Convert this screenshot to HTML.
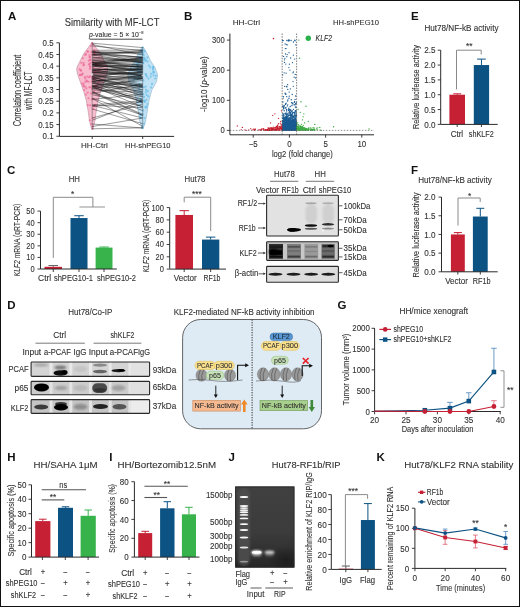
<!DOCTYPE html>
<html><head><meta charset="utf-8"><style>
html,body{margin:0;padding:0;background:#fff;}
body{width:520px;height:607px;overflow:hidden;}
svg{display:block;font-family:"Liberation Sans", sans-serif;will-change:transform;}
</style></head><body>
<svg width="520" height="607" viewBox="0 0 520 607"><defs><filter id="bl1" x="-50%" y="-100%" width="200%" height="300%"><feGaussianBlur stdDeviation="0.7"/></filter><filter id="bl2" x="-50%" y="-100%" width="200%" height="300%"><feGaussianBlur stdDeviation="1.2"/></filter><filter id="bl3" x="-50%" y="-100%" width="200%" height="300%"><feGaussianBlur stdDeviation="2"/></filter><filter id="bl05" x="-50%" y="-100%" width="200%" height="300%"><feGaussianBlur stdDeviation="0.45"/></filter><clipPath id="cb1"><rect x="266.60" y="195.20" width="71.80" height="40.80"/></clipPath><clipPath id="cb2"><rect x="266.60" y="241.80" width="71.80" height="18.60"/></clipPath><clipPath id="cb3"><rect x="266.60" y="266.40" width="71.80" height="15.80"/></clipPath><clipPath id="db1"><rect x="31.10" y="362.00" width="118.50" height="14.40"/></clipPath><clipPath id="db2"><rect x="31.10" y="381.40" width="118.50" height="13.40"/></clipPath><clipPath id="db3"><rect x="31.10" y="399.60" width="118.50" height="13.80"/></clipPath><linearGradient id="gelg" x1="0" y1="0" x2="0" y2="1"><stop offset="0" stop-color="#404040"/><stop offset="0.55" stop-color="#3c3c3c"/><stop offset="0.85" stop-color="#2e2e2e"/><stop offset="1" stop-color="#262626"/></linearGradient><filter id="glow" x="-50%" y="-100%" width="200%" height="300%"><feGaussianBlur stdDeviation="0.8"/></filter><clipPath id="gelc"><rect x="235.2" y="486.5" width="59.2" height="81.1"/></clipPath><radialGradient id="gelv" cx="0.5" cy="0.5" r="0.5"><stop offset="0" stop-color="#181818" stop-opacity="0.7"/><stop offset="1" stop-color="#181818" stop-opacity="0"/></radialGradient></defs>
<rect x="0.50" y="0.50" width="519.00" height="606.00" fill="none" stroke="#111" stroke-width="1"/>
<text x="8.00" y="19.60" font-size="11.5" fill="#111" font-weight="bold">A</text>
<text x="64.70" y="25.90" font-size="11.33" fill="#303030" stroke="#303030" stroke-width="0.1" textLength="94.70" lengthAdjust="spacingAndGlyphs">Similarity with MF-LCT</text>
<text x="89.00" y="36.80" font-size="7.04" fill="#303030" stroke="#303030" stroke-width="0.1" textLength="54.50" lengthAdjust="spacingAndGlyphs"><tspan font-style="italic">p</tspan>-value = 5 × 10<tspan font-size="4.2" dy="-2.8">−8</tspan></text>
<line x1="89.50" y1="39.20" x2="142.50" y2="39.20" stroke="#333" stroke-width="0.9"/>
<path d="M92.20,42.30 L92.60,42.60 L96.40,48.00 L100.40,53.00 L103.90,60.00 L106.90,66.00 L107.80,69.00 L107.20,73.00 L105.20,79.00 L102.70,86.00 L100.50,92.00 L98.10,100.70 L96.30,111.00 L94.80,121.40 L92.80,129.20 L92.20,129.50 L91.60,129.20 L89.60,121.40 L88.10,111.00 L86.30,100.70 L83.90,92.00 L81.70,86.00 L79.20,79.00 L77.20,73.00 L76.60,69.00 L77.50,66.00 L80.50,60.00 L84.00,53.00 L88.00,48.00 L91.80,42.60 Z" fill="#f7bccd" stroke="#b08090" stroke-width="0.5"/>
<path d="M142.70,46.80 L143.30,47.10 L146.50,52.30 L150.70,60.90 L155.10,67.80 L157.70,74.80 L156.50,81.70 L151.70,90.30 L149.00,100.70 L147.30,111.00 L145.60,121.40 L143.30,128.30 L142.70,128.60 L142.10,128.30 L139.80,121.40 L138.10,111.00 L136.40,100.70 L133.70,90.30 L128.90,81.70 L127.70,74.80 L130.30,67.80 L134.70,60.90 L138.90,52.30 L142.10,47.10 Z" fill="#bfe2f5" stroke="#80a8c0" stroke-width="0.5"/>
<circle cx="94.25" cy="50.35" r="1.10" fill="#ec6d9c" fill-opacity="0.75"/>
<circle cx="141.86" cy="49.93" r="1.10" fill="#6cbde8" fill-opacity="0.75"/>
<circle cx="94.72" cy="54.66" r="1.10" fill="#ec6d9c" fill-opacity="0.75"/>
<circle cx="141.98" cy="50.48" r="1.10" fill="#6cbde8" fill-opacity="0.75"/>
<circle cx="89.49" cy="55.09" r="1.10" fill="#ec6d9c" fill-opacity="0.75"/>
<circle cx="144.92" cy="51.52" r="1.10" fill="#6cbde8" fill-opacity="0.75"/>
<circle cx="94.83" cy="52.31" r="1.10" fill="#ec6d9c" fill-opacity="0.75"/>
<circle cx="141.49" cy="52.15" r="1.10" fill="#6cbde8" fill-opacity="0.75"/>
<circle cx="88.11" cy="51.67" r="1.10" fill="#ec6d9c" fill-opacity="0.75"/>
<circle cx="142.70" cy="52.77" r="1.10" fill="#6cbde8" fill-opacity="0.75"/>
<circle cx="91.28" cy="52.04" r="1.10" fill="#ec6d9c" fill-opacity="0.75"/>
<circle cx="142.59" cy="54.07" r="1.10" fill="#6cbde8" fill-opacity="0.75"/>
<circle cx="85.93" cy="54.13" r="1.10" fill="#ec6d9c" fill-opacity="0.75"/>
<circle cx="141.28" cy="57.15" r="1.10" fill="#6cbde8" fill-opacity="0.75"/>
<circle cx="93.60" cy="52.08" r="1.10" fill="#ec6d9c" fill-opacity="0.75"/>
<circle cx="147.40" cy="57.42" r="1.10" fill="#6cbde8" fill-opacity="0.75"/>
<circle cx="81.20" cy="62.85" r="1.10" fill="#ec6d9c" fill-opacity="0.75"/>
<circle cx="144.24" cy="57.49" r="1.10" fill="#6cbde8" fill-opacity="0.75"/>
<circle cx="94.15" cy="53.13" r="1.10" fill="#ec6d9c" fill-opacity="0.75"/>
<circle cx="139.23" cy="57.60" r="1.10" fill="#6cbde8" fill-opacity="0.75"/>
<circle cx="97.15" cy="64.29" r="1.10" fill="#ec6d9c" fill-opacity="0.75"/>
<circle cx="139.97" cy="57.74" r="1.10" fill="#6cbde8" fill-opacity="0.75"/>
<circle cx="92.19" cy="54.87" r="1.10" fill="#ec6d9c" fill-opacity="0.75"/>
<circle cx="144.24" cy="58.53" r="1.10" fill="#6cbde8" fill-opacity="0.75"/>
<circle cx="92.72" cy="62.24" r="1.10" fill="#ec6d9c" fill-opacity="0.75"/>
<circle cx="141.71" cy="58.99" r="1.10" fill="#6cbde8" fill-opacity="0.75"/>
<circle cx="88.95" cy="60.68" r="1.10" fill="#ec6d9c" fill-opacity="0.75"/>
<circle cx="144.65" cy="59.07" r="1.10" fill="#6cbde8" fill-opacity="0.75"/>
<circle cx="89.51" cy="57.15" r="1.10" fill="#ec6d9c" fill-opacity="0.75"/>
<circle cx="145.61" cy="59.89" r="1.10" fill="#6cbde8" fill-opacity="0.75"/>
<circle cx="89.00" cy="64.41" r="1.10" fill="#ec6d9c" fill-opacity="0.75"/>
<circle cx="143.14" cy="60.21" r="1.10" fill="#6cbde8" fill-opacity="0.75"/>
<circle cx="82.84" cy="58.25" r="1.10" fill="#ec6d9c" fill-opacity="0.75"/>
<circle cx="145.32" cy="60.84" r="1.10" fill="#6cbde8" fill-opacity="0.75"/>
<circle cx="90.29" cy="59.63" r="1.10" fill="#ec6d9c" fill-opacity="0.75"/>
<circle cx="140.69" cy="61.09" r="1.10" fill="#6cbde8" fill-opacity="0.75"/>
<circle cx="95.42" cy="62.88" r="1.10" fill="#ec6d9c" fill-opacity="0.75"/>
<circle cx="147.44" cy="61.41" r="1.10" fill="#6cbde8" fill-opacity="0.75"/>
<circle cx="90.02" cy="57.09" r="1.10" fill="#ec6d9c" fill-opacity="0.75"/>
<circle cx="139.72" cy="62.48" r="1.10" fill="#6cbde8" fill-opacity="0.75"/>
<circle cx="89.59" cy="64.03" r="1.10" fill="#ec6d9c" fill-opacity="0.75"/>
<circle cx="138.67" cy="62.72" r="1.10" fill="#6cbde8" fill-opacity="0.75"/>
<circle cx="87.31" cy="51.39" r="1.10" fill="#ec6d9c" fill-opacity="0.75"/>
<circle cx="143.12" cy="62.77" r="1.10" fill="#6cbde8" fill-opacity="0.75"/>
<circle cx="85.23" cy="54.89" r="1.10" fill="#ec6d9c" fill-opacity="0.75"/>
<circle cx="143.29" cy="62.99" r="1.10" fill="#6cbde8" fill-opacity="0.75"/>
<circle cx="90.19" cy="66.83" r="1.10" fill="#ec6d9c" fill-opacity="0.75"/>
<circle cx="137.25" cy="64.21" r="1.10" fill="#6cbde8" fill-opacity="0.75"/>
<circle cx="92.89" cy="61.94" r="1.10" fill="#ec6d9c" fill-opacity="0.75"/>
<circle cx="137.64" cy="65.00" r="1.10" fill="#6cbde8" fill-opacity="0.75"/>
<circle cx="95.27" cy="70.83" r="1.10" fill="#ec6d9c" fill-opacity="0.75"/>
<circle cx="148.90" cy="65.52" r="1.10" fill="#6cbde8" fill-opacity="0.75"/>
<circle cx="90.46" cy="62.81" r="1.10" fill="#ec6d9c" fill-opacity="0.75"/>
<circle cx="136.94" cy="65.77" r="1.10" fill="#6cbde8" fill-opacity="0.75"/>
<circle cx="90.06" cy="66.43" r="1.10" fill="#ec6d9c" fill-opacity="0.75"/>
<circle cx="142.32" cy="66.52" r="1.10" fill="#6cbde8" fill-opacity="0.75"/>
<circle cx="99.41" cy="64.02" r="1.10" fill="#ec6d9c" fill-opacity="0.75"/>
<circle cx="138.09" cy="66.63" r="1.10" fill="#6cbde8" fill-opacity="0.75"/>
<circle cx="97.57" cy="64.45" r="1.10" fill="#ec6d9c" fill-opacity="0.75"/>
<circle cx="153.29" cy="66.92" r="1.10" fill="#6cbde8" fill-opacity="0.75"/>
<circle cx="94.79" cy="78.81" r="1.10" fill="#ec6d9c" fill-opacity="0.75"/>
<circle cx="150.21" cy="67.28" r="1.10" fill="#6cbde8" fill-opacity="0.75"/>
<circle cx="83.48" cy="65.21" r="1.10" fill="#ec6d9c" fill-opacity="0.75"/>
<circle cx="153.27" cy="67.35" r="1.10" fill="#6cbde8" fill-opacity="0.75"/>
<circle cx="90.30" cy="60.00" r="1.10" fill="#ec6d9c" fill-opacity="0.75"/>
<circle cx="153.24" cy="68.39" r="1.10" fill="#6cbde8" fill-opacity="0.75"/>
<circle cx="99.53" cy="69.97" r="1.10" fill="#ec6d9c" fill-opacity="0.75"/>
<circle cx="138.23" cy="68.61" r="1.10" fill="#6cbde8" fill-opacity="0.75"/>
<circle cx="96.47" cy="72.21" r="1.10" fill="#ec6d9c" fill-opacity="0.75"/>
<circle cx="152.94" cy="69.06" r="1.10" fill="#6cbde8" fill-opacity="0.75"/>
<circle cx="79.74" cy="69.41" r="1.10" fill="#ec6d9c" fill-opacity="0.75"/>
<circle cx="141.75" cy="69.11" r="1.10" fill="#6cbde8" fill-opacity="0.75"/>
<circle cx="95.53" cy="65.04" r="1.10" fill="#ec6d9c" fill-opacity="0.75"/>
<circle cx="137.96" cy="69.71" r="1.10" fill="#6cbde8" fill-opacity="0.75"/>
<circle cx="99.07" cy="70.01" r="1.10" fill="#ec6d9c" fill-opacity="0.75"/>
<circle cx="140.22" cy="69.99" r="1.10" fill="#6cbde8" fill-opacity="0.75"/>
<circle cx="96.80" cy="65.06" r="1.10" fill="#ec6d9c" fill-opacity="0.75"/>
<circle cx="137.57" cy="70.34" r="1.10" fill="#6cbde8" fill-opacity="0.75"/>
<circle cx="89.91" cy="68.95" r="1.10" fill="#ec6d9c" fill-opacity="0.75"/>
<circle cx="153.38" cy="71.28" r="1.10" fill="#6cbde8" fill-opacity="0.75"/>
<circle cx="83.94" cy="64.73" r="1.10" fill="#ec6d9c" fill-opacity="0.75"/>
<circle cx="139.86" cy="71.58" r="1.10" fill="#6cbde8" fill-opacity="0.75"/>
<circle cx="90.25" cy="76.46" r="1.10" fill="#ec6d9c" fill-opacity="0.75"/>
<circle cx="141.00" cy="72.06" r="1.10" fill="#6cbde8" fill-opacity="0.75"/>
<circle cx="80.06" cy="74.88" r="1.10" fill="#ec6d9c" fill-opacity="0.75"/>
<circle cx="138.12" cy="72.15" r="1.10" fill="#6cbde8" fill-opacity="0.75"/>
<circle cx="83.54" cy="62.93" r="1.10" fill="#ec6d9c" fill-opacity="0.75"/>
<circle cx="154.06" cy="72.43" r="1.10" fill="#6cbde8" fill-opacity="0.75"/>
<circle cx="93.99" cy="72.95" r="1.10" fill="#ec6d9c" fill-opacity="0.75"/>
<circle cx="153.24" cy="72.61" r="1.10" fill="#6cbde8" fill-opacity="0.75"/>
<circle cx="82.64" cy="73.67" r="1.10" fill="#ec6d9c" fill-opacity="0.75"/>
<circle cx="151.16" cy="73.87" r="1.10" fill="#6cbde8" fill-opacity="0.75"/>
<circle cx="81.03" cy="70.64" r="1.10" fill="#ec6d9c" fill-opacity="0.75"/>
<circle cx="145.59" cy="74.10" r="1.10" fill="#6cbde8" fill-opacity="0.75"/>
<circle cx="93.03" cy="67.98" r="1.10" fill="#ec6d9c" fill-opacity="0.75"/>
<circle cx="141.80" cy="74.71" r="1.10" fill="#6cbde8" fill-opacity="0.75"/>
<circle cx="98.41" cy="71.96" r="1.10" fill="#ec6d9c" fill-opacity="0.75"/>
<circle cx="146.19" cy="74.93" r="1.10" fill="#6cbde8" fill-opacity="0.75"/>
<circle cx="91.84" cy="81.64" r="1.10" fill="#ec6d9c" fill-opacity="0.75"/>
<circle cx="153.50" cy="75.28" r="1.10" fill="#6cbde8" fill-opacity="0.75"/>
<circle cx="80.75" cy="70.27" r="1.10" fill="#ec6d9c" fill-opacity="0.75"/>
<circle cx="155.88" cy="75.83" r="1.10" fill="#6cbde8" fill-opacity="0.75"/>
<circle cx="92.88" cy="71.88" r="1.10" fill="#ec6d9c" fill-opacity="0.75"/>
<circle cx="142.57" cy="75.97" r="1.10" fill="#6cbde8" fill-opacity="0.75"/>
<circle cx="96.53" cy="65.80" r="1.10" fill="#ec6d9c" fill-opacity="0.75"/>
<circle cx="139.70" cy="76.06" r="1.10" fill="#6cbde8" fill-opacity="0.75"/>
<circle cx="99.22" cy="81.85" r="1.10" fill="#ec6d9c" fill-opacity="0.75"/>
<circle cx="146.62" cy="76.39" r="1.10" fill="#6cbde8" fill-opacity="0.75"/>
<circle cx="87.24" cy="76.64" r="1.10" fill="#ec6d9c" fill-opacity="0.75"/>
<circle cx="150.73" cy="76.67" r="1.10" fill="#6cbde8" fill-opacity="0.75"/>
<circle cx="88.98" cy="77.22" r="1.10" fill="#ec6d9c" fill-opacity="0.75"/>
<circle cx="137.83" cy="77.42" r="1.10" fill="#6cbde8" fill-opacity="0.75"/>
<circle cx="95.45" cy="72.27" r="1.10" fill="#ec6d9c" fill-opacity="0.75"/>
<circle cx="135.05" cy="77.70" r="1.10" fill="#6cbde8" fill-opacity="0.75"/>
<circle cx="95.64" cy="86.16" r="1.10" fill="#ec6d9c" fill-opacity="0.75"/>
<circle cx="139.55" cy="78.43" r="1.10" fill="#6cbde8" fill-opacity="0.75"/>
<circle cx="92.97" cy="78.97" r="1.10" fill="#ec6d9c" fill-opacity="0.75"/>
<circle cx="155.28" cy="78.49" r="1.10" fill="#6cbde8" fill-opacity="0.75"/>
<circle cx="92.00" cy="89.01" r="1.10" fill="#ec6d9c" fill-opacity="0.75"/>
<circle cx="148.37" cy="78.61" r="1.10" fill="#6cbde8" fill-opacity="0.75"/>
<circle cx="86.86" cy="80.71" r="1.10" fill="#ec6d9c" fill-opacity="0.75"/>
<circle cx="134.15" cy="78.73" r="1.10" fill="#6cbde8" fill-opacity="0.75"/>
<circle cx="80.02" cy="74.98" r="1.10" fill="#ec6d9c" fill-opacity="0.75"/>
<circle cx="137.33" cy="78.89" r="1.10" fill="#6cbde8" fill-opacity="0.75"/>
<circle cx="92.45" cy="86.04" r="1.10" fill="#ec6d9c" fill-opacity="0.75"/>
<circle cx="143.38" cy="80.46" r="1.10" fill="#6cbde8" fill-opacity="0.75"/>
<circle cx="91.17" cy="93.45" r="1.10" fill="#ec6d9c" fill-opacity="0.75"/>
<circle cx="152.03" cy="83.95" r="1.10" fill="#6cbde8" fill-opacity="0.75"/>
<circle cx="82.04" cy="74.58" r="1.10" fill="#ec6d9c" fill-opacity="0.75"/>
<circle cx="139.49" cy="84.23" r="1.10" fill="#6cbde8" fill-opacity="0.75"/>
<circle cx="93.21" cy="79.83" r="1.10" fill="#ec6d9c" fill-opacity="0.75"/>
<circle cx="135.91" cy="84.97" r="1.10" fill="#6cbde8" fill-opacity="0.75"/>
<circle cx="81.99" cy="83.49" r="1.10" fill="#ec6d9c" fill-opacity="0.75"/>
<circle cx="141.92" cy="85.64" r="1.10" fill="#6cbde8" fill-opacity="0.75"/>
<circle cx="81.55" cy="74.83" r="1.10" fill="#ec6d9c" fill-opacity="0.75"/>
<circle cx="141.97" cy="86.00" r="1.10" fill="#6cbde8" fill-opacity="0.75"/>
<circle cx="85.39" cy="81.57" r="1.10" fill="#ec6d9c" fill-opacity="0.75"/>
<circle cx="145.75" cy="86.57" r="1.10" fill="#6cbde8" fill-opacity="0.75"/>
<circle cx="91.98" cy="77.65" r="1.10" fill="#ec6d9c" fill-opacity="0.75"/>
<circle cx="139.49" cy="86.83" r="1.10" fill="#6cbde8" fill-opacity="0.75"/>
<circle cx="92.66" cy="79.36" r="1.10" fill="#ec6d9c" fill-opacity="0.75"/>
<circle cx="143.90" cy="87.36" r="1.10" fill="#6cbde8" fill-opacity="0.75"/>
<circle cx="85.09" cy="86.85" r="1.10" fill="#ec6d9c" fill-opacity="0.75"/>
<circle cx="151.22" cy="87.46" r="1.10" fill="#6cbde8" fill-opacity="0.75"/>
<circle cx="84.91" cy="77.09" r="1.10" fill="#ec6d9c" fill-opacity="0.75"/>
<circle cx="139.17" cy="89.61" r="1.10" fill="#6cbde8" fill-opacity="0.75"/>
<circle cx="83.63" cy="83.66" r="1.10" fill="#ec6d9c" fill-opacity="0.75"/>
<circle cx="146.00" cy="89.89" r="1.10" fill="#6cbde8" fill-opacity="0.75"/>
<circle cx="96.49" cy="85.91" r="1.10" fill="#ec6d9c" fill-opacity="0.75"/>
<circle cx="147.72" cy="91.21" r="1.10" fill="#6cbde8" fill-opacity="0.75"/>
<circle cx="88.63" cy="81.77" r="1.10" fill="#ec6d9c" fill-opacity="0.75"/>
<circle cx="140.96" cy="92.09" r="1.10" fill="#6cbde8" fill-opacity="0.75"/>
<circle cx="84.24" cy="90.03" r="1.10" fill="#ec6d9c" fill-opacity="0.75"/>
<circle cx="145.81" cy="92.35" r="1.10" fill="#6cbde8" fill-opacity="0.75"/>
<circle cx="91.85" cy="99.41" r="1.10" fill="#ec6d9c" fill-opacity="0.75"/>
<circle cx="142.10" cy="94.06" r="1.10" fill="#6cbde8" fill-opacity="0.75"/>
<circle cx="93.14" cy="76.58" r="1.10" fill="#ec6d9c" fill-opacity="0.75"/>
<circle cx="143.22" cy="94.19" r="1.10" fill="#6cbde8" fill-opacity="0.75"/>
<circle cx="98.06" cy="82.95" r="1.10" fill="#ec6d9c" fill-opacity="0.75"/>
<circle cx="146.60" cy="94.94" r="1.10" fill="#6cbde8" fill-opacity="0.75"/>
<circle cx="85.25" cy="78.44" r="1.10" fill="#ec6d9c" fill-opacity="0.75"/>
<circle cx="148.30" cy="96.41" r="1.10" fill="#6cbde8" fill-opacity="0.75"/>
<circle cx="83.54" cy="86.32" r="1.10" fill="#ec6d9c" fill-opacity="0.75"/>
<circle cx="144.13" cy="96.96" r="1.10" fill="#6cbde8" fill-opacity="0.75"/>
<circle cx="89.29" cy="87.33" r="1.10" fill="#ec6d9c" fill-opacity="0.75"/>
<circle cx="141.06" cy="98.98" r="1.10" fill="#6cbde8" fill-opacity="0.75"/>
<circle cx="83.49" cy="85.38" r="1.10" fill="#ec6d9c" fill-opacity="0.75"/>
<circle cx="146.39" cy="99.96" r="1.10" fill="#6cbde8" fill-opacity="0.75"/>
<circle cx="89.77" cy="120.28" r="1.10" fill="#ec6d9c" fill-opacity="0.75"/>
<circle cx="144.13" cy="100.64" r="1.10" fill="#6cbde8" fill-opacity="0.75"/>
<circle cx="94.84" cy="104.91" r="1.10" fill="#ec6d9c" fill-opacity="0.75"/>
<circle cx="140.27" cy="100.71" r="1.10" fill="#6cbde8" fill-opacity="0.75"/>
<circle cx="86.41" cy="88.35" r="1.10" fill="#ec6d9c" fill-opacity="0.75"/>
<circle cx="144.65" cy="101.05" r="1.10" fill="#6cbde8" fill-opacity="0.75"/>
<circle cx="90.80" cy="87.25" r="1.10" fill="#ec6d9c" fill-opacity="0.75"/>
<circle cx="144.91" cy="101.97" r="1.10" fill="#6cbde8" fill-opacity="0.75"/>
<circle cx="93.77" cy="106.41" r="1.10" fill="#ec6d9c" fill-opacity="0.75"/>
<circle cx="140.64" cy="102.01" r="1.10" fill="#6cbde8" fill-opacity="0.75"/>
<circle cx="86.93" cy="81.52" r="1.10" fill="#ec6d9c" fill-opacity="0.75"/>
<circle cx="141.80" cy="102.52" r="1.10" fill="#6cbde8" fill-opacity="0.75"/>
<circle cx="85.94" cy="94.65" r="1.10" fill="#ec6d9c" fill-opacity="0.75"/>
<circle cx="146.64" cy="106.32" r="1.10" fill="#6cbde8" fill-opacity="0.75"/>
<circle cx="95.06" cy="86.19" r="1.10" fill="#ec6d9c" fill-opacity="0.75"/>
<circle cx="145.19" cy="107.03" r="1.10" fill="#6cbde8" fill-opacity="0.75"/>
<circle cx="87.64" cy="105.14" r="1.10" fill="#ec6d9c" fill-opacity="0.75"/>
<circle cx="146.13" cy="107.70" r="1.10" fill="#6cbde8" fill-opacity="0.75"/>
<circle cx="94.03" cy="91.77" r="1.10" fill="#ec6d9c" fill-opacity="0.75"/>
<circle cx="143.16" cy="110.62" r="1.10" fill="#6cbde8" fill-opacity="0.75"/>
<circle cx="93.99" cy="91.69" r="1.10" fill="#ec6d9c" fill-opacity="0.75"/>
<circle cx="143.02" cy="114.40" r="1.10" fill="#6cbde8" fill-opacity="0.75"/>
<circle cx="88.51" cy="98.26" r="1.10" fill="#ec6d9c" fill-opacity="0.75"/>
<circle cx="140.97" cy="115.24" r="1.10" fill="#6cbde8" fill-opacity="0.75"/>
<circle cx="87.71" cy="92.58" r="1.10" fill="#ec6d9c" fill-opacity="0.75"/>
<circle cx="140.59" cy="115.31" r="1.10" fill="#6cbde8" fill-opacity="0.75"/>
<circle cx="90.18" cy="105.37" r="1.10" fill="#ec6d9c" fill-opacity="0.75"/>
<circle cx="144.51" cy="117.98" r="1.10" fill="#6cbde8" fill-opacity="0.75"/>
<circle cx="92.83" cy="108.99" r="1.10" fill="#ec6d9c" fill-opacity="0.75"/>
<circle cx="144.13" cy="123.69" r="1.10" fill="#6cbde8" fill-opacity="0.75"/>
<circle cx="93.29" cy="98.50" r="1.10" fill="#ec6d9c" fill-opacity="0.75"/>
<circle cx="142.45" cy="126.37" r="1.10" fill="#6cbde8" fill-opacity="0.75"/>
<circle cx="92.14" cy="43.20" r="1.10" fill="#ec6d9c" fill-opacity="0.75"/>
<circle cx="142.75" cy="47.60" r="1.10" fill="#6cbde8" fill-opacity="0.75"/>
<circle cx="92.69" cy="44.50" r="1.10" fill="#ec6d9c" fill-opacity="0.75"/>
<circle cx="143.65" cy="55.00" r="1.10" fill="#6cbde8" fill-opacity="0.75"/>
<circle cx="90.80" cy="46.00" r="1.10" fill="#ec6d9c" fill-opacity="0.75"/>
<circle cx="143.68" cy="50.50" r="1.10" fill="#6cbde8" fill-opacity="0.75"/>
<circle cx="92.58" cy="128.80" r="1.10" fill="#ec6d9c" fill-opacity="0.75"/>
<circle cx="142.49" cy="127.80" r="1.10" fill="#6cbde8" fill-opacity="0.75"/>
<circle cx="92.74" cy="126.50" r="1.10" fill="#ec6d9c" fill-opacity="0.75"/>
<circle cx="140.71" cy="118.00" r="1.10" fill="#6cbde8" fill-opacity="0.75"/>
<circle cx="91.22" cy="124.00" r="1.10" fill="#ec6d9c" fill-opacity="0.75"/>
<circle cx="142.53" cy="128.00" r="1.10" fill="#6cbde8" fill-opacity="0.75"/>
<circle cx="92.87" cy="118.00" r="1.10" fill="#ec6d9c" fill-opacity="0.75"/>
<circle cx="147.40" cy="104.00" r="1.10" fill="#6cbde8" fill-opacity="0.75"/>
<line x1="92.20" y1="50.35" x2="142.70" y2="49.93" stroke="#111" stroke-width="0.42"/>
<line x1="92.20" y1="54.66" x2="142.70" y2="50.48" stroke="#111" stroke-width="0.42"/>
<line x1="92.20" y1="55.09" x2="142.70" y2="51.52" stroke="#111" stroke-width="0.42"/>
<line x1="92.20" y1="52.31" x2="142.70" y2="52.15" stroke="#111" stroke-width="0.42"/>
<line x1="92.20" y1="51.67" x2="142.70" y2="52.77" stroke="#111" stroke-width="0.42"/>
<line x1="92.20" y1="52.04" x2="142.70" y2="54.07" stroke="#111" stroke-width="0.42"/>
<line x1="92.20" y1="54.13" x2="142.70" y2="57.15" stroke="#111" stroke-width="0.42"/>
<line x1="92.20" y1="52.08" x2="142.70" y2="57.42" stroke="#111" stroke-width="0.42"/>
<line x1="92.20" y1="62.85" x2="142.70" y2="57.49" stroke="#111" stroke-width="0.42"/>
<line x1="92.20" y1="53.13" x2="142.70" y2="57.60" stroke="#111" stroke-width="0.42"/>
<line x1="92.20" y1="64.29" x2="142.70" y2="57.74" stroke="#111" stroke-width="0.42"/>
<line x1="92.20" y1="54.87" x2="142.70" y2="58.53" stroke="#111" stroke-width="0.42"/>
<line x1="92.20" y1="62.24" x2="142.70" y2="58.99" stroke="#111" stroke-width="0.42"/>
<line x1="92.20" y1="60.68" x2="142.70" y2="59.07" stroke="#111" stroke-width="0.42"/>
<line x1="92.20" y1="57.15" x2="142.70" y2="59.89" stroke="#111" stroke-width="0.42"/>
<line x1="92.20" y1="64.41" x2="142.70" y2="60.21" stroke="#111" stroke-width="0.42"/>
<line x1="92.20" y1="58.25" x2="142.70" y2="60.84" stroke="#111" stroke-width="0.42"/>
<line x1="92.20" y1="59.63" x2="142.70" y2="61.09" stroke="#111" stroke-width="0.42"/>
<line x1="92.20" y1="62.88" x2="142.70" y2="61.41" stroke="#111" stroke-width="0.42"/>
<line x1="92.20" y1="57.09" x2="142.70" y2="62.48" stroke="#111" stroke-width="0.42"/>
<line x1="92.20" y1="64.03" x2="142.70" y2="62.72" stroke="#111" stroke-width="0.42"/>
<line x1="92.20" y1="51.39" x2="142.70" y2="62.77" stroke="#111" stroke-width="0.42"/>
<line x1="92.20" y1="54.89" x2="142.70" y2="62.99" stroke="#111" stroke-width="0.42"/>
<line x1="92.20" y1="66.83" x2="142.70" y2="64.21" stroke="#111" stroke-width="0.42"/>
<line x1="92.20" y1="61.94" x2="142.70" y2="65.00" stroke="#111" stroke-width="0.42"/>
<line x1="92.20" y1="70.83" x2="142.70" y2="65.52" stroke="#111" stroke-width="0.42"/>
<line x1="92.20" y1="62.81" x2="142.70" y2="65.77" stroke="#111" stroke-width="0.42"/>
<line x1="92.20" y1="66.43" x2="142.70" y2="66.52" stroke="#111" stroke-width="0.42"/>
<line x1="92.20" y1="64.02" x2="142.70" y2="66.63" stroke="#111" stroke-width="0.42"/>
<line x1="92.20" y1="64.45" x2="142.70" y2="66.92" stroke="#111" stroke-width="0.42"/>
<line x1="92.20" y1="78.81" x2="142.70" y2="67.28" stroke="#111" stroke-width="0.42"/>
<line x1="92.20" y1="65.21" x2="142.70" y2="67.35" stroke="#111" stroke-width="0.42"/>
<line x1="92.20" y1="60.00" x2="142.70" y2="68.39" stroke="#111" stroke-width="0.42"/>
<line x1="92.20" y1="69.97" x2="142.70" y2="68.61" stroke="#111" stroke-width="0.42"/>
<line x1="92.20" y1="72.21" x2="142.70" y2="69.06" stroke="#111" stroke-width="0.42"/>
<line x1="92.20" y1="69.41" x2="142.70" y2="69.11" stroke="#111" stroke-width="0.42"/>
<line x1="92.20" y1="65.04" x2="142.70" y2="69.71" stroke="#111" stroke-width="0.42"/>
<line x1="92.20" y1="70.01" x2="142.70" y2="69.99" stroke="#111" stroke-width="0.42"/>
<line x1="92.20" y1="65.06" x2="142.70" y2="70.34" stroke="#111" stroke-width="0.42"/>
<line x1="92.20" y1="68.95" x2="142.70" y2="71.28" stroke="#111" stroke-width="0.42"/>
<line x1="92.20" y1="64.73" x2="142.70" y2="71.58" stroke="#111" stroke-width="0.42"/>
<line x1="92.20" y1="76.46" x2="142.70" y2="72.06" stroke="#111" stroke-width="0.42"/>
<line x1="92.20" y1="74.88" x2="142.70" y2="72.15" stroke="#111" stroke-width="0.42"/>
<line x1="92.20" y1="62.93" x2="142.70" y2="72.43" stroke="#111" stroke-width="0.42"/>
<line x1="92.20" y1="72.95" x2="142.70" y2="72.61" stroke="#111" stroke-width="0.42"/>
<line x1="92.20" y1="73.67" x2="142.70" y2="73.87" stroke="#111" stroke-width="0.42"/>
<line x1="92.20" y1="70.64" x2="142.70" y2="74.10" stroke="#111" stroke-width="0.42"/>
<line x1="92.20" y1="67.98" x2="142.70" y2="74.71" stroke="#111" stroke-width="0.42"/>
<line x1="92.20" y1="71.96" x2="142.70" y2="74.93" stroke="#111" stroke-width="0.42"/>
<line x1="92.20" y1="81.64" x2="142.70" y2="75.28" stroke="#111" stroke-width="0.42"/>
<line x1="92.20" y1="70.27" x2="142.70" y2="75.83" stroke="#111" stroke-width="0.42"/>
<line x1="92.20" y1="71.88" x2="142.70" y2="75.97" stroke="#111" stroke-width="0.42"/>
<line x1="92.20" y1="65.80" x2="142.70" y2="76.06" stroke="#111" stroke-width="0.42"/>
<line x1="92.20" y1="81.85" x2="142.70" y2="76.39" stroke="#111" stroke-width="0.42"/>
<line x1="92.20" y1="76.64" x2="142.70" y2="76.67" stroke="#111" stroke-width="0.42"/>
<line x1="92.20" y1="77.22" x2="142.70" y2="77.42" stroke="#111" stroke-width="0.42"/>
<line x1="92.20" y1="72.27" x2="142.70" y2="77.70" stroke="#111" stroke-width="0.42"/>
<line x1="92.20" y1="86.16" x2="142.70" y2="78.43" stroke="#111" stroke-width="0.42"/>
<line x1="92.20" y1="78.97" x2="142.70" y2="78.49" stroke="#111" stroke-width="0.42"/>
<line x1="92.20" y1="89.01" x2="142.70" y2="78.61" stroke="#111" stroke-width="0.42"/>
<line x1="92.20" y1="80.71" x2="142.70" y2="78.73" stroke="#111" stroke-width="0.42"/>
<line x1="92.20" y1="74.98" x2="142.70" y2="78.89" stroke="#111" stroke-width="0.42"/>
<line x1="92.20" y1="86.04" x2="142.70" y2="80.46" stroke="#111" stroke-width="0.42"/>
<line x1="92.20" y1="93.45" x2="142.70" y2="83.95" stroke="#111" stroke-width="0.42"/>
<line x1="92.20" y1="74.58" x2="142.70" y2="84.23" stroke="#111" stroke-width="0.42"/>
<line x1="92.20" y1="79.83" x2="142.70" y2="84.97" stroke="#111" stroke-width="0.42"/>
<line x1="92.20" y1="83.49" x2="142.70" y2="85.64" stroke="#111" stroke-width="0.42"/>
<line x1="92.20" y1="74.83" x2="142.70" y2="86.00" stroke="#111" stroke-width="0.42"/>
<line x1="92.20" y1="81.57" x2="142.70" y2="86.57" stroke="#111" stroke-width="0.42"/>
<line x1="92.20" y1="77.65" x2="142.70" y2="86.83" stroke="#111" stroke-width="0.42"/>
<line x1="92.20" y1="79.36" x2="142.70" y2="87.36" stroke="#111" stroke-width="0.42"/>
<line x1="92.20" y1="86.85" x2="142.70" y2="87.46" stroke="#111" stroke-width="0.42"/>
<line x1="92.20" y1="77.09" x2="142.70" y2="89.61" stroke="#111" stroke-width="0.42"/>
<line x1="92.20" y1="83.66" x2="142.70" y2="89.89" stroke="#111" stroke-width="0.42"/>
<line x1="92.20" y1="85.91" x2="142.70" y2="91.21" stroke="#111" stroke-width="0.42"/>
<line x1="92.20" y1="81.77" x2="142.70" y2="92.09" stroke="#111" stroke-width="0.42"/>
<line x1="92.20" y1="90.03" x2="142.70" y2="92.35" stroke="#111" stroke-width="0.42"/>
<line x1="92.20" y1="99.41" x2="142.70" y2="94.06" stroke="#111" stroke-width="0.42"/>
<line x1="92.20" y1="76.58" x2="142.70" y2="94.19" stroke="#111" stroke-width="0.42"/>
<line x1="92.20" y1="82.95" x2="142.70" y2="94.94" stroke="#111" stroke-width="0.42"/>
<line x1="92.20" y1="78.44" x2="142.70" y2="96.41" stroke="#111" stroke-width="0.42"/>
<line x1="92.20" y1="86.32" x2="142.70" y2="96.96" stroke="#111" stroke-width="0.42"/>
<line x1="92.20" y1="87.33" x2="142.70" y2="98.98" stroke="#111" stroke-width="0.42"/>
<line x1="92.20" y1="85.38" x2="142.70" y2="99.96" stroke="#111" stroke-width="0.42"/>
<line x1="92.20" y1="120.28" x2="142.70" y2="100.64" stroke="#111" stroke-width="0.42"/>
<line x1="92.20" y1="104.91" x2="142.70" y2="100.71" stroke="#111" stroke-width="0.42"/>
<line x1="92.20" y1="88.35" x2="142.70" y2="101.05" stroke="#111" stroke-width="0.42"/>
<line x1="92.20" y1="87.25" x2="142.70" y2="101.97" stroke="#111" stroke-width="0.42"/>
<line x1="92.20" y1="106.41" x2="142.70" y2="102.01" stroke="#111" stroke-width="0.42"/>
<line x1="92.20" y1="81.52" x2="142.70" y2="102.52" stroke="#111" stroke-width="0.42"/>
<line x1="92.20" y1="94.65" x2="142.70" y2="106.32" stroke="#111" stroke-width="0.42"/>
<line x1="92.20" y1="86.19" x2="142.70" y2="107.03" stroke="#111" stroke-width="0.42"/>
<line x1="92.20" y1="105.14" x2="142.70" y2="107.70" stroke="#111" stroke-width="0.42"/>
<line x1="92.20" y1="91.77" x2="142.70" y2="110.62" stroke="#111" stroke-width="0.42"/>
<line x1="92.20" y1="91.69" x2="142.70" y2="114.40" stroke="#111" stroke-width="0.42"/>
<line x1="92.20" y1="98.26" x2="142.70" y2="115.24" stroke="#111" stroke-width="0.42"/>
<line x1="92.20" y1="92.58" x2="142.70" y2="115.31" stroke="#111" stroke-width="0.42"/>
<line x1="92.20" y1="105.37" x2="142.70" y2="117.98" stroke="#111" stroke-width="0.42"/>
<line x1="92.20" y1="108.99" x2="142.70" y2="123.69" stroke="#111" stroke-width="0.42"/>
<line x1="92.20" y1="98.50" x2="142.70" y2="126.37" stroke="#111" stroke-width="0.42"/>
<line x1="92.20" y1="43.20" x2="142.70" y2="47.60" stroke="#111" stroke-width="0.42"/>
<line x1="92.20" y1="44.50" x2="142.70" y2="55.00" stroke="#111" stroke-width="0.42"/>
<line x1="92.20" y1="46.00" x2="142.70" y2="50.50" stroke="#111" stroke-width="0.42"/>
<line x1="92.20" y1="128.80" x2="142.70" y2="127.80" stroke="#111" stroke-width="0.42"/>
<line x1="92.20" y1="126.50" x2="142.70" y2="118.00" stroke="#111" stroke-width="0.42"/>
<line x1="92.20" y1="124.00" x2="142.70" y2="128.00" stroke="#111" stroke-width="0.42"/>
<line x1="92.20" y1="118.00" x2="142.70" y2="104.00" stroke="#111" stroke-width="0.42"/>
<circle cx="92.20" cy="74.40" r="1.10" fill="#fff"/>
<circle cx="142.70" cy="75.50" r="1.10" fill="#fff"/>
<line x1="92.20" y1="42.80" x2="92.20" y2="129.20" stroke="#555" stroke-width="0.5"/>
<line x1="142.70" y1="47.10" x2="142.70" y2="128.30" stroke="#555" stroke-width="0.5"/>
<line x1="59.40" y1="42.80" x2="59.40" y2="136.40" stroke="#2a2a2a" stroke-width="1"/>
<line x1="56.40" y1="42.80" x2="59.40" y2="42.80" stroke="#2a2a2a" stroke-width="0.9"/>
<text x="53.60" y="45.93" font-size="8.69" text-anchor="end" fill="#303030" stroke="#303030" stroke-width="0.1" textLength="10.98" lengthAdjust="spacingAndGlyphs">0.5</text>
<line x1="56.40" y1="54.48" x2="59.40" y2="54.48" stroke="#2a2a2a" stroke-width="0.9"/>
<text x="53.60" y="57.61" font-size="8.69" text-anchor="end" fill="#303030" stroke="#303030" stroke-width="0.1" textLength="15.37" lengthAdjust="spacingAndGlyphs">0.45</text>
<line x1="56.40" y1="66.16" x2="59.40" y2="66.16" stroke="#2a2a2a" stroke-width="0.9"/>
<text x="53.60" y="69.29" font-size="8.69" text-anchor="end" fill="#303030" stroke="#303030" stroke-width="0.1" textLength="10.98" lengthAdjust="spacingAndGlyphs">0.4</text>
<line x1="56.40" y1="77.84" x2="59.40" y2="77.84" stroke="#2a2a2a" stroke-width="0.9"/>
<text x="53.60" y="80.97" font-size="8.69" text-anchor="end" fill="#303030" stroke="#303030" stroke-width="0.1" textLength="15.37" lengthAdjust="spacingAndGlyphs">0.35</text>
<line x1="56.40" y1="89.52" x2="59.40" y2="89.52" stroke="#2a2a2a" stroke-width="0.9"/>
<text x="53.60" y="92.65" font-size="8.69" text-anchor="end" fill="#303030" stroke="#303030" stroke-width="0.1" textLength="10.98" lengthAdjust="spacingAndGlyphs">0.3</text>
<line x1="56.40" y1="101.20" x2="59.40" y2="101.20" stroke="#2a2a2a" stroke-width="0.9"/>
<text x="53.60" y="104.33" font-size="8.69" text-anchor="end" fill="#303030" stroke="#303030" stroke-width="0.1" textLength="15.37" lengthAdjust="spacingAndGlyphs">0.25</text>
<line x1="56.40" y1="112.88" x2="59.40" y2="112.88" stroke="#2a2a2a" stroke-width="0.9"/>
<text x="53.60" y="116.01" font-size="8.69" text-anchor="end" fill="#303030" stroke="#303030" stroke-width="0.1" textLength="10.98" lengthAdjust="spacingAndGlyphs">0.2</text>
<line x1="56.40" y1="124.56" x2="59.40" y2="124.56" stroke="#2a2a2a" stroke-width="0.9"/>
<text x="53.60" y="127.69" font-size="8.69" text-anchor="end" fill="#303030" stroke="#303030" stroke-width="0.1" textLength="15.37" lengthAdjust="spacingAndGlyphs">0.15</text>
<line x1="56.40" y1="136.24" x2="59.40" y2="136.24" stroke="#2a2a2a" stroke-width="0.9"/>
<text x="53.60" y="139.37" font-size="8.69" text-anchor="end" fill="#303030" stroke="#303030" stroke-width="0.1" textLength="10.98" lengthAdjust="spacingAndGlyphs">0.1</text>
<line x1="59.40" y1="136.40" x2="174.10" y2="136.40" stroke="#2a2a2a" stroke-width="1"/>
<line x1="92.20" y1="136.40" x2="92.20" y2="139.00" stroke="#2a2a2a" stroke-width="0.9"/>
<line x1="142.70" y1="136.40" x2="142.70" y2="139.00" stroke="#2a2a2a" stroke-width="0.9"/>
<text x="94.35" y="148.20" font-size="7.92" text-anchor="middle" fill="#303030" stroke="#303030" stroke-width="0.1" textLength="26.70" lengthAdjust="spacingAndGlyphs">HH-Ctrl</text>
<text x="147.75" y="148.20" font-size="7.92" text-anchor="middle" fill="#303030" stroke="#303030" stroke-width="0.1" textLength="45.50" lengthAdjust="spacingAndGlyphs">HH-shPEG10</text>
<text x="21.20" y="90.50" font-size="10.78" text-anchor="middle" fill="#303030" stroke="#303030" stroke-width="0.1" textLength="71.70" lengthAdjust="spacingAndGlyphs" transform="rotate(-90 21.20 90.50)">Correlation coefficient</text>
<text x="32.40" y="90.80" font-size="10.12" text-anchor="middle" fill="#303030" stroke="#303030" stroke-width="0.1" textLength="38.20" lengthAdjust="spacingAndGlyphs" transform="rotate(-90 32.40 90.80)">with MF-LCT</text>
<text x="184.10" y="19.80" font-size="11.5" fill="#111" font-weight="bold">B</text>
<text x="232.70" y="25.00" font-size="8.03" fill="#303030" stroke="#303030" stroke-width="0.1" textLength="27.30" lengthAdjust="spacingAndGlyphs">HH-Ctrl</text>
<text x="333.00" y="25.00" font-size="8.03" fill="#303030" stroke="#303030" stroke-width="0.1" textLength="46.00" lengthAdjust="spacingAndGlyphs">HH-shPEG10</text>
<circle cx="288.74" cy="125.09" r="0.70" fill="#1a5b93"/>
<circle cx="295.30" cy="127.10" r="0.70" fill="#1a5b93"/>
<circle cx="289.51" cy="124.56" r="0.70" fill="#1a5b93"/>
<circle cx="285.02" cy="126.37" r="0.70" fill="#1a5b93"/>
<circle cx="291.21" cy="120.62" r="0.70" fill="#1a5b93"/>
<circle cx="283.76" cy="128.47" r="0.70" fill="#1a5b93"/>
<circle cx="283.71" cy="121.58" r="0.70" fill="#1a5b93"/>
<circle cx="292.09" cy="130.14" r="0.70" fill="#1a5b93"/>
<circle cx="296.10" cy="113.39" r="0.70" fill="#1a5b93"/>
<circle cx="291.54" cy="124.54" r="0.70" fill="#1a5b93"/>
<circle cx="284.64" cy="130.32" r="0.70" fill="#1a5b93"/>
<circle cx="289.79" cy="130.00" r="0.70" fill="#1a5b93"/>
<circle cx="285.09" cy="128.84" r="0.70" fill="#1a5b93"/>
<circle cx="282.87" cy="127.20" r="0.70" fill="#1a5b93"/>
<circle cx="288.57" cy="118.52" r="0.70" fill="#1a5b93"/>
<circle cx="289.67" cy="123.69" r="0.70" fill="#1a5b93"/>
<circle cx="289.40" cy="123.21" r="0.70" fill="#1a5b93"/>
<circle cx="288.81" cy="128.29" r="0.70" fill="#1a5b93"/>
<circle cx="296.32" cy="103.06" r="0.70" fill="#1a5b93"/>
<circle cx="294.13" cy="123.58" r="0.70" fill="#1a5b93"/>
<circle cx="286.83" cy="128.83" r="0.70" fill="#1a5b93"/>
<circle cx="286.47" cy="129.97" r="0.70" fill="#1a5b93"/>
<circle cx="293.10" cy="127.45" r="0.70" fill="#1a5b93"/>
<circle cx="294.22" cy="127.70" r="0.70" fill="#1a5b93"/>
<circle cx="295.77" cy="120.69" r="0.70" fill="#1a5b93"/>
<circle cx="282.46" cy="129.22" r="0.70" fill="#1a5b93"/>
<circle cx="295.10" cy="127.02" r="0.70" fill="#1a5b93"/>
<circle cx="296.08" cy="127.82" r="0.70" fill="#1a5b93"/>
<circle cx="283.46" cy="125.17" r="0.70" fill="#1a5b93"/>
<circle cx="293.27" cy="128.60" r="0.70" fill="#1a5b93"/>
<circle cx="283.66" cy="128.25" r="0.70" fill="#1a5b93"/>
<circle cx="295.85" cy="123.10" r="0.70" fill="#1a5b93"/>
<circle cx="284.09" cy="128.87" r="0.70" fill="#1a5b93"/>
<circle cx="283.85" cy="130.07" r="0.70" fill="#1a5b93"/>
<circle cx="293.53" cy="129.29" r="0.70" fill="#1a5b93"/>
<circle cx="290.22" cy="126.58" r="0.70" fill="#1a5b93"/>
<circle cx="285.10" cy="122.98" r="0.70" fill="#1a5b93"/>
<circle cx="284.27" cy="124.78" r="0.70" fill="#1a5b93"/>
<circle cx="284.07" cy="127.45" r="0.70" fill="#1a5b93"/>
<circle cx="285.41" cy="128.61" r="0.70" fill="#1a5b93"/>
<circle cx="295.95" cy="122.07" r="0.70" fill="#1a5b93"/>
<circle cx="286.68" cy="117.44" r="0.70" fill="#1a5b93"/>
<circle cx="285.38" cy="127.54" r="0.70" fill="#1a5b93"/>
<circle cx="294.33" cy="124.76" r="0.70" fill="#1a5b93"/>
<circle cx="283.84" cy="106.17" r="0.70" fill="#1a5b93"/>
<circle cx="285.41" cy="128.69" r="0.70" fill="#1a5b93"/>
<circle cx="293.19" cy="128.10" r="0.70" fill="#1a5b93"/>
<circle cx="286.57" cy="129.94" r="0.70" fill="#1a5b93"/>
<circle cx="283.70" cy="125.75" r="0.70" fill="#1a5b93"/>
<circle cx="285.83" cy="125.06" r="0.70" fill="#1a5b93"/>
<circle cx="287.62" cy="126.65" r="0.70" fill="#1a5b93"/>
<circle cx="295.78" cy="126.99" r="0.70" fill="#1a5b93"/>
<circle cx="290.44" cy="117.55" r="0.70" fill="#1a5b93"/>
<circle cx="284.99" cy="129.46" r="0.70" fill="#1a5b93"/>
<circle cx="295.08" cy="121.34" r="0.70" fill="#1a5b93"/>
<circle cx="285.92" cy="129.17" r="0.70" fill="#1a5b93"/>
<circle cx="292.73" cy="113.88" r="0.70" fill="#1a5b93"/>
<circle cx="285.18" cy="113.45" r="0.70" fill="#1a5b93"/>
<circle cx="294.71" cy="125.40" r="0.70" fill="#1a5b93"/>
<circle cx="288.31" cy="129.70" r="0.70" fill="#1a5b93"/>
<circle cx="282.99" cy="113.46" r="0.70" fill="#1a5b93"/>
<circle cx="285.76" cy="123.34" r="0.70" fill="#1a5b93"/>
<circle cx="286.02" cy="120.25" r="0.70" fill="#1a5b93"/>
<circle cx="290.74" cy="128.21" r="0.70" fill="#1a5b93"/>
<circle cx="284.89" cy="123.28" r="0.70" fill="#1a5b93"/>
<circle cx="283.41" cy="129.04" r="0.70" fill="#1a5b93"/>
<circle cx="290.23" cy="118.10" r="0.70" fill="#1a5b93"/>
<circle cx="290.99" cy="128.34" r="0.70" fill="#1a5b93"/>
<circle cx="295.20" cy="129.19" r="0.70" fill="#1a5b93"/>
<circle cx="282.68" cy="128.81" r="0.70" fill="#1a5b93"/>
<circle cx="288.65" cy="130.00" r="0.70" fill="#1a5b93"/>
<circle cx="284.90" cy="127.83" r="0.70" fill="#1a5b93"/>
<circle cx="290.40" cy="129.50" r="0.70" fill="#1a5b93"/>
<circle cx="287.48" cy="116.70" r="0.70" fill="#1a5b93"/>
<circle cx="296.08" cy="124.95" r="0.70" fill="#1a5b93"/>
<circle cx="292.06" cy="125.12" r="0.70" fill="#1a5b93"/>
<circle cx="284.40" cy="130.20" r="0.70" fill="#1a5b93"/>
<circle cx="282.70" cy="118.14" r="0.70" fill="#1a5b93"/>
<circle cx="292.19" cy="110.73" r="0.70" fill="#1a5b93"/>
<circle cx="282.75" cy="125.24" r="0.70" fill="#1a5b93"/>
<circle cx="289.15" cy="121.79" r="0.70" fill="#1a5b93"/>
<circle cx="286.88" cy="86.83" r="0.70" fill="#1a5b93"/>
<circle cx="283.50" cy="126.24" r="0.70" fill="#1a5b93"/>
<circle cx="292.69" cy="116.88" r="0.70" fill="#1a5b93"/>
<circle cx="292.70" cy="123.26" r="0.70" fill="#1a5b93"/>
<circle cx="293.48" cy="116.38" r="0.70" fill="#1a5b93"/>
<circle cx="287.34" cy="123.29" r="0.70" fill="#1a5b93"/>
<circle cx="294.97" cy="119.45" r="0.70" fill="#1a5b93"/>
<circle cx="288.25" cy="120.46" r="0.70" fill="#1a5b93"/>
<circle cx="294.45" cy="125.75" r="0.70" fill="#1a5b93"/>
<circle cx="291.14" cy="127.40" r="0.70" fill="#1a5b93"/>
<circle cx="290.55" cy="124.43" r="0.70" fill="#1a5b93"/>
<circle cx="283.56" cy="125.01" r="0.70" fill="#1a5b93"/>
<circle cx="296.26" cy="119.70" r="0.70" fill="#1a5b93"/>
<circle cx="292.57" cy="127.50" r="0.70" fill="#1a5b93"/>
<circle cx="292.67" cy="125.29" r="0.70" fill="#1a5b93"/>
<circle cx="288.57" cy="118.68" r="0.70" fill="#1a5b93"/>
<circle cx="283.61" cy="123.05" r="0.70" fill="#1a5b93"/>
<circle cx="282.86" cy="125.69" r="0.70" fill="#1a5b93"/>
<circle cx="289.14" cy="128.68" r="0.70" fill="#1a5b93"/>
<circle cx="292.16" cy="126.28" r="0.70" fill="#1a5b93"/>
<circle cx="290.99" cy="114.56" r="0.70" fill="#1a5b93"/>
<circle cx="286.01" cy="130.33" r="0.70" fill="#1a5b93"/>
<circle cx="286.63" cy="123.61" r="0.70" fill="#1a5b93"/>
<circle cx="285.27" cy="129.35" r="0.70" fill="#1a5b93"/>
<circle cx="295.04" cy="124.65" r="0.70" fill="#1a5b93"/>
<circle cx="288.59" cy="116.09" r="0.70" fill="#1a5b93"/>
<circle cx="286.99" cy="123.74" r="0.70" fill="#1a5b93"/>
<circle cx="285.21" cy="127.21" r="0.70" fill="#1a5b93"/>
<circle cx="293.65" cy="116.53" r="0.70" fill="#1a5b93"/>
<circle cx="294.69" cy="127.77" r="0.70" fill="#1a5b93"/>
<circle cx="290.56" cy="127.98" r="0.70" fill="#1a5b93"/>
<circle cx="284.34" cy="126.65" r="0.70" fill="#1a5b93"/>
<circle cx="294.09" cy="119.92" r="0.70" fill="#1a5b93"/>
<circle cx="292.34" cy="112.58" r="0.70" fill="#1a5b93"/>
<circle cx="286.30" cy="129.30" r="0.70" fill="#1a5b93"/>
<circle cx="288.71" cy="128.32" r="0.70" fill="#1a5b93"/>
<circle cx="285.43" cy="127.35" r="0.70" fill="#1a5b93"/>
<circle cx="291.15" cy="126.16" r="0.70" fill="#1a5b93"/>
<circle cx="286.83" cy="119.38" r="0.70" fill="#1a5b93"/>
<circle cx="296.10" cy="127.33" r="0.70" fill="#1a5b93"/>
<circle cx="283.49" cy="130.23" r="0.70" fill="#1a5b93"/>
<circle cx="294.58" cy="130.17" r="0.70" fill="#1a5b93"/>
<circle cx="292.30" cy="125.36" r="0.70" fill="#1a5b93"/>
<circle cx="286.75" cy="120.97" r="0.70" fill="#1a5b93"/>
<circle cx="282.72" cy="129.66" r="0.70" fill="#1a5b93"/>
<circle cx="288.77" cy="130.24" r="0.70" fill="#1a5b93"/>
<circle cx="293.98" cy="128.89" r="0.70" fill="#1a5b93"/>
<circle cx="284.41" cy="130.14" r="0.70" fill="#1a5b93"/>
<circle cx="291.20" cy="126.73" r="0.70" fill="#1a5b93"/>
<circle cx="291.21" cy="123.79" r="0.70" fill="#1a5b93"/>
<circle cx="293.67" cy="112.46" r="0.70" fill="#1a5b93"/>
<circle cx="291.96" cy="129.06" r="0.70" fill="#1a5b93"/>
<circle cx="289.05" cy="129.11" r="0.70" fill="#1a5b93"/>
<circle cx="282.60" cy="127.16" r="0.70" fill="#1a5b93"/>
<circle cx="292.38" cy="129.23" r="0.70" fill="#1a5b93"/>
<circle cx="286.24" cy="127.90" r="0.70" fill="#1a5b93"/>
<circle cx="292.14" cy="126.00" r="0.70" fill="#1a5b93"/>
<circle cx="290.99" cy="121.57" r="0.70" fill="#1a5b93"/>
<circle cx="287.92" cy="120.54" r="0.70" fill="#1a5b93"/>
<circle cx="295.05" cy="129.91" r="0.70" fill="#1a5b93"/>
<circle cx="295.41" cy="123.68" r="0.70" fill="#1a5b93"/>
<circle cx="284.26" cy="127.11" r="0.70" fill="#1a5b93"/>
<circle cx="291.15" cy="115.42" r="0.70" fill="#1a5b93"/>
<circle cx="287.69" cy="125.16" r="0.70" fill="#1a5b93"/>
<circle cx="294.67" cy="121.77" r="0.70" fill="#1a5b93"/>
<circle cx="295.58" cy="127.15" r="0.70" fill="#1a5b93"/>
<circle cx="291.50" cy="128.99" r="0.70" fill="#1a5b93"/>
<circle cx="292.49" cy="120.31" r="0.70" fill="#1a5b93"/>
<circle cx="291.37" cy="122.60" r="0.70" fill="#1a5b93"/>
<circle cx="285.41" cy="117.26" r="0.70" fill="#1a5b93"/>
<circle cx="296.08" cy="111.12" r="0.70" fill="#1a5b93"/>
<circle cx="289.91" cy="120.23" r="0.70" fill="#1a5b93"/>
<circle cx="286.90" cy="115.84" r="0.70" fill="#1a5b93"/>
<circle cx="294.35" cy="128.05" r="0.70" fill="#1a5b93"/>
<circle cx="283.60" cy="127.32" r="0.70" fill="#1a5b93"/>
<circle cx="290.10" cy="120.95" r="0.70" fill="#1a5b93"/>
<circle cx="289.23" cy="130.21" r="0.70" fill="#1a5b93"/>
<circle cx="293.70" cy="130.03" r="0.70" fill="#1a5b93"/>
<circle cx="293.57" cy="129.32" r="0.70" fill="#1a5b93"/>
<circle cx="287.11" cy="120.95" r="0.70" fill="#1a5b93"/>
<circle cx="284.40" cy="129.52" r="0.70" fill="#1a5b93"/>
<circle cx="289.63" cy="121.95" r="0.70" fill="#1a5b93"/>
<circle cx="294.13" cy="123.92" r="0.70" fill="#1a5b93"/>
<circle cx="295.60" cy="126.87" r="0.70" fill="#1a5b93"/>
<circle cx="295.64" cy="129.93" r="0.70" fill="#1a5b93"/>
<circle cx="285.53" cy="126.11" r="0.70" fill="#1a5b93"/>
<circle cx="286.48" cy="122.63" r="0.70" fill="#1a5b93"/>
<circle cx="291.33" cy="125.83" r="0.70" fill="#1a5b93"/>
<circle cx="294.18" cy="125.86" r="0.70" fill="#1a5b93"/>
<circle cx="286.78" cy="127.51" r="0.70" fill="#1a5b93"/>
<circle cx="294.20" cy="117.66" r="0.70" fill="#1a5b93"/>
<circle cx="285.34" cy="119.57" r="0.70" fill="#1a5b93"/>
<circle cx="295.91" cy="126.59" r="0.70" fill="#1a5b93"/>
<circle cx="290.41" cy="128.97" r="0.70" fill="#1a5b93"/>
<circle cx="289.90" cy="125.85" r="0.70" fill="#1a5b93"/>
<circle cx="290.86" cy="130.22" r="0.70" fill="#1a5b93"/>
<circle cx="295.93" cy="126.68" r="0.70" fill="#1a5b93"/>
<circle cx="288.02" cy="120.22" r="0.70" fill="#1a5b93"/>
<circle cx="290.27" cy="126.06" r="0.70" fill="#1a5b93"/>
<circle cx="292.05" cy="129.99" r="0.70" fill="#1a5b93"/>
<circle cx="289.94" cy="126.93" r="0.70" fill="#1a5b93"/>
<circle cx="295.75" cy="117.12" r="0.70" fill="#1a5b93"/>
<circle cx="286.19" cy="126.63" r="0.70" fill="#1a5b93"/>
<circle cx="284.21" cy="127.31" r="0.70" fill="#1a5b93"/>
<circle cx="293.79" cy="117.44" r="0.70" fill="#1a5b93"/>
<circle cx="289.07" cy="127.90" r="0.70" fill="#1a5b93"/>
<circle cx="285.11" cy="124.97" r="0.70" fill="#1a5b93"/>
<circle cx="295.31" cy="129.67" r="0.70" fill="#1a5b93"/>
<circle cx="293.28" cy="130.27" r="0.70" fill="#1a5b93"/>
<circle cx="285.15" cy="128.94" r="0.70" fill="#1a5b93"/>
<circle cx="292.00" cy="128.06" r="0.70" fill="#1a5b93"/>
<circle cx="287.39" cy="124.44" r="0.70" fill="#1a5b93"/>
<circle cx="283.91" cy="123.36" r="0.70" fill="#1a5b93"/>
<circle cx="284.16" cy="126.53" r="0.70" fill="#1a5b93"/>
<circle cx="285.93" cy="129.12" r="0.70" fill="#1a5b93"/>
<circle cx="289.82" cy="126.65" r="0.70" fill="#1a5b93"/>
<circle cx="287.67" cy="127.08" r="0.70" fill="#1a5b93"/>
<circle cx="289.81" cy="129.26" r="0.70" fill="#1a5b93"/>
<circle cx="285.29" cy="124.73" r="0.70" fill="#1a5b93"/>
<circle cx="291.32" cy="125.74" r="0.70" fill="#1a5b93"/>
<circle cx="294.28" cy="125.19" r="0.70" fill="#1a5b93"/>
<circle cx="294.36" cy="128.95" r="0.70" fill="#1a5b93"/>
<circle cx="292.75" cy="120.66" r="0.70" fill="#1a5b93"/>
<circle cx="295.00" cy="128.37" r="0.70" fill="#1a5b93"/>
<circle cx="286.83" cy="114.95" r="0.70" fill="#1a5b93"/>
<circle cx="285.48" cy="94.04" r="0.70" fill="#1a5b93"/>
<circle cx="294.79" cy="129.63" r="0.70" fill="#1a5b93"/>
<circle cx="285.78" cy="122.89" r="0.70" fill="#1a5b93"/>
<circle cx="286.06" cy="129.80" r="0.70" fill="#1a5b93"/>
<circle cx="294.02" cy="127.35" r="0.70" fill="#1a5b93"/>
<circle cx="293.43" cy="129.63" r="0.70" fill="#1a5b93"/>
<circle cx="288.05" cy="123.10" r="0.70" fill="#1a5b93"/>
<circle cx="282.70" cy="129.26" r="0.70" fill="#1a5b93"/>
<circle cx="291.94" cy="115.76" r="0.70" fill="#1a5b93"/>
<circle cx="295.91" cy="129.77" r="0.70" fill="#1a5b93"/>
<circle cx="289.48" cy="121.03" r="0.70" fill="#1a5b93"/>
<circle cx="289.44" cy="122.75" r="0.70" fill="#1a5b93"/>
<circle cx="285.08" cy="129.99" r="0.70" fill="#1a5b93"/>
<circle cx="283.93" cy="130.20" r="0.70" fill="#1a5b93"/>
<circle cx="290.12" cy="125.73" r="0.70" fill="#1a5b93"/>
<circle cx="290.36" cy="129.39" r="0.70" fill="#1a5b93"/>
<circle cx="285.01" cy="129.12" r="0.70" fill="#1a5b93"/>
<circle cx="294.13" cy="104.77" r="0.70" fill="#1a5b93"/>
<circle cx="295.33" cy="129.87" r="0.70" fill="#1a5b93"/>
<circle cx="283.31" cy="114.58" r="0.70" fill="#1a5b93"/>
<circle cx="288.87" cy="120.99" r="0.70" fill="#1a5b93"/>
<circle cx="286.99" cy="126.58" r="0.70" fill="#1a5b93"/>
<circle cx="289.61" cy="126.70" r="0.70" fill="#1a5b93"/>
<circle cx="290.80" cy="130.32" r="0.70" fill="#1a5b93"/>
<circle cx="292.19" cy="119.28" r="0.70" fill="#1a5b93"/>
<circle cx="284.97" cy="127.01" r="0.70" fill="#1a5b93"/>
<circle cx="292.73" cy="127.35" r="0.70" fill="#1a5b93"/>
<circle cx="285.16" cy="129.38" r="0.70" fill="#1a5b93"/>
<circle cx="289.57" cy="130.30" r="0.70" fill="#1a5b93"/>
<circle cx="294.87" cy="121.71" r="0.70" fill="#1a5b93"/>
<circle cx="292.25" cy="118.63" r="0.70" fill="#1a5b93"/>
<circle cx="291.20" cy="127.18" r="0.70" fill="#1a5b93"/>
<circle cx="290.78" cy="125.98" r="0.70" fill="#1a5b93"/>
<circle cx="296.11" cy="122.09" r="0.70" fill="#1a5b93"/>
<circle cx="286.04" cy="116.23" r="0.70" fill="#1a5b93"/>
<circle cx="292.80" cy="121.61" r="0.70" fill="#1a5b93"/>
<circle cx="293.77" cy="127.48" r="0.70" fill="#1a5b93"/>
<circle cx="294.91" cy="119.04" r="0.70" fill="#1a5b93"/>
<circle cx="292.11" cy="121.65" r="0.70" fill="#1a5b93"/>
<circle cx="293.09" cy="127.39" r="0.70" fill="#1a5b93"/>
<circle cx="292.49" cy="129.97" r="0.70" fill="#1a5b93"/>
<circle cx="287.20" cy="126.53" r="0.70" fill="#1a5b93"/>
<circle cx="282.60" cy="128.17" r="0.70" fill="#1a5b93"/>
<circle cx="291.33" cy="124.35" r="0.70" fill="#1a5b93"/>
<circle cx="285.68" cy="113.71" r="0.70" fill="#1a5b93"/>
<circle cx="291.71" cy="127.89" r="0.70" fill="#1a5b93"/>
<circle cx="291.62" cy="125.25" r="0.70" fill="#1a5b93"/>
<circle cx="289.86" cy="127.18" r="0.70" fill="#1a5b93"/>
<circle cx="296.35" cy="125.23" r="0.70" fill="#1a5b93"/>
<circle cx="292.20" cy="121.82" r="0.70" fill="#1a5b93"/>
<circle cx="296.07" cy="130.28" r="0.70" fill="#1a5b93"/>
<circle cx="291.00" cy="122.00" r="0.70" fill="#1a5b93"/>
<circle cx="286.02" cy="127.40" r="0.70" fill="#1a5b93"/>
<circle cx="283.15" cy="129.27" r="0.70" fill="#1a5b93"/>
<circle cx="287.67" cy="129.75" r="0.70" fill="#1a5b93"/>
<circle cx="285.94" cy="116.64" r="0.70" fill="#1a5b93"/>
<circle cx="290.10" cy="125.82" r="0.70" fill="#1a5b93"/>
<circle cx="295.89" cy="126.09" r="0.70" fill="#1a5b93"/>
<circle cx="296.28" cy="125.27" r="0.70" fill="#1a5b93"/>
<circle cx="293.70" cy="129.95" r="0.70" fill="#1a5b93"/>
<circle cx="290.76" cy="121.41" r="0.70" fill="#1a5b93"/>
<circle cx="283.08" cy="116.63" r="0.70" fill="#1a5b93"/>
<circle cx="284.67" cy="126.86" r="0.70" fill="#1a5b93"/>
<circle cx="284.80" cy="126.59" r="0.70" fill="#1a5b93"/>
<circle cx="290.95" cy="130.02" r="0.70" fill="#1a5b93"/>
<circle cx="295.59" cy="127.56" r="0.70" fill="#1a5b93"/>
<circle cx="289.77" cy="124.45" r="0.70" fill="#1a5b93"/>
<circle cx="287.53" cy="128.32" r="0.70" fill="#1a5b93"/>
<circle cx="291.56" cy="125.36" r="0.70" fill="#1a5b93"/>
<circle cx="286.39" cy="122.92" r="0.70" fill="#1a5b93"/>
<circle cx="286.56" cy="130.32" r="0.70" fill="#1a5b93"/>
<circle cx="285.86" cy="130.15" r="0.70" fill="#1a5b93"/>
<circle cx="284.63" cy="122.63" r="0.70" fill="#1a5b93"/>
<circle cx="287.87" cy="116.12" r="0.70" fill="#1a5b93"/>
<circle cx="292.85" cy="130.10" r="0.70" fill="#1a5b93"/>
<circle cx="296.19" cy="115.76" r="0.70" fill="#1a5b93"/>
<circle cx="283.47" cy="117.98" r="0.70" fill="#1a5b93"/>
<circle cx="288.42" cy="126.25" r="0.70" fill="#1a5b93"/>
<circle cx="295.98" cy="128.97" r="0.70" fill="#1a5b93"/>
<circle cx="289.72" cy="112.28" r="0.70" fill="#1a5b93"/>
<circle cx="292.50" cy="126.66" r="0.70" fill="#1a5b93"/>
<circle cx="296.06" cy="121.75" r="0.70" fill="#1a5b93"/>
<circle cx="290.84" cy="129.63" r="0.70" fill="#1a5b93"/>
<circle cx="291.13" cy="126.61" r="0.70" fill="#1a5b93"/>
<circle cx="285.28" cy="130.10" r="0.70" fill="#1a5b93"/>
<circle cx="289.79" cy="129.53" r="0.70" fill="#1a5b93"/>
<circle cx="288.61" cy="123.30" r="0.70" fill="#1a5b93"/>
<circle cx="288.78" cy="128.43" r="0.70" fill="#1a5b93"/>
<circle cx="290.54" cy="126.94" r="0.70" fill="#1a5b93"/>
<circle cx="293.26" cy="126.06" r="0.70" fill="#1a5b93"/>
<circle cx="296.32" cy="115.04" r="0.70" fill="#1a5b93"/>
<circle cx="292.66" cy="128.80" r="0.70" fill="#1a5b93"/>
<circle cx="284.03" cy="118.36" r="0.70" fill="#1a5b93"/>
<circle cx="293.35" cy="124.79" r="0.70" fill="#1a5b93"/>
<circle cx="287.44" cy="128.44" r="0.70" fill="#1a5b93"/>
<circle cx="291.97" cy="125.38" r="0.70" fill="#1a5b93"/>
<circle cx="290.67" cy="124.05" r="0.70" fill="#1a5b93"/>
<circle cx="292.92" cy="129.18" r="0.70" fill="#1a5b93"/>
<circle cx="285.91" cy="107.72" r="0.70" fill="#1a5b93"/>
<circle cx="295.18" cy="119.22" r="0.70" fill="#1a5b93"/>
<circle cx="283.00" cy="130.08" r="0.70" fill="#1a5b93"/>
<circle cx="286.22" cy="127.14" r="0.70" fill="#1a5b93"/>
<circle cx="291.11" cy="129.73" r="0.70" fill="#1a5b93"/>
<circle cx="289.98" cy="129.91" r="0.70" fill="#1a5b93"/>
<circle cx="283.65" cy="124.41" r="0.70" fill="#1a5b93"/>
<circle cx="290.10" cy="123.96" r="0.70" fill="#1a5b93"/>
<circle cx="287.64" cy="126.35" r="0.70" fill="#1a5b93"/>
<circle cx="285.38" cy="128.00" r="0.70" fill="#1a5b93"/>
<circle cx="292.80" cy="119.75" r="0.70" fill="#1a5b93"/>
<circle cx="283.48" cy="129.73" r="0.70" fill="#1a5b93"/>
<circle cx="293.70" cy="124.89" r="0.70" fill="#1a5b93"/>
<circle cx="293.14" cy="129.02" r="0.70" fill="#1a5b93"/>
<circle cx="288.35" cy="128.50" r="0.70" fill="#1a5b93"/>
<circle cx="293.71" cy="127.81" r="0.70" fill="#1a5b93"/>
<circle cx="291.54" cy="102.69" r="0.70" fill="#1a5b93"/>
<circle cx="286.97" cy="125.57" r="0.70" fill="#1a5b93"/>
<circle cx="292.82" cy="115.60" r="0.70" fill="#1a5b93"/>
<circle cx="288.39" cy="127.45" r="0.70" fill="#1a5b93"/>
<circle cx="283.80" cy="119.29" r="0.70" fill="#1a5b93"/>
<circle cx="283.54" cy="129.94" r="0.70" fill="#1a5b93"/>
<circle cx="290.29" cy="126.14" r="0.70" fill="#1a5b93"/>
<circle cx="291.98" cy="128.26" r="0.70" fill="#1a5b93"/>
<circle cx="293.23" cy="129.95" r="0.70" fill="#1a5b93"/>
<circle cx="285.41" cy="124.21" r="0.70" fill="#1a5b93"/>
<circle cx="283.59" cy="128.48" r="0.70" fill="#1a5b93"/>
<circle cx="292.53" cy="123.41" r="0.70" fill="#1a5b93"/>
<circle cx="286.38" cy="129.49" r="0.70" fill="#1a5b93"/>
<circle cx="287.42" cy="122.41" r="0.70" fill="#1a5b93"/>
<circle cx="287.54" cy="129.63" r="0.70" fill="#1a5b93"/>
<circle cx="292.31" cy="125.38" r="0.70" fill="#1a5b93"/>
<circle cx="295.22" cy="115.53" r="0.70" fill="#1a5b93"/>
<circle cx="295.15" cy="127.34" r="0.70" fill="#1a5b93"/>
<circle cx="293.61" cy="128.34" r="0.70" fill="#1a5b93"/>
<circle cx="286.86" cy="127.32" r="0.70" fill="#1a5b93"/>
<circle cx="295.44" cy="118.61" r="0.70" fill="#1a5b93"/>
<circle cx="285.90" cy="127.79" r="0.70" fill="#1a5b93"/>
<circle cx="287.53" cy="127.60" r="0.70" fill="#1a5b93"/>
<circle cx="287.95" cy="127.32" r="0.70" fill="#1a5b93"/>
<circle cx="285.16" cy="125.71" r="0.70" fill="#1a5b93"/>
<circle cx="293.53" cy="125.98" r="0.70" fill="#1a5b93"/>
<circle cx="294.08" cy="125.81" r="0.70" fill="#1a5b93"/>
<circle cx="284.90" cy="122.44" r="0.70" fill="#1a5b93"/>
<circle cx="294.69" cy="128.61" r="0.70" fill="#1a5b93"/>
<circle cx="282.76" cy="126.70" r="0.70" fill="#1a5b93"/>
<circle cx="290.01" cy="124.97" r="0.70" fill="#1a5b93"/>
<circle cx="295.88" cy="124.99" r="0.70" fill="#1a5b93"/>
<circle cx="293.63" cy="130.03" r="0.70" fill="#1a5b93"/>
<circle cx="290.05" cy="120.36" r="0.70" fill="#1a5b93"/>
<circle cx="283.62" cy="129.95" r="0.70" fill="#1a5b93"/>
<circle cx="292.70" cy="116.95" r="0.70" fill="#1a5b93"/>
<circle cx="283.63" cy="125.07" r="0.70" fill="#1a5b93"/>
<circle cx="284.45" cy="122.88" r="0.70" fill="#1a5b93"/>
<circle cx="291.47" cy="128.67" r="0.70" fill="#1a5b93"/>
<circle cx="285.51" cy="122.09" r="0.70" fill="#1a5b93"/>
<circle cx="289.70" cy="120.92" r="0.70" fill="#1a5b93"/>
<circle cx="287.93" cy="127.81" r="0.70" fill="#1a5b93"/>
<circle cx="295.91" cy="124.67" r="0.70" fill="#1a5b93"/>
<circle cx="289.31" cy="125.31" r="0.70" fill="#1a5b93"/>
<circle cx="292.47" cy="123.11" r="0.70" fill="#1a5b93"/>
<circle cx="295.17" cy="127.60" r="0.70" fill="#1a5b93"/>
<circle cx="293.93" cy="124.26" r="0.70" fill="#1a5b93"/>
<circle cx="294.31" cy="121.39" r="0.70" fill="#1a5b93"/>
<circle cx="294.04" cy="118.20" r="0.70" fill="#1a5b93"/>
<circle cx="295.76" cy="125.12" r="0.70" fill="#1a5b93"/>
<circle cx="289.73" cy="122.30" r="0.70" fill="#1a5b93"/>
<circle cx="293.60" cy="127.30" r="0.70" fill="#1a5b93"/>
<circle cx="288.29" cy="129.39" r="0.70" fill="#1a5b93"/>
<circle cx="292.75" cy="102.88" r="0.70" fill="#1a5b93"/>
<circle cx="287.67" cy="129.26" r="0.70" fill="#1a5b93"/>
<circle cx="285.29" cy="127.26" r="0.70" fill="#1a5b93"/>
<circle cx="286.51" cy="109.56" r="0.70" fill="#1a5b93"/>
<circle cx="283.27" cy="128.47" r="0.70" fill="#1a5b93"/>
<circle cx="284.05" cy="124.77" r="0.70" fill="#1a5b93"/>
<circle cx="293.24" cy="129.26" r="0.70" fill="#1a5b93"/>
<circle cx="283.32" cy="127.19" r="0.70" fill="#1a5b93"/>
<circle cx="290.57" cy="115.15" r="0.70" fill="#1a5b93"/>
<circle cx="282.96" cy="129.81" r="0.70" fill="#1a5b93"/>
<circle cx="285.01" cy="129.02" r="0.70" fill="#1a5b93"/>
<circle cx="285.72" cy="123.10" r="0.70" fill="#1a5b93"/>
<circle cx="290.72" cy="128.80" r="0.70" fill="#1a5b93"/>
<circle cx="285.02" cy="128.55" r="0.70" fill="#1a5b93"/>
<circle cx="284.85" cy="122.49" r="0.70" fill="#1a5b93"/>
<circle cx="286.78" cy="125.61" r="0.70" fill="#1a5b93"/>
<circle cx="293.81" cy="126.73" r="0.70" fill="#1a5b93"/>
<circle cx="286.07" cy="117.60" r="0.70" fill="#1a5b93"/>
<circle cx="295.16" cy="128.18" r="0.70" fill="#1a5b93"/>
<circle cx="290.06" cy="110.05" r="0.70" fill="#1a5b93"/>
<circle cx="289.16" cy="128.76" r="0.70" fill="#1a5b93"/>
<circle cx="283.14" cy="115.11" r="0.70" fill="#1a5b93"/>
<circle cx="293.59" cy="127.65" r="0.70" fill="#1a5b93"/>
<circle cx="289.78" cy="125.66" r="0.70" fill="#1a5b93"/>
<circle cx="286.27" cy="103.12" r="0.70" fill="#1a5b93"/>
<circle cx="291.59" cy="128.74" r="0.70" fill="#1a5b93"/>
<circle cx="282.60" cy="127.16" r="0.70" fill="#1a5b93"/>
<circle cx="287.61" cy="120.50" r="0.70" fill="#1a5b93"/>
<circle cx="292.36" cy="124.86" r="0.70" fill="#1a5b93"/>
<circle cx="284.64" cy="129.46" r="0.70" fill="#1a5b93"/>
<circle cx="286.92" cy="128.58" r="0.70" fill="#1a5b93"/>
<circle cx="294.53" cy="126.45" r="0.70" fill="#1a5b93"/>
<circle cx="291.30" cy="99.69" r="0.70" fill="#1a5b93"/>
<circle cx="286.15" cy="125.90" r="0.70" fill="#1a5b93"/>
<circle cx="284.54" cy="122.29" r="0.70" fill="#1a5b93"/>
<circle cx="282.47" cy="121.72" r="0.70" fill="#1a5b93"/>
<circle cx="294.21" cy="120.87" r="0.70" fill="#1a5b93"/>
<circle cx="283.60" cy="128.73" r="0.70" fill="#1a5b93"/>
<circle cx="292.41" cy="129.79" r="0.70" fill="#1a5b93"/>
<circle cx="289.12" cy="126.25" r="0.70" fill="#1a5b93"/>
<circle cx="295.73" cy="125.83" r="0.70" fill="#1a5b93"/>
<circle cx="294.37" cy="128.42" r="0.70" fill="#1a5b93"/>
<circle cx="293.42" cy="127.32" r="0.70" fill="#1a5b93"/>
<circle cx="295.19" cy="129.89" r="0.70" fill="#1a5b93"/>
<circle cx="293.94" cy="129.09" r="0.70" fill="#1a5b93"/>
<circle cx="290.00" cy="125.56" r="0.70" fill="#1a5b93"/>
<circle cx="284.64" cy="120.53" r="0.70" fill="#1a5b93"/>
<circle cx="286.78" cy="128.16" r="0.70" fill="#1a5b93"/>
<circle cx="283.51" cy="128.48" r="0.70" fill="#1a5b93"/>
<circle cx="288.94" cy="122.22" r="0.70" fill="#1a5b93"/>
<circle cx="287.45" cy="123.23" r="0.70" fill="#1a5b93"/>
<circle cx="283.92" cy="127.71" r="0.70" fill="#1a5b93"/>
<circle cx="288.87" cy="108.26" r="0.70" fill="#1a5b93"/>
<circle cx="293.98" cy="124.49" r="0.70" fill="#1a5b93"/>
<circle cx="282.62" cy="128.00" r="0.70" fill="#1a5b93"/>
<circle cx="292.32" cy="128.79" r="0.70" fill="#1a5b93"/>
<circle cx="290.29" cy="126.47" r="0.70" fill="#1a5b93"/>
<circle cx="282.60" cy="106.23" r="0.70" fill="#1a5b93"/>
<circle cx="293.56" cy="129.09" r="0.70" fill="#1a5b93"/>
<circle cx="291.01" cy="128.26" r="0.70" fill="#1a5b93"/>
<circle cx="287.68" cy="125.57" r="0.70" fill="#1a5b93"/>
<circle cx="286.59" cy="127.94" r="0.70" fill="#1a5b93"/>
<circle cx="287.90" cy="123.50" r="0.70" fill="#1a5b93"/>
<circle cx="286.01" cy="129.10" r="0.70" fill="#1a5b93"/>
<circle cx="292.62" cy="128.05" r="0.70" fill="#1a5b93"/>
<circle cx="295.59" cy="126.09" r="0.70" fill="#1a5b93"/>
<circle cx="292.51" cy="128.02" r="0.70" fill="#1a5b93"/>
<circle cx="293.94" cy="129.86" r="0.70" fill="#1a5b93"/>
<circle cx="284.41" cy="129.86" r="0.70" fill="#1a5b93"/>
<circle cx="291.87" cy="122.94" r="0.70" fill="#1a5b93"/>
<circle cx="284.95" cy="127.52" r="0.70" fill="#1a5b93"/>
<circle cx="294.08" cy="125.41" r="0.70" fill="#1a5b93"/>
<circle cx="283.70" cy="129.03" r="0.70" fill="#1a5b93"/>
<circle cx="284.63" cy="129.67" r="0.70" fill="#1a5b93"/>
<circle cx="288.11" cy="129.92" r="0.70" fill="#1a5b93"/>
<circle cx="295.25" cy="127.46" r="0.70" fill="#1a5b93"/>
<circle cx="289.56" cy="123.54" r="0.70" fill="#1a5b93"/>
<circle cx="293.11" cy="120.47" r="0.70" fill="#1a5b93"/>
<circle cx="287.81" cy="127.88" r="0.70" fill="#1a5b93"/>
<circle cx="288.18" cy="130.30" r="0.70" fill="#1a5b93"/>
<circle cx="288.02" cy="122.81" r="0.70" fill="#1a5b93"/>
<circle cx="296.10" cy="122.47" r="0.70" fill="#1a5b93"/>
<circle cx="291.63" cy="124.67" r="0.70" fill="#1a5b93"/>
<circle cx="282.71" cy="128.35" r="0.70" fill="#1a5b93"/>
<circle cx="287.21" cy="123.96" r="0.70" fill="#1a5b93"/>
<circle cx="283.93" cy="127.85" r="0.70" fill="#1a5b93"/>
<circle cx="289.53" cy="120.16" r="0.70" fill="#1a5b93"/>
<circle cx="293.92" cy="125.12" r="0.70" fill="#1a5b93"/>
<circle cx="284.65" cy="122.35" r="0.70" fill="#1a5b93"/>
<circle cx="295.00" cy="126.16" r="0.70" fill="#1a5b93"/>
<circle cx="287.35" cy="126.13" r="0.70" fill="#1a5b93"/>
<circle cx="284.42" cy="123.55" r="0.70" fill="#1a5b93"/>
<circle cx="296.17" cy="126.72" r="0.70" fill="#1a5b93"/>
<circle cx="292.39" cy="119.69" r="0.70" fill="#1a5b93"/>
<circle cx="285.19" cy="114.01" r="0.70" fill="#1a5b93"/>
<circle cx="291.17" cy="129.03" r="0.70" fill="#1a5b93"/>
<circle cx="283.61" cy="128.91" r="0.70" fill="#1a5b93"/>
<circle cx="290.46" cy="122.78" r="0.70" fill="#1a5b93"/>
<circle cx="287.03" cy="114.32" r="0.70" fill="#1a5b93"/>
<circle cx="287.47" cy="126.56" r="0.70" fill="#1a5b93"/>
<circle cx="284.17" cy="110.70" r="0.70" fill="#1a5b93"/>
<circle cx="284.33" cy="117.60" r="0.70" fill="#1a5b93"/>
<circle cx="290.00" cy="125.07" r="0.70" fill="#1a5b93"/>
<circle cx="290.24" cy="128.43" r="0.70" fill="#1a5b93"/>
<circle cx="295.09" cy="104.69" r="0.70" fill="#1a5b93"/>
<circle cx="293.81" cy="125.24" r="0.70" fill="#1a5b93"/>
<circle cx="284.15" cy="120.96" r="0.70" fill="#1a5b93"/>
<circle cx="286.46" cy="116.88" r="0.70" fill="#1a5b93"/>
<circle cx="285.80" cy="125.46" r="0.70" fill="#1a5b93"/>
<circle cx="294.00" cy="129.26" r="0.70" fill="#1a5b93"/>
<circle cx="290.07" cy="129.89" r="0.70" fill="#1a5b93"/>
<circle cx="282.89" cy="129.38" r="0.70" fill="#1a5b93"/>
<circle cx="296.17" cy="116.18" r="0.70" fill="#1a5b93"/>
<circle cx="291.60" cy="128.15" r="0.70" fill="#1a5b93"/>
<circle cx="291.78" cy="122.27" r="0.70" fill="#1a5b93"/>
<circle cx="287.75" cy="124.80" r="0.70" fill="#1a5b93"/>
<circle cx="293.62" cy="130.31" r="0.70" fill="#1a5b93"/>
<circle cx="285.22" cy="126.82" r="0.70" fill="#1a5b93"/>
<circle cx="284.44" cy="127.72" r="0.70" fill="#1a5b93"/>
<circle cx="290.37" cy="129.18" r="0.70" fill="#1a5b93"/>
<circle cx="289.67" cy="128.39" r="0.70" fill="#1a5b93"/>
<circle cx="290.35" cy="127.81" r="0.70" fill="#1a5b93"/>
<circle cx="291.37" cy="130.16" r="0.70" fill="#1a5b93"/>
<circle cx="291.78" cy="129.45" r="0.70" fill="#1a5b93"/>
<circle cx="295.79" cy="125.67" r="0.70" fill="#1a5b93"/>
<circle cx="288.98" cy="126.94" r="0.70" fill="#1a5b93"/>
<circle cx="291.12" cy="123.12" r="0.70" fill="#1a5b93"/>
<circle cx="292.99" cy="122.32" r="0.70" fill="#1a5b93"/>
<circle cx="289.20" cy="96.16" r="0.70" fill="#1a5b93"/>
<circle cx="294.10" cy="119.69" r="0.70" fill="#1a5b93"/>
<circle cx="288.14" cy="126.80" r="0.70" fill="#1a5b93"/>
<circle cx="290.32" cy="115.30" r="0.70" fill="#1a5b93"/>
<circle cx="289.76" cy="125.53" r="0.70" fill="#1a5b93"/>
<circle cx="288.46" cy="115.37" r="0.70" fill="#1a5b93"/>
<circle cx="286.91" cy="130.06" r="0.70" fill="#1a5b93"/>
<circle cx="292.54" cy="116.80" r="0.70" fill="#1a5b93"/>
<circle cx="292.63" cy="125.05" r="0.70" fill="#1a5b93"/>
<circle cx="292.90" cy="128.28" r="0.70" fill="#1a5b93"/>
<circle cx="290.70" cy="129.94" r="0.70" fill="#1a5b93"/>
<circle cx="284.18" cy="127.19" r="0.70" fill="#1a5b93"/>
<circle cx="289.44" cy="127.06" r="0.70" fill="#1a5b93"/>
<circle cx="283.17" cy="124.23" r="0.70" fill="#1a5b93"/>
<circle cx="289.76" cy="128.61" r="0.70" fill="#1a5b93"/>
<circle cx="286.71" cy="127.38" r="0.70" fill="#1a5b93"/>
<circle cx="285.73" cy="129.99" r="0.70" fill="#1a5b93"/>
<circle cx="295.12" cy="112.37" r="0.70" fill="#1a5b93"/>
<circle cx="291.70" cy="118.13" r="0.70" fill="#1a5b93"/>
<circle cx="288.31" cy="119.98" r="0.70" fill="#1a5b93"/>
<circle cx="285.53" cy="122.52" r="0.70" fill="#1a5b93"/>
<circle cx="290.33" cy="115.42" r="0.70" fill="#1a5b93"/>
<circle cx="283.82" cy="122.00" r="0.70" fill="#1a5b93"/>
<circle cx="284.17" cy="126.22" r="0.70" fill="#1a5b93"/>
<circle cx="295.67" cy="130.40" r="0.70" fill="#1a5b93"/>
<circle cx="285.84" cy="128.33" r="0.70" fill="#1a5b93"/>
<circle cx="286.96" cy="130.01" r="0.70" fill="#1a5b93"/>
<circle cx="294.89" cy="121.33" r="0.70" fill="#1a5b93"/>
<circle cx="287.97" cy="127.63" r="0.70" fill="#1a5b93"/>
<circle cx="290.59" cy="130.10" r="0.70" fill="#1a5b93"/>
<circle cx="282.88" cy="118.66" r="0.70" fill="#1a5b93"/>
<circle cx="286.73" cy="126.25" r="0.70" fill="#1a5b93"/>
<circle cx="295.43" cy="110.58" r="0.70" fill="#1a5b93"/>
<circle cx="289.02" cy="128.89" r="0.70" fill="#1a5b93"/>
<circle cx="286.56" cy="115.12" r="0.70" fill="#1a5b93"/>
<circle cx="294.92" cy="129.23" r="0.70" fill="#1a5b93"/>
<circle cx="294.10" cy="127.97" r="0.70" fill="#1a5b93"/>
<circle cx="289.02" cy="129.17" r="0.70" fill="#1a5b93"/>
<circle cx="294.68" cy="101.37" r="0.70" fill="#1a5b93"/>
<circle cx="285.26" cy="124.72" r="0.70" fill="#1a5b93"/>
<circle cx="285.11" cy="118.43" r="0.70" fill="#1a5b93"/>
<circle cx="283.14" cy="129.82" r="0.70" fill="#1a5b93"/>
<circle cx="292.54" cy="128.18" r="0.70" fill="#1a5b93"/>
<circle cx="294.96" cy="119.51" r="0.70" fill="#1a5b93"/>
<circle cx="292.36" cy="129.54" r="0.70" fill="#1a5b93"/>
<circle cx="292.12" cy="113.75" r="0.70" fill="#1a5b93"/>
<circle cx="288.64" cy="129.87" r="0.70" fill="#1a5b93"/>
<circle cx="285.55" cy="128.29" r="0.70" fill="#1a5b93"/>
<circle cx="292.33" cy="129.10" r="0.70" fill="#1a5b93"/>
<circle cx="284.97" cy="128.89" r="0.70" fill="#1a5b93"/>
<circle cx="291.69" cy="120.87" r="0.70" fill="#1a5b93"/>
<circle cx="287.63" cy="123.66" r="0.70" fill="#1a5b93"/>
<circle cx="294.74" cy="125.59" r="0.70" fill="#1a5b93"/>
<circle cx="285.63" cy="128.34" r="0.70" fill="#1a5b93"/>
<circle cx="295.33" cy="124.61" r="0.70" fill="#1a5b93"/>
<circle cx="286.30" cy="124.36" r="0.70" fill="#1a5b93"/>
<circle cx="283.70" cy="108.75" r="0.70" fill="#1a5b93"/>
<circle cx="288.57" cy="125.57" r="0.70" fill="#1a5b93"/>
<circle cx="289.83" cy="130.10" r="0.70" fill="#1a5b93"/>
<circle cx="290.79" cy="128.29" r="0.70" fill="#1a5b93"/>
<circle cx="285.94" cy="120.92" r="0.70" fill="#1a5b93"/>
<circle cx="283.66" cy="128.62" r="0.70" fill="#1a5b93"/>
<circle cx="292.95" cy="128.76" r="0.70" fill="#1a5b93"/>
<circle cx="286.33" cy="125.70" r="0.70" fill="#1a5b93"/>
<circle cx="285.04" cy="117.62" r="0.70" fill="#1a5b93"/>
<circle cx="296.18" cy="130.23" r="0.70" fill="#1a5b93"/>
<circle cx="288.87" cy="121.38" r="0.70" fill="#1a5b93"/>
<circle cx="287.80" cy="113.84" r="0.70" fill="#1a5b93"/>
<circle cx="289.40" cy="129.09" r="0.70" fill="#1a5b93"/>
<circle cx="290.18" cy="123.73" r="0.70" fill="#1a5b93"/>
<circle cx="287.45" cy="123.77" r="0.70" fill="#1a5b93"/>
<circle cx="293.33" cy="126.24" r="0.70" fill="#1a5b93"/>
<circle cx="289.48" cy="118.07" r="0.70" fill="#1a5b93"/>
<circle cx="291.96" cy="125.96" r="0.70" fill="#1a5b93"/>
<circle cx="295.68" cy="129.41" r="0.70" fill="#1a5b93"/>
<circle cx="293.29" cy="129.37" r="0.70" fill="#1a5b93"/>
<circle cx="290.90" cy="128.72" r="0.70" fill="#1a5b93"/>
<circle cx="288.57" cy="120.86" r="0.70" fill="#1a5b93"/>
<circle cx="293.38" cy="121.46" r="0.70" fill="#1a5b93"/>
<circle cx="285.73" cy="126.52" r="0.70" fill="#1a5b93"/>
<circle cx="285.52" cy="125.42" r="0.70" fill="#1a5b93"/>
<circle cx="289.39" cy="130.16" r="0.70" fill="#1a5b93"/>
<circle cx="290.75" cy="122.48" r="0.70" fill="#1a5b93"/>
<circle cx="290.41" cy="117.22" r="0.70" fill="#1a5b93"/>
<circle cx="284.95" cy="129.48" r="0.70" fill="#1a5b93"/>
<circle cx="282.70" cy="126.91" r="0.70" fill="#1a5b93"/>
<circle cx="288.49" cy="126.66" r="0.70" fill="#1a5b93"/>
<circle cx="286.10" cy="121.00" r="0.70" fill="#1a5b93"/>
<circle cx="283.46" cy="117.89" r="0.70" fill="#1a5b93"/>
<circle cx="290.36" cy="125.38" r="0.70" fill="#1a5b93"/>
<circle cx="293.45" cy="128.85" r="0.70" fill="#1a5b93"/>
<circle cx="284.48" cy="128.35" r="0.70" fill="#1a5b93"/>
<circle cx="283.04" cy="128.45" r="0.70" fill="#1a5b93"/>
<circle cx="291.08" cy="125.75" r="0.70" fill="#1a5b93"/>
<circle cx="286.13" cy="125.18" r="0.70" fill="#1a5b93"/>
<circle cx="283.68" cy="121.27" r="0.70" fill="#1a5b93"/>
<circle cx="284.83" cy="128.76" r="0.70" fill="#1a5b93"/>
<circle cx="284.67" cy="123.90" r="0.70" fill="#1a5b93"/>
<circle cx="294.00" cy="121.80" r="0.70" fill="#1a5b93"/>
<circle cx="283.30" cy="127.64" r="0.70" fill="#1a5b93"/>
<circle cx="287.52" cy="128.89" r="0.70" fill="#1a5b93"/>
<circle cx="295.94" cy="130.18" r="0.70" fill="#1a5b93"/>
<circle cx="289.25" cy="120.96" r="0.70" fill="#1a5b93"/>
<circle cx="296.16" cy="129.61" r="0.70" fill="#1a5b93"/>
<circle cx="288.78" cy="121.55" r="0.70" fill="#1a5b93"/>
<circle cx="282.99" cy="128.98" r="0.70" fill="#1a5b93"/>
<circle cx="294.82" cy="129.58" r="0.70" fill="#1a5b93"/>
<circle cx="287.91" cy="128.18" r="0.70" fill="#1a5b93"/>
<circle cx="288.35" cy="129.89" r="0.70" fill="#1a5b93"/>
<circle cx="282.93" cy="101.98" r="0.70" fill="#1a5b93"/>
<circle cx="293.06" cy="122.74" r="0.70" fill="#1a5b93"/>
<circle cx="285.65" cy="128.72" r="0.70" fill="#1a5b93"/>
<circle cx="290.12" cy="128.61" r="0.70" fill="#1a5b93"/>
<circle cx="288.87" cy="112.89" r="0.70" fill="#1a5b93"/>
<circle cx="287.51" cy="127.86" r="0.70" fill="#1a5b93"/>
<circle cx="296.09" cy="125.59" r="0.70" fill="#1a5b93"/>
<circle cx="283.00" cy="127.74" r="0.70" fill="#1a5b93"/>
<circle cx="291.48" cy="130.03" r="0.70" fill="#1a5b93"/>
<circle cx="287.22" cy="123.14" r="0.70" fill="#1a5b93"/>
<circle cx="294.47" cy="125.52" r="0.70" fill="#1a5b93"/>
<circle cx="294.77" cy="127.05" r="0.70" fill="#1a5b93"/>
<circle cx="287.91" cy="118.77" r="0.70" fill="#1a5b93"/>
<circle cx="287.75" cy="120.91" r="0.70" fill="#1a5b93"/>
<circle cx="285.44" cy="127.96" r="0.70" fill="#1a5b93"/>
<circle cx="285.00" cy="125.92" r="0.70" fill="#1a5b93"/>
<circle cx="284.73" cy="129.14" r="0.70" fill="#1a5b93"/>
<circle cx="285.43" cy="126.80" r="0.70" fill="#1a5b93"/>
<circle cx="286.74" cy="126.84" r="0.70" fill="#1a5b93"/>
<circle cx="296.26" cy="124.66" r="0.70" fill="#1a5b93"/>
<circle cx="294.44" cy="129.15" r="0.70" fill="#1a5b93"/>
<circle cx="287.77" cy="129.93" r="0.70" fill="#1a5b93"/>
<circle cx="292.06" cy="127.69" r="0.70" fill="#1a5b93"/>
<circle cx="286.27" cy="130.29" r="0.70" fill="#1a5b93"/>
<circle cx="284.98" cy="128.69" r="0.70" fill="#1a5b93"/>
<circle cx="287.91" cy="114.26" r="0.70" fill="#1a5b93"/>
<circle cx="292.39" cy="128.54" r="0.70" fill="#1a5b93"/>
<circle cx="287.47" cy="129.37" r="0.70" fill="#1a5b93"/>
<circle cx="295.47" cy="128.07" r="0.70" fill="#1a5b93"/>
<circle cx="293.09" cy="122.98" r="0.70" fill="#1a5b93"/>
<circle cx="295.06" cy="130.29" r="0.70" fill="#1a5b93"/>
<circle cx="286.93" cy="127.46" r="0.70" fill="#1a5b93"/>
<circle cx="283.61" cy="119.07" r="0.70" fill="#1a5b93"/>
<circle cx="286.97" cy="121.47" r="0.70" fill="#1a5b93"/>
<circle cx="289.67" cy="130.03" r="0.70" fill="#1a5b93"/>
<circle cx="287.93" cy="128.69" r="0.70" fill="#1a5b93"/>
<circle cx="283.02" cy="129.56" r="0.70" fill="#1a5b93"/>
<circle cx="290.73" cy="130.20" r="0.70" fill="#1a5b93"/>
<circle cx="286.79" cy="127.08" r="0.70" fill="#1a5b93"/>
<circle cx="290.01" cy="129.45" r="0.70" fill="#1a5b93"/>
<circle cx="292.27" cy="128.60" r="0.70" fill="#1a5b93"/>
<circle cx="292.53" cy="123.92" r="0.70" fill="#1a5b93"/>
<circle cx="284.50" cy="129.14" r="0.70" fill="#1a5b93"/>
<circle cx="286.35" cy="123.01" r="0.70" fill="#1a5b93"/>
<circle cx="288.08" cy="127.31" r="0.70" fill="#1a5b93"/>
<circle cx="294.49" cy="129.00" r="0.70" fill="#1a5b93"/>
<circle cx="286.51" cy="127.88" r="0.70" fill="#1a5b93"/>
<circle cx="285.45" cy="130.16" r="0.70" fill="#1a5b93"/>
<circle cx="282.79" cy="125.31" r="0.70" fill="#1a5b93"/>
<circle cx="290.32" cy="119.79" r="0.70" fill="#1a5b93"/>
<circle cx="296.01" cy="128.59" r="0.70" fill="#1a5b93"/>
<circle cx="291.77" cy="115.12" r="0.70" fill="#1a5b93"/>
<circle cx="285.46" cy="123.72" r="0.70" fill="#1a5b93"/>
<circle cx="291.72" cy="111.50" r="0.70" fill="#1a5b93"/>
<circle cx="294.52" cy="128.94" r="0.70" fill="#1a5b93"/>
<circle cx="291.24" cy="129.82" r="0.70" fill="#1a5b93"/>
<circle cx="288.40" cy="127.22" r="0.70" fill="#1a5b93"/>
<circle cx="283.29" cy="127.87" r="0.70" fill="#1a5b93"/>
<circle cx="287.01" cy="126.22" r="0.70" fill="#1a5b93"/>
<circle cx="286.34" cy="129.38" r="0.70" fill="#1a5b93"/>
<circle cx="288.04" cy="126.33" r="0.70" fill="#1a5b93"/>
<circle cx="284.77" cy="124.31" r="0.70" fill="#1a5b93"/>
<circle cx="285.78" cy="129.83" r="0.70" fill="#1a5b93"/>
<circle cx="287.20" cy="127.04" r="0.70" fill="#1a5b93"/>
<circle cx="284.55" cy="125.58" r="0.70" fill="#1a5b93"/>
<circle cx="292.20" cy="125.58" r="0.70" fill="#1a5b93"/>
<circle cx="292.18" cy="130.26" r="0.70" fill="#1a5b93"/>
<circle cx="287.89" cy="127.56" r="0.70" fill="#1a5b93"/>
<circle cx="283.32" cy="127.69" r="0.70" fill="#1a5b93"/>
<circle cx="283.21" cy="126.84" r="0.70" fill="#1a5b93"/>
<circle cx="290.59" cy="126.38" r="0.70" fill="#1a5b93"/>
<circle cx="286.97" cy="128.63" r="0.70" fill="#1a5b93"/>
<circle cx="282.78" cy="128.22" r="0.70" fill="#1a5b93"/>
<circle cx="294.85" cy="125.92" r="0.70" fill="#1a5b93"/>
<circle cx="286.09" cy="123.93" r="0.70" fill="#1a5b93"/>
<circle cx="285.04" cy="126.84" r="0.70" fill="#1a5b93"/>
<circle cx="291.00" cy="111.06" r="0.70" fill="#1a5b93"/>
<circle cx="287.49" cy="125.09" r="0.70" fill="#1a5b93"/>
<circle cx="295.55" cy="122.70" r="0.70" fill="#1a5b93"/>
<circle cx="291.17" cy="124.37" r="0.70" fill="#1a5b93"/>
<circle cx="288.16" cy="127.00" r="0.70" fill="#1a5b93"/>
<circle cx="286.29" cy="119.94" r="0.70" fill="#1a5b93"/>
<circle cx="294.68" cy="127.80" r="0.70" fill="#1a5b93"/>
<circle cx="295.09" cy="130.19" r="0.70" fill="#1a5b93"/>
<circle cx="284.34" cy="126.53" r="0.70" fill="#1a5b93"/>
<circle cx="286.74" cy="127.71" r="0.70" fill="#1a5b93"/>
<circle cx="296.03" cy="129.57" r="0.70" fill="#1a5b93"/>
<circle cx="285.12" cy="128.94" r="0.70" fill="#1a5b93"/>
<circle cx="291.90" cy="128.78" r="0.70" fill="#1a5b93"/>
<circle cx="282.46" cy="126.45" r="0.70" fill="#1a5b93"/>
<circle cx="287.93" cy="128.68" r="0.70" fill="#1a5b93"/>
<circle cx="289.31" cy="123.47" r="0.70" fill="#1a5b93"/>
<circle cx="290.07" cy="124.07" r="0.70" fill="#1a5b93"/>
<circle cx="290.24" cy="118.97" r="0.70" fill="#1a5b93"/>
<circle cx="295.92" cy="128.32" r="0.70" fill="#1a5b93"/>
<circle cx="287.27" cy="117.07" r="0.70" fill="#1a5b93"/>
<circle cx="286.81" cy="122.81" r="0.70" fill="#1a5b93"/>
<circle cx="292.12" cy="123.44" r="0.70" fill="#1a5b93"/>
<circle cx="295.85" cy="121.45" r="0.70" fill="#1a5b93"/>
<circle cx="284.67" cy="125.02" r="0.70" fill="#1a5b93"/>
<circle cx="289.27" cy="124.93" r="0.70" fill="#1a5b93"/>
<circle cx="287.59" cy="128.31" r="0.70" fill="#1a5b93"/>
<circle cx="292.86" cy="125.95" r="0.70" fill="#1a5b93"/>
<circle cx="285.74" cy="128.74" r="0.70" fill="#1a5b93"/>
<circle cx="286.97" cy="129.21" r="0.70" fill="#1a5b93"/>
<circle cx="289.59" cy="129.51" r="0.70" fill="#1a5b93"/>
<circle cx="283.33" cy="130.03" r="0.70" fill="#1a5b93"/>
<circle cx="283.87" cy="123.86" r="0.70" fill="#1a5b93"/>
<circle cx="284.02" cy="127.16" r="0.70" fill="#1a5b93"/>
<circle cx="293.18" cy="126.63" r="0.70" fill="#1a5b93"/>
<circle cx="284.71" cy="119.24" r="0.70" fill="#1a5b93"/>
<circle cx="294.54" cy="130.10" r="0.70" fill="#1a5b93"/>
<circle cx="285.98" cy="126.27" r="0.70" fill="#1a5b93"/>
<circle cx="293.52" cy="127.57" r="0.70" fill="#1a5b93"/>
<circle cx="292.40" cy="128.68" r="0.70" fill="#1a5b93"/>
<circle cx="292.40" cy="128.05" r="0.70" fill="#1a5b93"/>
<circle cx="287.09" cy="121.72" r="0.70" fill="#1a5b93"/>
<circle cx="294.16" cy="120.65" r="0.70" fill="#1a5b93"/>
<circle cx="290.34" cy="126.90" r="0.70" fill="#1a5b93"/>
<circle cx="292.28" cy="124.58" r="0.70" fill="#1a5b93"/>
<circle cx="294.00" cy="121.40" r="0.70" fill="#1a5b93"/>
<circle cx="284.19" cy="127.83" r="0.70" fill="#1a5b93"/>
<circle cx="291.75" cy="128.80" r="0.70" fill="#1a5b93"/>
<circle cx="285.02" cy="130.32" r="0.70" fill="#1a5b93"/>
<circle cx="290.59" cy="112.44" r="0.70" fill="#1a5b93"/>
<circle cx="295.94" cy="129.66" r="0.70" fill="#1a5b93"/>
<circle cx="292.01" cy="127.13" r="0.70" fill="#1a5b93"/>
<circle cx="291.23" cy="127.27" r="0.70" fill="#1a5b93"/>
<circle cx="295.42" cy="106.89" r="0.70" fill="#1a5b93"/>
<circle cx="283.13" cy="123.92" r="0.70" fill="#1a5b93"/>
<circle cx="284.10" cy="130.17" r="0.70" fill="#1a5b93"/>
<circle cx="286.43" cy="122.59" r="0.70" fill="#1a5b93"/>
<circle cx="296.26" cy="129.75" r="0.70" fill="#1a5b93"/>
<circle cx="287.04" cy="130.24" r="0.70" fill="#1a5b93"/>
<circle cx="289.99" cy="126.12" r="0.70" fill="#1a5b93"/>
<circle cx="287.64" cy="128.10" r="0.70" fill="#1a5b93"/>
<circle cx="293.58" cy="120.06" r="0.70" fill="#1a5b93"/>
<circle cx="286.39" cy="127.45" r="0.70" fill="#1a5b93"/>
<circle cx="291.04" cy="121.34" r="0.70" fill="#1a5b93"/>
<circle cx="296.09" cy="127.89" r="0.70" fill="#1a5b93"/>
<circle cx="292.10" cy="125.66" r="0.70" fill="#1a5b93"/>
<circle cx="293.57" cy="129.50" r="0.70" fill="#1a5b93"/>
<circle cx="284.88" cy="129.77" r="0.70" fill="#1a5b93"/>
<circle cx="295.43" cy="128.88" r="0.70" fill="#1a5b93"/>
<circle cx="289.24" cy="129.56" r="0.70" fill="#1a5b93"/>
<circle cx="286.95" cy="130.28" r="0.70" fill="#1a5b93"/>
<circle cx="290.32" cy="129.41" r="0.70" fill="#1a5b93"/>
<circle cx="291.14" cy="128.41" r="0.70" fill="#1a5b93"/>
<circle cx="285.61" cy="126.61" r="0.70" fill="#1a5b93"/>
<circle cx="287.54" cy="128.54" r="0.70" fill="#1a5b93"/>
<circle cx="283.16" cy="130.05" r="0.70" fill="#1a5b93"/>
<circle cx="294.86" cy="128.41" r="0.70" fill="#1a5b93"/>
<circle cx="283.54" cy="129.34" r="0.70" fill="#1a5b93"/>
<circle cx="289.17" cy="92.11" r="0.70" fill="#1a5b93"/>
<circle cx="285.26" cy="118.94" r="0.70" fill="#1a5b93"/>
<circle cx="289.18" cy="126.88" r="0.70" fill="#1a5b93"/>
<circle cx="293.67" cy="127.55" r="0.70" fill="#1a5b93"/>
<circle cx="283.25" cy="126.23" r="0.70" fill="#1a5b93"/>
<circle cx="291.58" cy="124.43" r="0.70" fill="#1a5b93"/>
<circle cx="286.30" cy="113.88" r="0.70" fill="#1a5b93"/>
<circle cx="294.47" cy="102.27" r="0.70" fill="#1a5b93"/>
<circle cx="288.61" cy="118.85" r="0.70" fill="#1a5b93"/>
<circle cx="292.53" cy="129.26" r="0.70" fill="#1a5b93"/>
<circle cx="282.82" cy="129.45" r="0.70" fill="#1a5b93"/>
<circle cx="284.10" cy="129.98" r="0.70" fill="#1a5b93"/>
<circle cx="287.44" cy="121.75" r="0.70" fill="#1a5b93"/>
<circle cx="286.76" cy="126.06" r="0.70" fill="#1a5b93"/>
<circle cx="282.60" cy="129.21" r="0.70" fill="#1a5b93"/>
<circle cx="295.78" cy="130.34" r="0.70" fill="#1a5b93"/>
<circle cx="289.78" cy="119.55" r="0.70" fill="#1a5b93"/>
<circle cx="293.46" cy="122.83" r="0.70" fill="#1a5b93"/>
<circle cx="288.00" cy="120.16" r="0.70" fill="#1a5b93"/>
<circle cx="293.95" cy="122.26" r="0.70" fill="#1a5b93"/>
<circle cx="296.15" cy="129.86" r="0.70" fill="#1a5b93"/>
<circle cx="295.66" cy="127.73" r="0.70" fill="#1a5b93"/>
<circle cx="292.25" cy="128.68" r="0.70" fill="#1a5b93"/>
<circle cx="295.09" cy="130.27" r="0.70" fill="#1a5b93"/>
<circle cx="290.47" cy="128.76" r="0.70" fill="#1a5b93"/>
<circle cx="287.85" cy="127.51" r="0.70" fill="#1a5b93"/>
<circle cx="291.58" cy="120.21" r="0.70" fill="#1a5b93"/>
<circle cx="287.52" cy="124.11" r="0.70" fill="#1a5b93"/>
<circle cx="287.37" cy="128.38" r="0.70" fill="#1a5b93"/>
<circle cx="295.03" cy="128.33" r="0.70" fill="#1a5b93"/>
<circle cx="283.76" cy="128.23" r="0.70" fill="#1a5b93"/>
<circle cx="292.76" cy="129.01" r="0.70" fill="#1a5b93"/>
<circle cx="292.78" cy="125.78" r="0.70" fill="#1a5b93"/>
<circle cx="291.91" cy="129.22" r="0.70" fill="#1a5b93"/>
<circle cx="283.92" cy="129.57" r="0.70" fill="#1a5b93"/>
<circle cx="287.32" cy="126.94" r="0.70" fill="#1a5b93"/>
<circle cx="282.58" cy="126.87" r="0.70" fill="#1a5b93"/>
<circle cx="288.06" cy="127.95" r="0.70" fill="#1a5b93"/>
<circle cx="289.92" cy="110.62" r="0.70" fill="#1a5b93"/>
<circle cx="285.29" cy="118.33" r="0.70" fill="#1a5b93"/>
<circle cx="286.91" cy="121.91" r="0.70" fill="#1a5b93"/>
<circle cx="283.96" cy="106.88" r="0.70" fill="#1a5b93"/>
<circle cx="288.43" cy="109.37" r="0.70" fill="#1a5b93"/>
<circle cx="285.50" cy="127.39" r="0.70" fill="#1a5b93"/>
<circle cx="292.26" cy="129.23" r="0.70" fill="#1a5b93"/>
<circle cx="286.25" cy="123.73" r="0.70" fill="#1a5b93"/>
<circle cx="295.62" cy="128.38" r="0.70" fill="#1a5b93"/>
<circle cx="285.00" cy="127.92" r="0.70" fill="#1a5b93"/>
<circle cx="296.20" cy="129.59" r="0.70" fill="#1a5b93"/>
<circle cx="291.27" cy="127.46" r="0.70" fill="#1a5b93"/>
<circle cx="291.40" cy="128.93" r="0.70" fill="#1a5b93"/>
<circle cx="291.02" cy="116.74" r="0.70" fill="#1a5b93"/>
<circle cx="294.35" cy="124.96" r="0.70" fill="#1a5b93"/>
<circle cx="289.47" cy="124.86" r="0.70" fill="#1a5b93"/>
<circle cx="284.04" cy="120.60" r="0.70" fill="#1a5b93"/>
<circle cx="292.04" cy="126.77" r="0.70" fill="#1a5b93"/>
<circle cx="291.70" cy="127.09" r="0.70" fill="#1a5b93"/>
<circle cx="287.80" cy="128.77" r="0.70" fill="#1a5b93"/>
<circle cx="290.80" cy="125.04" r="0.70" fill="#1a5b93"/>
<circle cx="289.61" cy="130.18" r="0.70" fill="#1a5b93"/>
<circle cx="291.17" cy="126.72" r="0.70" fill="#1a5b93"/>
<circle cx="290.70" cy="124.69" r="0.70" fill="#1a5b93"/>
<circle cx="295.40" cy="129.53" r="0.70" fill="#1a5b93"/>
<circle cx="288.96" cy="98.25" r="0.70" fill="#1a5b93"/>
<circle cx="292.71" cy="128.20" r="0.70" fill="#1a5b93"/>
<circle cx="292.69" cy="103.76" r="0.70" fill="#1a5b93"/>
<circle cx="288.04" cy="117.65" r="0.70" fill="#1a5b93"/>
<circle cx="284.21" cy="105.38" r="0.70" fill="#1a5b93"/>
<circle cx="289.28" cy="128.64" r="0.70" fill="#1a5b93"/>
<circle cx="294.13" cy="124.60" r="0.70" fill="#1a5b93"/>
<circle cx="295.48" cy="121.16" r="0.70" fill="#1a5b93"/>
<circle cx="293.54" cy="126.33" r="0.70" fill="#1a5b93"/>
<circle cx="296.26" cy="130.06" r="0.70" fill="#1a5b93"/>
<circle cx="294.54" cy="123.63" r="0.70" fill="#1a5b93"/>
<circle cx="285.93" cy="120.81" r="0.70" fill="#1a5b93"/>
<circle cx="288.76" cy="125.42" r="0.70" fill="#1a5b93"/>
<circle cx="294.48" cy="129.21" r="0.70" fill="#1a5b93"/>
<circle cx="286.34" cy="124.29" r="0.70" fill="#1a5b93"/>
<circle cx="283.47" cy="126.14" r="0.70" fill="#1a5b93"/>
<circle cx="293.39" cy="126.55" r="0.70" fill="#1a5b93"/>
<circle cx="285.81" cy="121.07" r="0.70" fill="#1a5b93"/>
<circle cx="294.34" cy="122.31" r="0.70" fill="#1a5b93"/>
<circle cx="290.09" cy="115.14" r="0.70" fill="#1a5b93"/>
<circle cx="293.53" cy="129.47" r="0.70" fill="#1a5b93"/>
<circle cx="287.54" cy="129.74" r="0.70" fill="#1a5b93"/>
<circle cx="282.96" cy="128.22" r="0.70" fill="#1a5b93"/>
<circle cx="294.47" cy="120.60" r="0.70" fill="#1a5b93"/>
<circle cx="284.08" cy="129.32" r="0.70" fill="#1a5b93"/>
<circle cx="287.85" cy="118.55" r="0.70" fill="#1a5b93"/>
<circle cx="291.03" cy="115.90" r="0.70" fill="#1a5b93"/>
<circle cx="283.45" cy="107.23" r="0.70" fill="#1a5b93"/>
<circle cx="285.32" cy="124.76" r="0.70" fill="#1a5b93"/>
<circle cx="294.63" cy="123.35" r="0.70" fill="#1a5b93"/>
<circle cx="285.19" cy="124.15" r="0.70" fill="#1a5b93"/>
<circle cx="288.44" cy="130.30" r="0.70" fill="#1a5b93"/>
<circle cx="287.17" cy="128.08" r="0.70" fill="#1a5b93"/>
<circle cx="291.20" cy="128.37" r="0.70" fill="#1a5b93"/>
<circle cx="290.83" cy="122.93" r="0.70" fill="#1a5b93"/>
<circle cx="284.96" cy="129.63" r="0.70" fill="#1a5b93"/>
<circle cx="292.09" cy="126.63" r="0.70" fill="#1a5b93"/>
<circle cx="284.24" cy="129.73" r="0.70" fill="#1a5b93"/>
<circle cx="295.53" cy="125.49" r="0.70" fill="#1a5b93"/>
<circle cx="287.42" cy="129.05" r="0.70" fill="#1a5b93"/>
<circle cx="296.28" cy="124.46" r="0.70" fill="#1a5b93"/>
<circle cx="292.68" cy="127.78" r="0.70" fill="#1a5b93"/>
<circle cx="286.76" cy="127.24" r="0.70" fill="#1a5b93"/>
<circle cx="284.48" cy="124.92" r="0.70" fill="#1a5b93"/>
<circle cx="288.35" cy="119.45" r="0.70" fill="#1a5b93"/>
<circle cx="288.13" cy="126.54" r="0.70" fill="#1a5b93"/>
<circle cx="289.49" cy="111.65" r="0.70" fill="#1a5b93"/>
<circle cx="287.26" cy="122.94" r="0.70" fill="#1a5b93"/>
<circle cx="285.72" cy="125.40" r="0.70" fill="#1a5b93"/>
<circle cx="286.41" cy="118.17" r="0.70" fill="#1a5b93"/>
<circle cx="286.43" cy="118.95" r="0.70" fill="#1a5b93"/>
<circle cx="291.86" cy="126.72" r="0.70" fill="#1a5b93"/>
<circle cx="295.43" cy="127.83" r="0.70" fill="#1a5b93"/>
<circle cx="292.78" cy="125.02" r="0.70" fill="#1a5b93"/>
<circle cx="288.68" cy="129.97" r="0.70" fill="#1a5b93"/>
<circle cx="288.28" cy="128.30" r="0.70" fill="#1a5b93"/>
<circle cx="288.58" cy="110.53" r="0.70" fill="#1a5b93"/>
<circle cx="286.52" cy="123.32" r="0.70" fill="#1a5b93"/>
<circle cx="291.79" cy="128.70" r="0.70" fill="#1a5b93"/>
<circle cx="288.17" cy="129.50" r="0.70" fill="#1a5b93"/>
<circle cx="294.90" cy="128.84" r="0.70" fill="#1a5b93"/>
<circle cx="288.30" cy="127.74" r="0.70" fill="#1a5b93"/>
<circle cx="293.86" cy="119.76" r="0.70" fill="#1a5b93"/>
<circle cx="290.66" cy="125.40" r="0.70" fill="#1a5b93"/>
<circle cx="283.83" cy="118.27" r="0.70" fill="#1a5b93"/>
<circle cx="283.68" cy="128.00" r="0.70" fill="#1a5b93"/>
<circle cx="287.66" cy="122.41" r="0.70" fill="#1a5b93"/>
<circle cx="291.75" cy="127.84" r="0.70" fill="#1a5b93"/>
<circle cx="294.93" cy="114.40" r="0.70" fill="#1a5b93"/>
<circle cx="282.77" cy="125.28" r="0.70" fill="#1a5b93"/>
<circle cx="288.97" cy="127.47" r="0.70" fill="#1a5b93"/>
<circle cx="288.91" cy="127.93" r="0.70" fill="#1a5b93"/>
<circle cx="291.78" cy="124.75" r="0.70" fill="#1a5b93"/>
<circle cx="295.94" cy="111.20" r="0.70" fill="#1a5b93"/>
<circle cx="296.25" cy="127.86" r="0.70" fill="#1a5b93"/>
<circle cx="293.97" cy="124.55" r="0.70" fill="#1a5b93"/>
<circle cx="292.19" cy="94.48" r="0.70" fill="#1a5b93"/>
<circle cx="283.37" cy="127.15" r="0.70" fill="#1a5b93"/>
<circle cx="288.03" cy="123.67" r="0.70" fill="#1a5b93"/>
<circle cx="285.48" cy="104.22" r="0.70" fill="#1a5b93"/>
<circle cx="285.36" cy="127.77" r="0.70" fill="#1a5b93"/>
<circle cx="284.44" cy="127.65" r="0.70" fill="#1a5b93"/>
<circle cx="292.76" cy="129.89" r="0.70" fill="#1a5b93"/>
<circle cx="284.77" cy="124.58" r="0.70" fill="#1a5b93"/>
<circle cx="291.11" cy="121.96" r="0.70" fill="#1a5b93"/>
<circle cx="285.97" cy="120.67" r="0.70" fill="#1a5b93"/>
<circle cx="292.61" cy="121.59" r="0.70" fill="#1a5b93"/>
<circle cx="284.11" cy="126.98" r="0.70" fill="#1a5b93"/>
<circle cx="282.67" cy="120.42" r="0.70" fill="#1a5b93"/>
<circle cx="295.58" cy="118.62" r="0.70" fill="#1a5b93"/>
<circle cx="282.79" cy="128.19" r="0.70" fill="#1a5b93"/>
<circle cx="289.90" cy="125.44" r="0.70" fill="#1a5b93"/>
<circle cx="284.00" cy="122.02" r="0.70" fill="#1a5b93"/>
<circle cx="286.64" cy="126.16" r="0.70" fill="#1a5b93"/>
<circle cx="284.18" cy="125.85" r="0.70" fill="#1a5b93"/>
<circle cx="284.25" cy="129.90" r="0.70" fill="#1a5b93"/>
<circle cx="289.57" cy="128.11" r="0.70" fill="#1a5b93"/>
<circle cx="293.26" cy="128.77" r="0.70" fill="#1a5b93"/>
<circle cx="288.20" cy="130.05" r="0.70" fill="#1a5b93"/>
<circle cx="285.47" cy="126.96" r="0.70" fill="#1a5b93"/>
<circle cx="290.21" cy="126.44" r="0.70" fill="#1a5b93"/>
<circle cx="294.28" cy="129.79" r="0.70" fill="#1a5b93"/>
<circle cx="294.27" cy="129.47" r="0.70" fill="#1a5b93"/>
<circle cx="295.94" cy="126.58" r="0.70" fill="#1a5b93"/>
<circle cx="288.10" cy="124.41" r="0.70" fill="#1a5b93"/>
<circle cx="294.46" cy="112.28" r="0.70" fill="#1a5b93"/>
<circle cx="288.20" cy="130.33" r="0.70" fill="#1a5b93"/>
<circle cx="284.59" cy="120.98" r="0.70" fill="#1a5b93"/>
<circle cx="292.66" cy="123.07" r="0.70" fill="#1a5b93"/>
<circle cx="284.63" cy="126.21" r="0.70" fill="#1a5b93"/>
<circle cx="282.85" cy="129.80" r="0.70" fill="#1a5b93"/>
<circle cx="286.63" cy="110.13" r="0.70" fill="#1a5b93"/>
<circle cx="291.39" cy="118.80" r="0.70" fill="#1a5b93"/>
<circle cx="283.09" cy="127.61" r="0.70" fill="#1a5b93"/>
<circle cx="283.54" cy="128.80" r="0.70" fill="#1a5b93"/>
<circle cx="284.00" cy="116.88" r="0.70" fill="#1a5b93"/>
<circle cx="287.02" cy="126.32" r="0.70" fill="#1a5b93"/>
<circle cx="291.54" cy="117.05" r="0.70" fill="#1a5b93"/>
<circle cx="295.61" cy="126.03" r="0.70" fill="#1a5b93"/>
<circle cx="289.41" cy="114.90" r="0.70" fill="#1a5b93"/>
<circle cx="287.93" cy="128.16" r="0.70" fill="#1a5b93"/>
<circle cx="292.73" cy="128.65" r="0.70" fill="#1a5b93"/>
<circle cx="287.56" cy="126.92" r="0.70" fill="#1a5b93"/>
<circle cx="289.08" cy="127.49" r="0.70" fill="#1a5b93"/>
<circle cx="288.43" cy="126.56" r="0.70" fill="#1a5b93"/>
<circle cx="283.14" cy="121.03" r="0.70" fill="#1a5b93"/>
<circle cx="283.31" cy="126.48" r="0.70" fill="#1a5b93"/>
<circle cx="290.06" cy="127.10" r="0.70" fill="#1a5b93"/>
<circle cx="285.54" cy="129.80" r="0.70" fill="#1a5b93"/>
<circle cx="287.62" cy="128.05" r="0.70" fill="#1a5b93"/>
<circle cx="289.18" cy="128.68" r="0.70" fill="#1a5b93"/>
<circle cx="292.87" cy="126.51" r="0.70" fill="#1a5b93"/>
<circle cx="282.57" cy="127.76" r="0.70" fill="#1a5b93"/>
<circle cx="295.88" cy="130.36" r="0.70" fill="#1a5b93"/>
<circle cx="290.70" cy="109.93" r="0.70" fill="#1a5b93"/>
<circle cx="287.53" cy="124.75" r="0.70" fill="#1a5b93"/>
<circle cx="287.58" cy="128.18" r="0.70" fill="#1a5b93"/>
<circle cx="290.92" cy="124.81" r="0.70" fill="#1a5b93"/>
<circle cx="286.83" cy="126.25" r="0.70" fill="#1a5b93"/>
<circle cx="289.63" cy="121.19" r="0.70" fill="#1a5b93"/>
<circle cx="283.19" cy="129.89" r="0.70" fill="#1a5b93"/>
<circle cx="285.95" cy="128.56" r="0.70" fill="#1a5b93"/>
<circle cx="293.51" cy="127.25" r="0.70" fill="#1a5b93"/>
<circle cx="294.41" cy="127.58" r="0.70" fill="#1a5b93"/>
<circle cx="286.42" cy="123.63" r="0.70" fill="#1a5b93"/>
<circle cx="283.64" cy="108.47" r="0.70" fill="#1a5b93"/>
<circle cx="294.01" cy="128.19" r="0.70" fill="#1a5b93"/>
<circle cx="286.86" cy="120.06" r="0.70" fill="#1a5b93"/>
<circle cx="293.41" cy="124.54" r="0.70" fill="#1a5b93"/>
<circle cx="283.24" cy="122.88" r="0.70" fill="#1a5b93"/>
<circle cx="283.12" cy="125.32" r="0.70" fill="#1a5b93"/>
<circle cx="290.12" cy="113.48" r="0.70" fill="#1a5b93"/>
<circle cx="291.33" cy="130.26" r="0.70" fill="#1a5b93"/>
<circle cx="295.44" cy="123.08" r="0.70" fill="#1a5b93"/>
<circle cx="290.51" cy="130.36" r="0.70" fill="#1a5b93"/>
<circle cx="292.69" cy="127.22" r="0.70" fill="#1a5b93"/>
<circle cx="291.90" cy="105.53" r="0.70" fill="#1a5b93"/>
<circle cx="295.19" cy="129.99" r="0.70" fill="#1a5b93"/>
<circle cx="293.31" cy="127.07" r="0.70" fill="#1a5b93"/>
<circle cx="292.90" cy="127.64" r="0.70" fill="#1a5b93"/>
<circle cx="288.67" cy="126.69" r="0.70" fill="#1a5b93"/>
<circle cx="284.09" cy="128.32" r="0.70" fill="#1a5b93"/>
<circle cx="292.66" cy="129.96" r="0.70" fill="#1a5b93"/>
<circle cx="284.06" cy="120.70" r="0.70" fill="#1a5b93"/>
<circle cx="291.71" cy="125.56" r="0.70" fill="#1a5b93"/>
<circle cx="284.02" cy="129.72" r="0.70" fill="#1a5b93"/>
<circle cx="286.76" cy="111.90" r="0.70" fill="#1a5b93"/>
<circle cx="290.24" cy="113.98" r="0.70" fill="#1a5b93"/>
<circle cx="285.38" cy="127.34" r="0.70" fill="#1a5b93"/>
<circle cx="289.90" cy="118.51" r="0.70" fill="#1a5b93"/>
<circle cx="284.16" cy="119.18" r="0.70" fill="#1a5b93"/>
<circle cx="289.02" cy="130.19" r="0.70" fill="#1a5b93"/>
<circle cx="288.45" cy="127.36" r="0.70" fill="#1a5b93"/>
<circle cx="291.82" cy="114.43" r="0.70" fill="#1a5b93"/>
<circle cx="289.31" cy="122.68" r="0.70" fill="#1a5b93"/>
<circle cx="287.84" cy="120.95" r="0.70" fill="#1a5b93"/>
<circle cx="283.91" cy="123.12" r="0.70" fill="#1a5b93"/>
<circle cx="284.76" cy="125.50" r="0.70" fill="#1a5b93"/>
<circle cx="285.26" cy="127.99" r="0.70" fill="#1a5b93"/>
<circle cx="284.73" cy="128.01" r="0.70" fill="#1a5b93"/>
<circle cx="290.67" cy="125.75" r="0.70" fill="#1a5b93"/>
<circle cx="287.85" cy="125.05" r="0.70" fill="#1a5b93"/>
<circle cx="294.16" cy="127.95" r="0.70" fill="#1a5b93"/>
<circle cx="290.57" cy="126.24" r="0.70" fill="#1a5b93"/>
<circle cx="296.08" cy="128.38" r="0.70" fill="#1a5b93"/>
<circle cx="292.14" cy="128.81" r="0.70" fill="#1a5b93"/>
<circle cx="286.08" cy="122.72" r="0.70" fill="#1a5b93"/>
<circle cx="290.44" cy="128.50" r="0.70" fill="#1a5b93"/>
<circle cx="283.34" cy="121.28" r="0.70" fill="#1a5b93"/>
<circle cx="287.70" cy="122.55" r="0.70" fill="#1a5b93"/>
<circle cx="288.46" cy="124.24" r="0.70" fill="#1a5b93"/>
<circle cx="290.23" cy="106.50" r="0.70" fill="#1a5b93"/>
<circle cx="295.09" cy="127.16" r="0.70" fill="#1a5b93"/>
<circle cx="289.22" cy="128.67" r="0.70" fill="#1a5b93"/>
<circle cx="292.92" cy="129.77" r="0.70" fill="#1a5b93"/>
<circle cx="286.71" cy="119.11" r="0.70" fill="#1a5b93"/>
<circle cx="282.94" cy="124.23" r="0.70" fill="#1a5b93"/>
<circle cx="290.35" cy="125.26" r="0.70" fill="#1a5b93"/>
<circle cx="287.08" cy="129.40" r="0.70" fill="#1a5b93"/>
<circle cx="295.67" cy="122.89" r="0.70" fill="#1a5b93"/>
<circle cx="293.65" cy="129.82" r="0.70" fill="#1a5b93"/>
<circle cx="293.35" cy="128.99" r="0.70" fill="#1a5b93"/>
<circle cx="285.22" cy="126.06" r="0.70" fill="#1a5b93"/>
<circle cx="290.93" cy="129.59" r="0.70" fill="#1a5b93"/>
<circle cx="293.08" cy="125.35" r="0.70" fill="#1a5b93"/>
<circle cx="294.95" cy="116.62" r="0.70" fill="#1a5b93"/>
<circle cx="292.03" cy="127.68" r="0.70" fill="#1a5b93"/>
<circle cx="295.67" cy="123.82" r="0.70" fill="#1a5b93"/>
<circle cx="286.49" cy="118.79" r="0.70" fill="#1a5b93"/>
<circle cx="292.55" cy="128.59" r="0.70" fill="#1a5b93"/>
<circle cx="285.91" cy="130.28" r="0.70" fill="#1a5b93"/>
<circle cx="289.92" cy="128.50" r="0.70" fill="#1a5b93"/>
<circle cx="286.52" cy="128.66" r="0.70" fill="#1a5b93"/>
<circle cx="284.28" cy="126.78" r="0.70" fill="#1a5b93"/>
<circle cx="286.24" cy="128.42" r="0.70" fill="#1a5b93"/>
<circle cx="286.31" cy="126.19" r="0.70" fill="#1a5b93"/>
<circle cx="294.60" cy="129.45" r="0.70" fill="#1a5b93"/>
<circle cx="294.40" cy="119.83" r="0.70" fill="#1a5b93"/>
<circle cx="290.92" cy="125.48" r="0.70" fill="#1a5b93"/>
<circle cx="292.65" cy="125.91" r="0.70" fill="#1a5b93"/>
<circle cx="291.62" cy="115.02" r="0.70" fill="#1a5b93"/>
<circle cx="293.23" cy="128.67" r="0.70" fill="#1a5b93"/>
<circle cx="283.20" cy="116.05" r="0.70" fill="#1a5b93"/>
<circle cx="287.49" cy="120.83" r="0.70" fill="#1a5b93"/>
<circle cx="285.69" cy="126.92" r="0.70" fill="#1a5b93"/>
<circle cx="287.60" cy="122.29" r="0.70" fill="#1a5b93"/>
<circle cx="295.57" cy="126.73" r="0.70" fill="#1a5b93"/>
<circle cx="290.32" cy="127.65" r="0.70" fill="#1a5b93"/>
<circle cx="285.68" cy="113.14" r="0.70" fill="#1a5b93"/>
<circle cx="283.98" cy="115.22" r="0.70" fill="#1a5b93"/>
<circle cx="291.58" cy="129.94" r="0.70" fill="#1a5b93"/>
<circle cx="294.98" cy="129.82" r="0.70" fill="#1a5b93"/>
<circle cx="290.31" cy="129.58" r="0.70" fill="#1a5b93"/>
<circle cx="296.20" cy="128.52" r="0.70" fill="#1a5b93"/>
<circle cx="294.57" cy="130.06" r="0.70" fill="#1a5b93"/>
<circle cx="291.71" cy="129.97" r="0.70" fill="#1a5b93"/>
<circle cx="282.86" cy="126.06" r="0.70" fill="#1a5b93"/>
<circle cx="296.11" cy="124.52" r="0.70" fill="#1a5b93"/>
<circle cx="294.34" cy="121.96" r="0.70" fill="#1a5b93"/>
<circle cx="289.69" cy="129.87" r="0.70" fill="#1a5b93"/>
<circle cx="289.78" cy="129.07" r="0.70" fill="#1a5b93"/>
<circle cx="289.77" cy="127.54" r="0.70" fill="#1a5b93"/>
<circle cx="289.39" cy="128.94" r="0.70" fill="#1a5b93"/>
<circle cx="292.25" cy="127.18" r="0.70" fill="#1a5b93"/>
<circle cx="289.20" cy="129.86" r="0.70" fill="#1a5b93"/>
<circle cx="289.22" cy="125.03" r="0.70" fill="#1a5b93"/>
<circle cx="295.97" cy="126.18" r="0.70" fill="#1a5b93"/>
<circle cx="284.32" cy="128.45" r="0.70" fill="#1a5b93"/>
<circle cx="287.12" cy="123.02" r="0.70" fill="#1a5b93"/>
<circle cx="295.50" cy="110.92" r="0.70" fill="#1a5b93"/>
<circle cx="295.65" cy="116.93" r="0.70" fill="#1a5b93"/>
<circle cx="294.39" cy="115.43" r="0.70" fill="#1a5b93"/>
<circle cx="282.73" cy="126.97" r="0.70" fill="#1a5b93"/>
<circle cx="290.66" cy="123.07" r="0.70" fill="#1a5b93"/>
<circle cx="290.97" cy="124.45" r="0.70" fill="#1a5b93"/>
<circle cx="295.42" cy="129.93" r="0.70" fill="#1a5b93"/>
<circle cx="289.67" cy="109.38" r="0.70" fill="#1a5b93"/>
<circle cx="282.89" cy="129.79" r="0.70" fill="#1a5b93"/>
<circle cx="294.53" cy="113.25" r="0.70" fill="#1a5b93"/>
<circle cx="282.78" cy="130.23" r="0.70" fill="#1a5b93"/>
<circle cx="293.98" cy="123.90" r="0.70" fill="#1a5b93"/>
<circle cx="289.67" cy="124.71" r="0.70" fill="#1a5b93"/>
<circle cx="292.98" cy="120.83" r="0.70" fill="#1a5b93"/>
<circle cx="282.46" cy="130.05" r="0.70" fill="#1a5b93"/>
<circle cx="293.49" cy="109.35" r="0.70" fill="#1a5b93"/>
<circle cx="294.03" cy="127.49" r="0.70" fill="#1a5b93"/>
<circle cx="287.11" cy="127.80" r="0.70" fill="#1a5b93"/>
<circle cx="282.66" cy="122.93" r="0.70" fill="#1a5b93"/>
<circle cx="286.10" cy="125.23" r="0.70" fill="#1a5b93"/>
<circle cx="289.76" cy="127.73" r="0.70" fill="#1a5b93"/>
<circle cx="291.83" cy="126.72" r="0.70" fill="#1a5b93"/>
<circle cx="285.71" cy="118.06" r="0.70" fill="#1a5b93"/>
<circle cx="284.89" cy="129.49" r="0.70" fill="#1a5b93"/>
<circle cx="285.97" cy="126.59" r="0.70" fill="#1a5b93"/>
<circle cx="293.30" cy="86.28" r="0.65" fill="#1a5b93"/>
<circle cx="285.80" cy="64.03" r="0.65" fill="#1a5b93"/>
<circle cx="286.10" cy="73.14" r="0.65" fill="#1a5b93"/>
<circle cx="286.03" cy="48.61" r="0.65" fill="#1a5b93"/>
<circle cx="285.06" cy="93.25" r="0.65" fill="#1a5b93"/>
<circle cx="286.67" cy="86.51" r="0.65" fill="#1a5b93"/>
<circle cx="292.51" cy="62.66" r="0.65" fill="#1a5b93"/>
<circle cx="293.39" cy="71.94" r="0.65" fill="#1a5b93"/>
<circle cx="283.60" cy="56.47" r="0.65" fill="#1a5b93"/>
<circle cx="285.88" cy="94.25" r="0.65" fill="#1a5b93"/>
<circle cx="288.22" cy="40.81" r="0.65" fill="#1a5b93"/>
<circle cx="287.62" cy="84.65" r="0.65" fill="#1a5b93"/>
<circle cx="295.05" cy="40.76" r="0.65" fill="#1a5b93"/>
<circle cx="287.85" cy="99.95" r="0.65" fill="#1a5b93"/>
<circle cx="293.38" cy="55.17" r="0.65" fill="#1a5b93"/>
<circle cx="287.17" cy="54.61" r="0.65" fill="#1a5b93"/>
<circle cx="287.74" cy="89.46" r="0.65" fill="#1a5b93"/>
<circle cx="290.68" cy="58.00" r="0.65" fill="#1a5b93"/>
<circle cx="289.07" cy="52.68" r="0.65" fill="#1a5b93"/>
<circle cx="282.71" cy="74.79" r="0.65" fill="#1a5b93"/>
<circle cx="287.75" cy="104.82" r="0.65" fill="#1a5b93"/>
<circle cx="295.10" cy="99.40" r="0.65" fill="#1a5b93"/>
<circle cx="285.35" cy="48.54" r="0.65" fill="#1a5b93"/>
<circle cx="295.73" cy="44.84" r="0.65" fill="#1a5b93"/>
<circle cx="287.23" cy="44.90" r="0.65" fill="#1a5b93"/>
<circle cx="284.47" cy="59.86" r="0.65" fill="#1a5b93"/>
<circle cx="295.53" cy="95.99" r="0.65" fill="#1a5b93"/>
<circle cx="284.39" cy="62.38" r="0.65" fill="#1a5b93"/>
<circle cx="294.66" cy="59.04" r="0.65" fill="#1a5b93"/>
<circle cx="295.58" cy="77.92" r="0.65" fill="#1a5b93"/>
<circle cx="287.64" cy="101.01" r="0.65" fill="#1a5b93"/>
<circle cx="286.28" cy="44.33" r="0.65" fill="#1a5b93"/>
<circle cx="283.51" cy="96.53" r="0.65" fill="#1a5b93"/>
<circle cx="287.30" cy="105.92" r="0.65" fill="#1a5b93"/>
<circle cx="286.74" cy="96.67" r="0.65" fill="#1a5b93"/>
<circle cx="284.21" cy="72.85" r="0.65" fill="#1a5b93"/>
<circle cx="289.95" cy="70.03" r="0.65" fill="#1a5b93"/>
<circle cx="293.01" cy="72.86" r="0.65" fill="#1a5b93"/>
<circle cx="295.55" cy="103.69" r="0.65" fill="#1a5b93"/>
<circle cx="285.59" cy="104.02" r="0.65" fill="#1a5b93"/>
<circle cx="286.78" cy="56.67" r="0.65" fill="#1a5b93"/>
<circle cx="295.24" cy="74.45" r="0.65" fill="#1a5b93"/>
<circle cx="284.73" cy="86.46" r="0.65" fill="#1a5b93"/>
<circle cx="290.34" cy="88.95" r="0.65" fill="#1a5b93"/>
<circle cx="293.43" cy="42.00" r="0.65" fill="#1a5b93"/>
<circle cx="288.85" cy="67.58" r="0.65" fill="#1a5b93"/>
<circle cx="294.16" cy="77.13" r="0.65" fill="#1a5b93"/>
<circle cx="285.15" cy="43.97" r="0.65" fill="#1a5b93"/>
<circle cx="295.97" cy="107.64" r="0.65" fill="#1a5b93"/>
<circle cx="293.01" cy="81.60" r="0.65" fill="#1a5b93"/>
<circle cx="283.24" cy="98.06" r="0.65" fill="#1a5b93"/>
<circle cx="284.90" cy="58.35" r="0.65" fill="#1a5b93"/>
<circle cx="285.43" cy="107.97" r="0.65" fill="#1a5b93"/>
<circle cx="285.54" cy="54.00" r="0.65" fill="#1a5b93"/>
<circle cx="289.39" cy="64.14" r="0.65" fill="#1a5b93"/>
<circle cx="288.92" cy="40.73" r="0.70" fill="#1a5b93"/>
<circle cx="282.73" cy="40.55" r="0.70" fill="#1a5b93"/>
<circle cx="283.09" cy="40.61" r="0.70" fill="#1a5b93"/>
<circle cx="291.03" cy="40.45" r="0.70" fill="#1a5b93"/>
<circle cx="289.03" cy="40.06" r="0.70" fill="#1a5b93"/>
<circle cx="286.88" cy="40.47" r="0.70" fill="#1a5b93"/>
<circle cx="294.68" cy="40.13" r="0.70" fill="#1a5b93"/>
<circle cx="288.26" cy="40.19" r="0.70" fill="#1a5b93"/>
<circle cx="288.85" cy="40.50" r="0.70" fill="#1a5b93"/>
<circle cx="274.47" cy="129.74" r="0.60" fill="#c8202f"/>
<circle cx="259.99" cy="129.71" r="0.60" fill="#c8202f"/>
<circle cx="276.75" cy="129.58" r="0.60" fill="#c8202f"/>
<circle cx="246.67" cy="130.26" r="0.60" fill="#c8202f"/>
<circle cx="280.35" cy="128.92" r="0.60" fill="#c8202f"/>
<circle cx="280.66" cy="128.58" r="0.60" fill="#c8202f"/>
<circle cx="275.92" cy="129.83" r="0.60" fill="#c8202f"/>
<circle cx="272.64" cy="130.00" r="0.60" fill="#c8202f"/>
<circle cx="266.77" cy="129.61" r="0.60" fill="#c8202f"/>
<circle cx="273.13" cy="128.74" r="0.60" fill="#c8202f"/>
<circle cx="254.32" cy="130.36" r="0.60" fill="#c8202f"/>
<circle cx="270.19" cy="130.29" r="0.60" fill="#c8202f"/>
<circle cx="267.74" cy="130.39" r="0.60" fill="#c8202f"/>
<circle cx="280.24" cy="127.20" r="0.60" fill="#c8202f"/>
<circle cx="272.89" cy="129.12" r="0.60" fill="#c8202f"/>
<circle cx="269.97" cy="129.65" r="0.60" fill="#c8202f"/>
<circle cx="264.65" cy="130.25" r="0.60" fill="#c8202f"/>
<circle cx="272.36" cy="130.18" r="0.60" fill="#c8202f"/>
<circle cx="277.32" cy="130.09" r="0.60" fill="#c8202f"/>
<circle cx="279.38" cy="128.76" r="0.60" fill="#c8202f"/>
<circle cx="271.67" cy="128.20" r="0.60" fill="#c8202f"/>
<circle cx="281.38" cy="124.76" r="0.60" fill="#c8202f"/>
<circle cx="269.19" cy="130.37" r="0.60" fill="#c8202f"/>
<circle cx="254.20" cy="129.66" r="0.60" fill="#c8202f"/>
<circle cx="268.07" cy="130.33" r="0.60" fill="#c8202f"/>
<circle cx="276.20" cy="126.75" r="0.60" fill="#c8202f"/>
<circle cx="270.89" cy="130.38" r="0.60" fill="#c8202f"/>
<circle cx="279.33" cy="128.85" r="0.60" fill="#c8202f"/>
<circle cx="270.96" cy="128.36" r="0.60" fill="#c8202f"/>
<circle cx="254.94" cy="130.13" r="0.60" fill="#c8202f"/>
<circle cx="273.44" cy="127.74" r="0.60" fill="#c8202f"/>
<circle cx="276.81" cy="126.79" r="0.60" fill="#c8202f"/>
<circle cx="279.73" cy="128.98" r="0.60" fill="#c8202f"/>
<circle cx="278.02" cy="128.69" r="0.60" fill="#c8202f"/>
<circle cx="281.13" cy="124.61" r="0.60" fill="#c8202f"/>
<circle cx="267.57" cy="130.25" r="0.60" fill="#c8202f"/>
<circle cx="270.12" cy="128.62" r="0.60" fill="#c8202f"/>
<circle cx="261.35" cy="129.13" r="0.60" fill="#c8202f"/>
<circle cx="266.03" cy="129.87" r="0.60" fill="#c8202f"/>
<circle cx="265.38" cy="129.87" r="0.60" fill="#c8202f"/>
<circle cx="255.16" cy="128.77" r="0.60" fill="#c8202f"/>
<circle cx="274.83" cy="129.28" r="0.60" fill="#c8202f"/>
<circle cx="274.74" cy="127.87" r="0.60" fill="#c8202f"/>
<circle cx="280.34" cy="123.21" r="0.60" fill="#c8202f"/>
<circle cx="277.60" cy="129.63" r="0.60" fill="#c8202f"/>
<circle cx="281.54" cy="129.50" r="0.60" fill="#c8202f"/>
<circle cx="267.96" cy="129.21" r="0.60" fill="#c8202f"/>
<circle cx="276.64" cy="126.39" r="0.60" fill="#c8202f"/>
<circle cx="255.40" cy="129.49" r="0.60" fill="#c8202f"/>
<circle cx="272.97" cy="129.01" r="0.60" fill="#c8202f"/>
<circle cx="273.56" cy="129.39" r="0.60" fill="#c8202f"/>
<circle cx="274.94" cy="130.25" r="0.60" fill="#c8202f"/>
<circle cx="279.65" cy="128.74" r="0.60" fill="#c8202f"/>
<circle cx="270.05" cy="128.70" r="0.60" fill="#c8202f"/>
<circle cx="277.09" cy="128.05" r="0.60" fill="#c8202f"/>
<circle cx="278.20" cy="128.78" r="0.60" fill="#c8202f"/>
<circle cx="275.34" cy="127.92" r="0.60" fill="#c8202f"/>
<circle cx="270.71" cy="127.58" r="0.60" fill="#c8202f"/>
<circle cx="268.50" cy="128.39" r="0.60" fill="#c8202f"/>
<circle cx="273.50" cy="129.69" r="0.60" fill="#c8202f"/>
<circle cx="265.82" cy="130.03" r="0.60" fill="#c8202f"/>
<circle cx="261.51" cy="130.04" r="0.60" fill="#c8202f"/>
<circle cx="277.18" cy="128.94" r="0.60" fill="#c8202f"/>
<circle cx="268.06" cy="130.24" r="0.60" fill="#c8202f"/>
<circle cx="258.25" cy="130.00" r="0.60" fill="#c8202f"/>
<circle cx="268.57" cy="130.15" r="0.60" fill="#c8202f"/>
<circle cx="281.84" cy="128.38" r="0.60" fill="#c8202f"/>
<circle cx="277.07" cy="127.80" r="0.60" fill="#c8202f"/>
<circle cx="281.56" cy="128.06" r="0.60" fill="#c8202f"/>
<circle cx="278.51" cy="130.09" r="0.60" fill="#c8202f"/>
<circle cx="272.91" cy="128.90" r="0.60" fill="#c8202f"/>
<circle cx="265.47" cy="129.99" r="0.60" fill="#c8202f"/>
<circle cx="271.36" cy="129.69" r="0.60" fill="#c8202f"/>
<circle cx="280.88" cy="127.52" r="0.60" fill="#c8202f"/>
<circle cx="276.09" cy="130.15" r="0.60" fill="#c8202f"/>
<circle cx="265.07" cy="129.84" r="0.60" fill="#c8202f"/>
<circle cx="280.94" cy="127.16" r="0.60" fill="#c8202f"/>
<circle cx="263.80" cy="128.75" r="0.60" fill="#c8202f"/>
<circle cx="274.50" cy="129.63" r="0.60" fill="#c8202f"/>
<circle cx="241.20" cy="129.60" r="0.60" fill="#c8202f"/>
<circle cx="274.31" cy="130.21" r="0.60" fill="#c8202f"/>
<circle cx="281.74" cy="129.50" r="0.60" fill="#c8202f"/>
<circle cx="273.03" cy="128.79" r="0.60" fill="#c8202f"/>
<circle cx="279.39" cy="126.67" r="0.60" fill="#c8202f"/>
<circle cx="280.59" cy="128.22" r="0.60" fill="#c8202f"/>
<circle cx="280.27" cy="126.85" r="0.60" fill="#c8202f"/>
<circle cx="278.45" cy="128.01" r="0.60" fill="#c8202f"/>
<circle cx="276.83" cy="130.00" r="0.60" fill="#c8202f"/>
<circle cx="251.92" cy="130.05" r="0.60" fill="#c8202f"/>
<circle cx="278.96" cy="129.89" r="0.60" fill="#c8202f"/>
<circle cx="273.36" cy="129.85" r="0.60" fill="#c8202f"/>
<circle cx="277.65" cy="128.24" r="0.60" fill="#c8202f"/>
<circle cx="273.16" cy="129.20" r="0.60" fill="#c8202f"/>
<circle cx="263.95" cy="129.74" r="0.60" fill="#c8202f"/>
<circle cx="267.54" cy="129.65" r="0.60" fill="#c8202f"/>
<circle cx="275.04" cy="128.11" r="0.60" fill="#c8202f"/>
<circle cx="263.60" cy="129.99" r="0.60" fill="#c8202f"/>
<circle cx="279.31" cy="129.83" r="0.60" fill="#c8202f"/>
<circle cx="279.92" cy="130.33" r="0.60" fill="#c8202f"/>
<circle cx="271.16" cy="129.81" r="0.60" fill="#c8202f"/>
<circle cx="276.46" cy="130.21" r="0.60" fill="#c8202f"/>
<circle cx="259.11" cy="129.89" r="0.60" fill="#c8202f"/>
<circle cx="265.83" cy="130.30" r="0.60" fill="#c8202f"/>
<circle cx="268.02" cy="127.92" r="0.60" fill="#c8202f"/>
<circle cx="274.52" cy="129.38" r="0.60" fill="#c8202f"/>
<circle cx="277.68" cy="126.16" r="0.60" fill="#c8202f"/>
<circle cx="269.53" cy="130.34" r="0.60" fill="#c8202f"/>
<circle cx="261.48" cy="129.28" r="0.60" fill="#c8202f"/>
<circle cx="281.14" cy="125.83" r="0.60" fill="#c8202f"/>
<circle cx="278.66" cy="128.01" r="0.60" fill="#c8202f"/>
<circle cx="273.39" cy="129.11" r="0.60" fill="#c8202f"/>
<circle cx="271.91" cy="130.04" r="0.60" fill="#c8202f"/>
<circle cx="273.14" cy="129.26" r="0.60" fill="#c8202f"/>
<circle cx="275.14" cy="127.42" r="0.60" fill="#c8202f"/>
<circle cx="268.77" cy="130.07" r="0.60" fill="#c8202f"/>
<circle cx="272.31" cy="129.28" r="0.60" fill="#c8202f"/>
<circle cx="263.45" cy="129.04" r="0.60" fill="#c8202f"/>
<circle cx="260.79" cy="130.17" r="0.60" fill="#c8202f"/>
<circle cx="267.21" cy="129.62" r="0.60" fill="#c8202f"/>
<circle cx="281.57" cy="128.19" r="0.60" fill="#c8202f"/>
<circle cx="277.26" cy="125.34" r="0.60" fill="#c8202f"/>
<circle cx="271.95" cy="128.63" r="0.60" fill="#c8202f"/>
<circle cx="265.71" cy="129.88" r="0.60" fill="#c8202f"/>
<circle cx="278.99" cy="126.48" r="0.60" fill="#c8202f"/>
<circle cx="248.78" cy="129.79" r="0.60" fill="#c8202f"/>
<circle cx="271.58" cy="128.56" r="0.60" fill="#c8202f"/>
<circle cx="269.46" cy="130.28" r="0.60" fill="#c8202f"/>
<circle cx="281.18" cy="128.41" r="0.60" fill="#c8202f"/>
<circle cx="275.58" cy="129.53" r="0.60" fill="#c8202f"/>
<circle cx="250.71" cy="128.69" r="0.60" fill="#c8202f"/>
<circle cx="273.22" cy="127.08" r="0.60" fill="#c8202f"/>
<circle cx="267.02" cy="129.96" r="0.60" fill="#c8202f"/>
<circle cx="272.00" cy="127.92" r="0.60" fill="#c8202f"/>
<circle cx="269.41" cy="129.46" r="0.60" fill="#c8202f"/>
<circle cx="277.25" cy="126.95" r="0.60" fill="#c8202f"/>
<circle cx="281.82" cy="126.89" r="0.60" fill="#c8202f"/>
<circle cx="281.97" cy="126.20" r="0.60" fill="#c8202f"/>
<circle cx="267.86" cy="129.96" r="0.60" fill="#c8202f"/>
<circle cx="275.51" cy="130.32" r="0.60" fill="#c8202f"/>
<circle cx="280.07" cy="128.27" r="0.60" fill="#c8202f"/>
<circle cx="277.74" cy="125.17" r="0.60" fill="#c8202f"/>
<circle cx="279.72" cy="127.32" r="0.60" fill="#c8202f"/>
<circle cx="268.00" cy="130.21" r="0.60" fill="#c8202f"/>
<circle cx="273.57" cy="128.41" r="0.60" fill="#c8202f"/>
<circle cx="267.92" cy="129.55" r="0.60" fill="#c8202f"/>
<circle cx="276.73" cy="126.83" r="0.60" fill="#c8202f"/>
<circle cx="276.12" cy="129.87" r="0.60" fill="#c8202f"/>
<circle cx="271.40" cy="129.46" r="0.60" fill="#c8202f"/>
<circle cx="244.97" cy="129.88" r="0.60" fill="#c8202f"/>
<circle cx="254.53" cy="129.45" r="0.60" fill="#c8202f"/>
<circle cx="269.68" cy="128.85" r="0.60" fill="#c8202f"/>
<circle cx="272.90" cy="129.80" r="0.60" fill="#c8202f"/>
<circle cx="275.44" cy="127.73" r="0.60" fill="#c8202f"/>
<circle cx="276.46" cy="128.68" r="0.60" fill="#c8202f"/>
<circle cx="280.44" cy="128.08" r="0.60" fill="#c8202f"/>
<circle cx="279.51" cy="130.28" r="0.60" fill="#c8202f"/>
<circle cx="269.46" cy="129.23" r="0.60" fill="#c8202f"/>
<circle cx="275.84" cy="129.07" r="0.60" fill="#c8202f"/>
<circle cx="262.20" cy="128.89" r="0.60" fill="#c8202f"/>
<circle cx="282.15" cy="128.71" r="0.60" fill="#c8202f"/>
<circle cx="278.31" cy="129.76" r="0.60" fill="#c8202f"/>
<circle cx="276.65" cy="127.21" r="0.60" fill="#c8202f"/>
<circle cx="280.87" cy="127.46" r="0.60" fill="#c8202f"/>
<circle cx="281.17" cy="129.82" r="0.60" fill="#c8202f"/>
<circle cx="271.93" cy="127.82" r="0.60" fill="#c8202f"/>
<circle cx="277.54" cy="127.17" r="0.60" fill="#c8202f"/>
<circle cx="278.66" cy="128.44" r="0.60" fill="#c8202f"/>
<circle cx="275.92" cy="129.46" r="0.60" fill="#c8202f"/>
<circle cx="271.62" cy="130.20" r="0.60" fill="#c8202f"/>
<circle cx="261.13" cy="129.81" r="0.60" fill="#c8202f"/>
<circle cx="237.27" cy="125.89" r="0.70" fill="#c8202f"/>
<circle cx="242.34" cy="127.39" r="0.70" fill="#c8202f"/>
<circle cx="272.75" cy="115.35" r="0.70" fill="#c8202f"/>
<circle cx="274.92" cy="113.84" r="0.70" fill="#c8202f"/>
<circle cx="278.54" cy="118.36" r="0.70" fill="#c8202f"/>
<circle cx="280.71" cy="121.37" r="0.70" fill="#c8202f"/>
<circle cx="278.54" cy="123.78" r="0.70" fill="#c8202f"/>
<circle cx="270.58" cy="122.88" r="0.70" fill="#c8202f"/>
<circle cx="281.44" cy="110.84" r="0.70" fill="#c8202f"/>
<circle cx="253.20" cy="129.20" r="0.70" fill="#c8202f"/>
<circle cx="263.34" cy="128.90" r="0.70" fill="#c8202f"/>
<circle cx="269.13" cy="127.99" r="0.70" fill="#c8202f"/>
<circle cx="273.47" cy="38.60" r="0.80" fill="#c8202f"/>
<circle cx="308.32" cy="129.70" r="0.60" fill="#3aaa3f"/>
<circle cx="303.31" cy="130.26" r="0.60" fill="#3aaa3f"/>
<circle cx="298.87" cy="125.47" r="0.60" fill="#3aaa3f"/>
<circle cx="310.89" cy="127.88" r="0.60" fill="#3aaa3f"/>
<circle cx="302.14" cy="127.97" r="0.60" fill="#3aaa3f"/>
<circle cx="312.66" cy="129.45" r="0.60" fill="#3aaa3f"/>
<circle cx="308.84" cy="129.48" r="0.60" fill="#3aaa3f"/>
<circle cx="300.82" cy="127.88" r="0.60" fill="#3aaa3f"/>
<circle cx="298.42" cy="127.90" r="0.60" fill="#3aaa3f"/>
<circle cx="310.78" cy="128.76" r="0.60" fill="#3aaa3f"/>
<circle cx="297.96" cy="126.78" r="0.60" fill="#3aaa3f"/>
<circle cx="298.63" cy="124.62" r="0.60" fill="#3aaa3f"/>
<circle cx="310.53" cy="129.86" r="0.60" fill="#3aaa3f"/>
<circle cx="313.31" cy="129.51" r="0.60" fill="#3aaa3f"/>
<circle cx="308.63" cy="129.97" r="0.60" fill="#3aaa3f"/>
<circle cx="298.98" cy="129.80" r="0.60" fill="#3aaa3f"/>
<circle cx="313.06" cy="127.62" r="0.60" fill="#3aaa3f"/>
<circle cx="311.80" cy="128.99" r="0.60" fill="#3aaa3f"/>
<circle cx="300.67" cy="129.85" r="0.60" fill="#3aaa3f"/>
<circle cx="311.06" cy="130.16" r="0.60" fill="#3aaa3f"/>
<circle cx="299.99" cy="128.05" r="0.60" fill="#3aaa3f"/>
<circle cx="303.87" cy="127.44" r="0.60" fill="#3aaa3f"/>
<circle cx="301.28" cy="127.45" r="0.60" fill="#3aaa3f"/>
<circle cx="299.57" cy="126.17" r="0.60" fill="#3aaa3f"/>
<circle cx="302.13" cy="128.40" r="0.60" fill="#3aaa3f"/>
<circle cx="296.70" cy="126.91" r="0.60" fill="#3aaa3f"/>
<circle cx="296.76" cy="129.65" r="0.60" fill="#3aaa3f"/>
<circle cx="301.31" cy="126.77" r="0.60" fill="#3aaa3f"/>
<circle cx="297.18" cy="128.42" r="0.60" fill="#3aaa3f"/>
<circle cx="302.65" cy="128.04" r="0.60" fill="#3aaa3f"/>
<circle cx="304.76" cy="130.27" r="0.60" fill="#3aaa3f"/>
<circle cx="308.60" cy="129.09" r="0.60" fill="#3aaa3f"/>
<circle cx="306.55" cy="128.90" r="0.60" fill="#3aaa3f"/>
<circle cx="300.57" cy="126.96" r="0.60" fill="#3aaa3f"/>
<circle cx="304.64" cy="129.37" r="0.60" fill="#3aaa3f"/>
<circle cx="307.22" cy="130.36" r="0.60" fill="#3aaa3f"/>
<circle cx="308.06" cy="130.13" r="0.60" fill="#3aaa3f"/>
<circle cx="301.41" cy="124.47" r="0.60" fill="#3aaa3f"/>
<circle cx="296.96" cy="129.54" r="0.60" fill="#3aaa3f"/>
<circle cx="297.39" cy="129.43" r="0.60" fill="#3aaa3f"/>
<circle cx="300.40" cy="126.17" r="0.60" fill="#3aaa3f"/>
<circle cx="298.00" cy="127.96" r="0.60" fill="#3aaa3f"/>
<circle cx="308.78" cy="128.72" r="0.60" fill="#3aaa3f"/>
<circle cx="302.49" cy="126.76" r="0.60" fill="#3aaa3f"/>
<circle cx="297.00" cy="125.87" r="0.60" fill="#3aaa3f"/>
<circle cx="306.19" cy="129.20" r="0.60" fill="#3aaa3f"/>
<circle cx="317.85" cy="127.87" r="0.60" fill="#3aaa3f"/>
<circle cx="312.14" cy="129.26" r="0.60" fill="#3aaa3f"/>
<circle cx="302.97" cy="129.57" r="0.60" fill="#3aaa3f"/>
<circle cx="308.23" cy="130.13" r="0.60" fill="#3aaa3f"/>
<circle cx="304.71" cy="130.24" r="0.60" fill="#3aaa3f"/>
<circle cx="303.98" cy="128.40" r="0.60" fill="#3aaa3f"/>
<circle cx="300.36" cy="130.32" r="0.60" fill="#3aaa3f"/>
<circle cx="298.18" cy="130.37" r="0.60" fill="#3aaa3f"/>
<circle cx="302.22" cy="128.27" r="0.60" fill="#3aaa3f"/>
<circle cx="299.56" cy="129.13" r="0.60" fill="#3aaa3f"/>
<circle cx="317.23" cy="129.31" r="0.60" fill="#3aaa3f"/>
<circle cx="311.30" cy="129.60" r="0.60" fill="#3aaa3f"/>
<circle cx="307.06" cy="129.44" r="0.60" fill="#3aaa3f"/>
<circle cx="301.52" cy="127.57" r="0.60" fill="#3aaa3f"/>
<circle cx="308.06" cy="129.34" r="0.60" fill="#3aaa3f"/>
<circle cx="298.76" cy="126.54" r="0.60" fill="#3aaa3f"/>
<circle cx="304.85" cy="129.93" r="0.60" fill="#3aaa3f"/>
<circle cx="308.38" cy="129.60" r="0.60" fill="#3aaa3f"/>
<circle cx="303.23" cy="130.21" r="0.60" fill="#3aaa3f"/>
<circle cx="300.26" cy="128.54" r="0.60" fill="#3aaa3f"/>
<circle cx="310.95" cy="129.50" r="0.60" fill="#3aaa3f"/>
<circle cx="308.55" cy="127.78" r="0.60" fill="#3aaa3f"/>
<circle cx="300.70" cy="129.88" r="0.60" fill="#3aaa3f"/>
<circle cx="301.43" cy="128.69" r="0.60" fill="#3aaa3f"/>
<circle cx="302.59" cy="126.62" r="0.60" fill="#3aaa3f"/>
<circle cx="296.81" cy="128.97" r="0.60" fill="#3aaa3f"/>
<circle cx="313.08" cy="129.94" r="0.60" fill="#3aaa3f"/>
<circle cx="300.65" cy="128.79" r="0.60" fill="#3aaa3f"/>
<circle cx="302.17" cy="130.10" r="0.60" fill="#3aaa3f"/>
<circle cx="320.02" cy="129.90" r="0.60" fill="#3aaa3f"/>
<circle cx="299.80" cy="128.07" r="0.60" fill="#3aaa3f"/>
<circle cx="299.47" cy="128.47" r="0.60" fill="#3aaa3f"/>
<circle cx="305.23" cy="128.50" r="0.60" fill="#3aaa3f"/>
<circle cx="299.23" cy="129.99" r="0.60" fill="#3aaa3f"/>
<circle cx="305.17" cy="129.70" r="0.60" fill="#3aaa3f"/>
<circle cx="299.84" cy="128.13" r="0.60" fill="#3aaa3f"/>
<circle cx="297.96" cy="128.00" r="0.60" fill="#3aaa3f"/>
<circle cx="321.36" cy="130.30" r="0.60" fill="#3aaa3f"/>
<circle cx="297.12" cy="127.11" r="0.60" fill="#3aaa3f"/>
<circle cx="308.89" cy="129.51" r="0.60" fill="#3aaa3f"/>
<circle cx="302.18" cy="129.71" r="0.60" fill="#3aaa3f"/>
<circle cx="297.27" cy="127.07" r="0.60" fill="#3aaa3f"/>
<circle cx="304.82" cy="127.90" r="0.60" fill="#3aaa3f"/>
<circle cx="310.54" cy="130.17" r="0.60" fill="#3aaa3f"/>
<circle cx="303.06" cy="128.68" r="0.60" fill="#3aaa3f"/>
<circle cx="298.87" cy="126.29" r="0.60" fill="#3aaa3f"/>
<circle cx="306.85" cy="129.82" r="0.60" fill="#3aaa3f"/>
<circle cx="305.28" cy="128.91" r="0.60" fill="#3aaa3f"/>
<circle cx="298.78" cy="130.14" r="0.60" fill="#3aaa3f"/>
<circle cx="305.65" cy="130.22" r="0.60" fill="#3aaa3f"/>
<circle cx="299.21" cy="128.66" r="0.60" fill="#3aaa3f"/>
<circle cx="314.10" cy="128.93" r="0.60" fill="#3aaa3f"/>
<circle cx="301.34" cy="127.29" r="0.60" fill="#3aaa3f"/>
<circle cx="312.68" cy="130.40" r="0.60" fill="#3aaa3f"/>
<circle cx="303.02" cy="129.68" r="0.60" fill="#3aaa3f"/>
<circle cx="302.23" cy="126.43" r="0.60" fill="#3aaa3f"/>
<circle cx="313.24" cy="129.26" r="0.60" fill="#3aaa3f"/>
<circle cx="302.61" cy="130.05" r="0.60" fill="#3aaa3f"/>
<circle cx="314.41" cy="129.93" r="0.60" fill="#3aaa3f"/>
<circle cx="308.02" cy="129.04" r="0.60" fill="#3aaa3f"/>
<circle cx="297.68" cy="124.13" r="0.60" fill="#3aaa3f"/>
<circle cx="313.30" cy="129.68" r="0.60" fill="#3aaa3f"/>
<circle cx="300.00" cy="128.84" r="0.60" fill="#3aaa3f"/>
<circle cx="298.84" cy="130.20" r="0.60" fill="#3aaa3f"/>
<circle cx="303.24" cy="128.77" r="0.60" fill="#3aaa3f"/>
<circle cx="299.13" cy="129.84" r="0.60" fill="#3aaa3f"/>
<circle cx="303.91" cy="127.95" r="0.60" fill="#3aaa3f"/>
<circle cx="298.89" cy="129.90" r="0.60" fill="#3aaa3f"/>
<circle cx="302.52" cy="129.02" r="0.60" fill="#3aaa3f"/>
<circle cx="298.30" cy="128.69" r="0.60" fill="#3aaa3f"/>
<circle cx="300.76" cy="126.21" r="0.60" fill="#3aaa3f"/>
<circle cx="299.46" cy="128.58" r="0.60" fill="#3aaa3f"/>
<circle cx="305.55" cy="130.03" r="0.60" fill="#3aaa3f"/>
<circle cx="303.83" cy="128.08" r="0.60" fill="#3aaa3f"/>
<circle cx="305.96" cy="130.32" r="0.60" fill="#3aaa3f"/>
<circle cx="299.29" cy="130.24" r="0.60" fill="#3aaa3f"/>
<circle cx="301.27" cy="129.13" r="0.60" fill="#3aaa3f"/>
<circle cx="297.30" cy="129.93" r="0.60" fill="#3aaa3f"/>
<circle cx="306.18" cy="129.04" r="0.60" fill="#3aaa3f"/>
<circle cx="305.80" cy="129.09" r="0.60" fill="#3aaa3f"/>
<circle cx="301.30" cy="129.83" r="0.60" fill="#3aaa3f"/>
<circle cx="307.62" cy="129.14" r="0.60" fill="#3aaa3f"/>
<circle cx="306.87" cy="128.85" r="0.60" fill="#3aaa3f"/>
<circle cx="298.92" cy="129.84" r="0.60" fill="#3aaa3f"/>
<circle cx="298.33" cy="127.35" r="0.60" fill="#3aaa3f"/>
<circle cx="296.66" cy="123.03" r="0.60" fill="#3aaa3f"/>
<circle cx="303.32" cy="125.30" r="0.60" fill="#3aaa3f"/>
<circle cx="300.34" cy="127.47" r="0.60" fill="#3aaa3f"/>
<circle cx="306.30" cy="128.31" r="0.60" fill="#3aaa3f"/>
<circle cx="316.61" cy="128.21" r="0.60" fill="#3aaa3f"/>
<circle cx="297.77" cy="122.59" r="0.60" fill="#3aaa3f"/>
<circle cx="304.95" cy="128.41" r="0.60" fill="#3aaa3f"/>
<circle cx="316.08" cy="129.74" r="0.60" fill="#3aaa3f"/>
<circle cx="314.14" cy="129.22" r="0.60" fill="#3aaa3f"/>
<circle cx="314.63" cy="130.39" r="0.60" fill="#3aaa3f"/>
<circle cx="309.98" cy="127.86" r="0.60" fill="#3aaa3f"/>
<circle cx="302.57" cy="128.35" r="0.60" fill="#3aaa3f"/>
<circle cx="301.24" cy="129.79" r="0.60" fill="#3aaa3f"/>
<circle cx="297.29" cy="128.98" r="0.60" fill="#3aaa3f"/>
<circle cx="301.90" cy="128.78" r="0.60" fill="#3aaa3f"/>
<circle cx="302.32" cy="127.16" r="0.60" fill="#3aaa3f"/>
<circle cx="300.33" cy="127.16" r="0.60" fill="#3aaa3f"/>
<circle cx="313.92" cy="127.63" r="0.60" fill="#3aaa3f"/>
<circle cx="297.35" cy="126.58" r="0.60" fill="#3aaa3f"/>
<circle cx="298.09" cy="109.33" r="0.70" fill="#3aaa3f"/>
<circle cx="300.26" cy="112.34" r="0.70" fill="#3aaa3f"/>
<circle cx="303.88" cy="113.84" r="0.70" fill="#3aaa3f"/>
<circle cx="306.05" cy="106.32" r="0.70" fill="#3aaa3f"/>
<circle cx="302.43" cy="119.87" r="0.70" fill="#3aaa3f"/>
<circle cx="308.22" cy="121.37" r="0.70" fill="#3aaa3f"/>
<circle cx="314.74" cy="124.38" r="0.70" fill="#3aaa3f"/>
<circle cx="319.81" cy="127.39" r="0.70" fill="#3aaa3f"/>
<circle cx="333.56" cy="126.79" r="0.70" fill="#3aaa3f"/>
<circle cx="369.04" cy="128.90" r="0.70" fill="#3aaa3f"/>
<circle cx="300.98" cy="101.81" r="0.70" fill="#3aaa3f"/>
<circle cx="299.54" cy="58.16" r="0.70" fill="#3aaa3f"/>
<circle cx="298.81" cy="40.10" r="0.70" fill="#3aaa3f"/>
<circle cx="303.16" cy="116.86" r="0.70" fill="#3aaa3f"/>
<circle cx="304.60" cy="122.88" r="0.70" fill="#3aaa3f"/>
<line x1="282.16" y1="33.50" x2="282.16" y2="134.80" stroke="#444" stroke-width="0.7" stroke-dasharray="1.5,1.2"/>
<line x1="296.64" y1="33.50" x2="296.64" y2="134.80" stroke="#444" stroke-width="0.7" stroke-dasharray="1.5,1.2"/>
<line x1="229.80" y1="130.40" x2="374.00" y2="130.40" stroke="#666" stroke-width="0.7" stroke-dasharray="1.5,1.5"/>
<circle cx="308.30" cy="38.30" r="2.70" fill="#2bb14a"/>
<text x="315.60" y="41.00" font-size="8.25" fill="#303030" stroke="#303030" stroke-width="0.1" font-style="italic" textLength="16.40" lengthAdjust="spacingAndGlyphs">KLF2</text>
<line x1="229.90" y1="33.60" x2="229.90" y2="134.80" stroke="#2a2a2a" stroke-width="1"/>
<line x1="226.90" y1="40.10" x2="229.90" y2="40.10" stroke="#2a2a2a" stroke-width="0.9"/>
<text x="224.80" y="43.11" font-size="8.36" text-anchor="end" fill="#303030" stroke="#303030" stroke-width="0.1" textLength="12.68" lengthAdjust="spacingAndGlyphs">300</text>
<line x1="226.90" y1="70.20" x2="229.90" y2="70.20" stroke="#2a2a2a" stroke-width="0.9"/>
<text x="224.80" y="73.21" font-size="8.36" text-anchor="end" fill="#303030" stroke="#303030" stroke-width="0.1" textLength="12.68" lengthAdjust="spacingAndGlyphs">200</text>
<line x1="226.90" y1="100.30" x2="229.90" y2="100.30" stroke="#2a2a2a" stroke-width="0.9"/>
<text x="224.80" y="103.31" font-size="8.36" text-anchor="end" fill="#303030" stroke="#303030" stroke-width="0.1" textLength="12.68" lengthAdjust="spacingAndGlyphs">100</text>
<line x1="226.90" y1="130.40" x2="229.90" y2="130.40" stroke="#2a2a2a" stroke-width="0.9"/>
<text x="224.80" y="133.41" font-size="8.36" text-anchor="end" fill="#303030" stroke="#303030" stroke-width="0.1" textLength="4.23" lengthAdjust="spacingAndGlyphs">0</text>
<line x1="229.90" y1="134.80" x2="374.00" y2="134.80" stroke="#2a2a2a" stroke-width="1"/>
<line x1="253.20" y1="134.80" x2="253.20" y2="137.60" stroke="#2a2a2a" stroke-width="0.9"/>
<text x="253.20" y="147.30" font-size="8.69" text-anchor="middle" fill="#303030" stroke="#303030" stroke-width="0.1" textLength="9.01" lengthAdjust="spacingAndGlyphs">−5</text>
<line x1="289.40" y1="134.80" x2="289.40" y2="137.60" stroke="#2a2a2a" stroke-width="0.9"/>
<text x="289.40" y="147.30" font-size="8.69" text-anchor="middle" fill="#303030" stroke="#303030" stroke-width="0.1" textLength="4.39" lengthAdjust="spacingAndGlyphs">0</text>
<line x1="325.60" y1="134.80" x2="325.60" y2="137.60" stroke="#2a2a2a" stroke-width="0.9"/>
<text x="325.60" y="147.30" font-size="8.69" text-anchor="middle" fill="#303030" stroke="#303030" stroke-width="0.1" textLength="4.39" lengthAdjust="spacingAndGlyphs">5</text>
<line x1="361.80" y1="134.80" x2="361.80" y2="137.60" stroke="#2a2a2a" stroke-width="0.9"/>
<text x="361.80" y="147.30" font-size="8.69" text-anchor="middle" fill="#303030" stroke="#303030" stroke-width="0.1" textLength="8.79" lengthAdjust="spacingAndGlyphs">10</text>
<text x="302.40" y="157.20" font-size="9.02" text-anchor="middle" fill="#303030" stroke="#303030" stroke-width="0.1" textLength="61.00" lengthAdjust="spacingAndGlyphs">log2 (fold change)</text>
<text x="207.00" y="84.00" font-size="8.25" text-anchor="middle" fill="#303030" stroke="#303030" stroke-width="0.1" textLength="55.30" lengthAdjust="spacingAndGlyphs" transform="rotate(-90 207.00 84.00)">-log10 (<tspan font-style="italic">p</tspan>-value)</text>
<text x="411.00" y="19.70" font-size="11.5" fill="#111" font-weight="bold">E</text>
<text x="424.40" y="31.00" font-size="8.36" fill="#303030" stroke="#303030" stroke-width="0.1" textLength="74.10" lengthAdjust="spacingAndGlyphs">Hut78/NF-kB activity</text>
<line x1="440.70" y1="50.20" x2="440.70" y2="124.40" stroke="#2a2a2a" stroke-width="1"/>
<line x1="437.70" y1="50.20" x2="440.70" y2="50.20" stroke="#2a2a2a" stroke-width="0.9"/>
<text x="435.50" y="53.41" font-size="8.91" text-anchor="end" fill="#303030" stroke="#303030" stroke-width="0.1" textLength="11.26" lengthAdjust="spacingAndGlyphs">2.5</text>
<line x1="437.70" y1="65.04" x2="440.70" y2="65.04" stroke="#2a2a2a" stroke-width="0.9"/>
<text x="435.50" y="68.25" font-size="8.91" text-anchor="end" fill="#303030" stroke="#303030" stroke-width="0.1" textLength="11.26" lengthAdjust="spacingAndGlyphs">2.0</text>
<line x1="437.70" y1="79.88" x2="440.70" y2="79.88" stroke="#2a2a2a" stroke-width="0.9"/>
<text x="435.50" y="83.09" font-size="8.91" text-anchor="end" fill="#303030" stroke="#303030" stroke-width="0.1" textLength="11.26" lengthAdjust="spacingAndGlyphs">1.5</text>
<line x1="437.70" y1="94.72" x2="440.70" y2="94.72" stroke="#2a2a2a" stroke-width="0.9"/>
<text x="435.50" y="97.93" font-size="8.91" text-anchor="end" fill="#303030" stroke="#303030" stroke-width="0.1" textLength="11.26" lengthAdjust="spacingAndGlyphs">1.0</text>
<line x1="437.70" y1="109.56" x2="440.70" y2="109.56" stroke="#2a2a2a" stroke-width="0.9"/>
<text x="435.50" y="112.77" font-size="8.91" text-anchor="end" fill="#303030" stroke="#303030" stroke-width="0.1" textLength="11.26" lengthAdjust="spacingAndGlyphs">0.5</text>
<line x1="437.70" y1="124.40" x2="440.70" y2="124.40" stroke="#2a2a2a" stroke-width="0.9"/>
<text x="435.50" y="127.61" font-size="8.91" text-anchor="end" fill="#303030" stroke="#303030" stroke-width="0.1" textLength="11.26" lengthAdjust="spacingAndGlyphs">0.0</text>
<rect x="449.40" y="94.72" width="15.60" height="29.68" fill="#c52034"/>
<line x1="457.20" y1="94.72" x2="457.20" y2="93.83" stroke="#c52034" stroke-width="1"/>
<line x1="453.20" y1="93.83" x2="461.20" y2="93.83" stroke="#c52034" stroke-width="1"/>
<rect x="473.80" y="65.04" width="15.30" height="59.36" fill="#0c5283"/>
<line x1="481.45" y1="65.04" x2="481.45" y2="59.10" stroke="#0c5283" stroke-width="1"/>
<line x1="477.10" y1="59.10" x2="485.80" y2="59.10" stroke="#0c5283" stroke-width="1"/>
<line x1="440.70" y1="124.40" x2="497.70" y2="124.40" stroke="#2a2a2a" stroke-width="1"/>
<line x1="457.20" y1="124.40" x2="457.20" y2="127.00" stroke="#2a2a2a" stroke-width="0.9"/>
<line x1="481.45" y1="124.40" x2="481.45" y2="127.00" stroke="#2a2a2a" stroke-width="0.9"/>
<path d="M456.50,89.40 V50.20 H481.20 V54.50" fill="none" stroke="#8a8a8a" stroke-width="1.0"/>
<text x="469.30" y="48.90" font-size="9.13" text-anchor="middle" fill="#303030" stroke="#303030" stroke-width="0.1" textLength="6.46" lengthAdjust="spacingAndGlyphs">**</text>
<text x="456.90" y="136.50" font-size="8.25" text-anchor="middle" fill="#303030" stroke="#303030" stroke-width="0.1" textLength="12.50" lengthAdjust="spacingAndGlyphs">Ctrl</text>
<text x="481.30" y="136.50" font-size="8.25" text-anchor="middle" fill="#303030" stroke="#303030" stroke-width="0.1" textLength="24.90" lengthAdjust="spacingAndGlyphs">shKLF2</text>
<text x="419.40" y="87.00" font-size="9.13" text-anchor="middle" fill="#303030" stroke="#303030" stroke-width="0.1" textLength="84.00" lengthAdjust="spacingAndGlyphs" transform="rotate(-90 419.40 87.00)">Relative luciferase activity</text>
<text x="7.00" y="173.90" font-size="11.5" fill="#111" font-weight="bold">C</text>
<text x="74.30" y="182.30" font-size="8.58" text-anchor="middle" fill="#303030" stroke="#303030" stroke-width="0.1" textLength="11.27" lengthAdjust="spacingAndGlyphs">HH</text>
<line x1="40.50" y1="211.10" x2="40.50" y2="269.00" stroke="#2a2a2a" stroke-width="1"/>
<line x1="37.50" y1="211.10" x2="40.50" y2="211.10" stroke="#2a2a2a" stroke-width="0.9"/>
<text x="34.70" y="214.07" font-size="8.25" text-anchor="end" fill="#303030" stroke="#303030" stroke-width="0.1" textLength="8.34" lengthAdjust="spacingAndGlyphs">50</text>
<line x1="37.50" y1="222.68" x2="40.50" y2="222.68" stroke="#2a2a2a" stroke-width="0.9"/>
<text x="34.70" y="225.65" font-size="8.25" text-anchor="end" fill="#303030" stroke="#303030" stroke-width="0.1" textLength="8.34" lengthAdjust="spacingAndGlyphs">40</text>
<line x1="37.50" y1="234.26" x2="40.50" y2="234.26" stroke="#2a2a2a" stroke-width="0.9"/>
<text x="34.70" y="237.23" font-size="8.25" text-anchor="end" fill="#303030" stroke="#303030" stroke-width="0.1" textLength="8.34" lengthAdjust="spacingAndGlyphs">30</text>
<line x1="37.50" y1="245.84" x2="40.50" y2="245.84" stroke="#2a2a2a" stroke-width="0.9"/>
<text x="34.70" y="248.81" font-size="8.25" text-anchor="end" fill="#303030" stroke="#303030" stroke-width="0.1" textLength="8.34" lengthAdjust="spacingAndGlyphs">20</text>
<line x1="37.50" y1="257.42" x2="40.50" y2="257.42" stroke="#2a2a2a" stroke-width="0.9"/>
<text x="34.70" y="260.39" font-size="8.25" text-anchor="end" fill="#303030" stroke="#303030" stroke-width="0.1" textLength="8.34" lengthAdjust="spacingAndGlyphs">10</text>
<line x1="37.50" y1="269.00" x2="40.50" y2="269.00" stroke="#2a2a2a" stroke-width="0.9"/>
<text x="34.70" y="271.97" font-size="8.25" text-anchor="end" fill="#303030" stroke="#303030" stroke-width="0.1" textLength="4.17" lengthAdjust="spacingAndGlyphs">0</text>
<path d="M53.30,257.90 V197.30 H92.90 V207.00" fill="none" stroke="#8a8a8a" stroke-width="1.0"/>
<line x1="79.40" y1="207.00" x2="105.00" y2="207.00" stroke="#777" stroke-width="0.8"/>
<text x="72.70" y="197.00" font-size="9.13" text-anchor="middle" fill="#303030" stroke="#303030" stroke-width="0.1" textLength="3.23" lengthAdjust="spacingAndGlyphs">*</text>
<rect x="44.50" y="266.80" width="17.50" height="2.20" fill="#c52034"/>
<line x1="53.25" y1="266.80" x2="53.25" y2="265.53" stroke="#666" stroke-width="1"/>
<line x1="48.45" y1="265.53" x2="58.05" y2="265.53" stroke="#666" stroke-width="1"/>
<rect x="70.50" y="218.05" width="17.00" height="50.95" fill="#0c5283"/>
<line x1="79.00" y1="218.05" x2="79.00" y2="215.73" stroke="#0c5283" stroke-width="1"/>
<line x1="74.25" y1="215.73" x2="83.75" y2="215.73" stroke="#0c5283" stroke-width="1"/>
<rect x="95.60" y="247.58" width="16.90" height="21.42" fill="#38b34c"/>
<line x1="104.05" y1="247.58" x2="104.05" y2="247.00" stroke="#38b34c" stroke-width="1"/>
<line x1="99.30" y1="247.00" x2="108.80" y2="247.00" stroke="#38b34c" stroke-width="1"/>
<line x1="40.50" y1="269.00" x2="116.90" y2="269.00" stroke="#2a2a2a" stroke-width="1"/>
<line x1="53.25" y1="269.00" x2="53.25" y2="272.00" stroke="#2a2a2a" stroke-width="0.9"/>
<line x1="79.00" y1="269.00" x2="79.00" y2="272.00" stroke="#2a2a2a" stroke-width="0.9"/>
<line x1="104.00" y1="269.00" x2="104.00" y2="272.00" stroke="#2a2a2a" stroke-width="0.9"/>
<text x="44.65" y="281.00" font-size="8.25" text-anchor="middle" fill="#303030" stroke="#303030" stroke-width="0.1" textLength="13.10" lengthAdjust="spacingAndGlyphs">Ctrl</text>
<text x="73.40" y="281.00" font-size="8.25" text-anchor="middle" fill="#303030" stroke="#303030" stroke-width="0.1" textLength="39.00" lengthAdjust="spacingAndGlyphs">shPEG10-1</text>
<text x="116.50" y="281.00" font-size="8.25" text-anchor="middle" fill="#303030" stroke="#303030" stroke-width="0.1" textLength="39.00" lengthAdjust="spacingAndGlyphs">shPEG10-2</text>
<text x="20.40" y="240.00" font-size="9.46" text-anchor="middle" fill="#303030" stroke="#303030" stroke-width="0.1" textLength="72.50" lengthAdjust="spacingAndGlyphs" transform="rotate(-90 20.40 240.00)"><tspan font-style="italic">KLF2</tspan> mRNA (qRT-PCR)</text>
<text x="195.00" y="182.30" font-size="8.58" text-anchor="middle" fill="#303030" stroke="#303030" stroke-width="0.1" textLength="20.81" lengthAdjust="spacingAndGlyphs">Hut78</text>
<line x1="169.70" y1="207.60" x2="169.70" y2="268.70" stroke="#2a2a2a" stroke-width="1"/>
<line x1="166.70" y1="207.58" x2="169.70" y2="207.58" stroke="#2a2a2a" stroke-width="0.9"/>
<text x="163.90" y="210.55" font-size="8.25" text-anchor="end" fill="#303030" stroke="#303030" stroke-width="0.1" textLength="12.51" lengthAdjust="spacingAndGlyphs">100</text>
<line x1="166.70" y1="219.88" x2="169.70" y2="219.88" stroke="#2a2a2a" stroke-width="0.9"/>
<text x="163.90" y="222.85" font-size="8.25" text-anchor="end" fill="#303030" stroke="#303030" stroke-width="0.1" textLength="8.34" lengthAdjust="spacingAndGlyphs">80</text>
<line x1="166.70" y1="232.19" x2="169.70" y2="232.19" stroke="#2a2a2a" stroke-width="0.9"/>
<text x="163.90" y="235.16" font-size="8.25" text-anchor="end" fill="#303030" stroke="#303030" stroke-width="0.1" textLength="8.34" lengthAdjust="spacingAndGlyphs">60</text>
<line x1="166.70" y1="244.49" x2="169.70" y2="244.49" stroke="#2a2a2a" stroke-width="0.9"/>
<text x="163.90" y="247.46" font-size="8.25" text-anchor="end" fill="#303030" stroke="#303030" stroke-width="0.1" textLength="8.34" lengthAdjust="spacingAndGlyphs">40</text>
<line x1="166.70" y1="256.80" x2="169.70" y2="256.80" stroke="#2a2a2a" stroke-width="0.9"/>
<text x="163.90" y="259.77" font-size="8.25" text-anchor="end" fill="#303030" stroke="#303030" stroke-width="0.1" textLength="8.34" lengthAdjust="spacingAndGlyphs">20</text>
<line x1="166.70" y1="269.10" x2="169.70" y2="269.10" stroke="#2a2a2a" stroke-width="0.9"/>
<text x="163.90" y="272.07" font-size="8.25" text-anchor="end" fill="#303030" stroke="#303030" stroke-width="0.1" textLength="4.17" lengthAdjust="spacingAndGlyphs">0</text>
<rect x="175.40" y="214.96" width="17.60" height="54.14" fill="#c52034"/>
<line x1="184.20" y1="214.96" x2="184.20" y2="210.66" stroke="#c52034" stroke-width="1"/>
<line x1="179.45" y1="210.66" x2="188.95" y2="210.66" stroke="#c52034" stroke-width="1"/>
<rect x="202.00" y="239.57" width="17.30" height="29.53" fill="#0c5283"/>
<line x1="210.65" y1="239.57" x2="210.65" y2="237.11" stroke="#0c5283" stroke-width="1"/>
<line x1="205.90" y1="237.11" x2="215.40" y2="237.11" stroke="#0c5283" stroke-width="1"/>
<line x1="169.70" y1="269.10" x2="226.00" y2="269.10" stroke="#2a2a2a" stroke-width="1"/>
<line x1="184.20" y1="269.10" x2="184.20" y2="272.00" stroke="#2a2a2a" stroke-width="0.9"/>
<line x1="210.65" y1="269.10" x2="210.65" y2="272.00" stroke="#2a2a2a" stroke-width="0.9"/>
<path d="M184.20,202.30 V197.20 H210.70 V231.10" fill="none" stroke="#8a8a8a" stroke-width="1.0"/>
<text x="196.90" y="197.30" font-size="9.13" text-anchor="middle" fill="#303030" stroke="#303030" stroke-width="0.1" textLength="9.69" lengthAdjust="spacingAndGlyphs">***</text>
<text x="185.30" y="281.00" font-size="8.25" text-anchor="middle" fill="#303030" stroke="#303030" stroke-width="0.1" textLength="23.00" lengthAdjust="spacingAndGlyphs">Vector</text>
<text x="211.90" y="281.00" font-size="8.25" text-anchor="middle" fill="#303030" stroke="#303030" stroke-width="0.1" textLength="17.00" lengthAdjust="spacingAndGlyphs">RF1b</text>
<text x="149.30" y="236.00" font-size="9.46" text-anchor="middle" fill="#303030" stroke="#303030" stroke-width="0.1" textLength="72.60" lengthAdjust="spacingAndGlyphs" transform="rotate(-90 149.30 236.00)"><tspan font-style="italic">KLF2</tspan> mRNA (qRT-PCR)</text>
<text x="284.40" y="177.30" font-size="8.58" text-anchor="middle" fill="#303030" stroke="#303030" stroke-width="0.1" textLength="20.81" lengthAdjust="spacingAndGlyphs">Hut78</text>
<line x1="270.00" y1="181.30" x2="298.30" y2="181.30" stroke="#555" stroke-width="0.8"/>
<text x="320.20" y="177.30" font-size="8.58" text-anchor="middle" fill="#303030" stroke="#303030" stroke-width="0.1" textLength="11.27" lengthAdjust="spacingAndGlyphs">HH</text>
<line x1="305.80" y1="181.30" x2="334.20" y2="181.30" stroke="#555" stroke-width="0.8"/>
<text x="256.00" y="192.80" font-size="8.25" fill="#303030" stroke="#303030" stroke-width="0.1" textLength="23.00" lengthAdjust="spacingAndGlyphs">Vector</text>
<text x="281.50" y="192.80" font-size="8.25" fill="#303030" stroke="#303030" stroke-width="0.1" textLength="17.30" lengthAdjust="spacingAndGlyphs">RF1b</text>
<text x="302.70" y="192.80" font-size="8.25" fill="#303030" stroke="#303030" stroke-width="0.1" textLength="13.30" lengthAdjust="spacingAndGlyphs">Ctrl</text>
<text x="318.80" y="192.80" font-size="8.25" fill="#303030" stroke="#303030" stroke-width="0.1" textLength="32.40" lengthAdjust="spacingAndGlyphs">shPEG10</text>
<rect x="266.60" y="195.20" width="71.80" height="40.80" fill="#e2e2e2"/>
<g clip-path="url(#cb1)">
<rect x="305.50" y="204.00" width="11.50" height="20.00" rx="5.75" fill="#cacaca" fill-opacity="0.8" filter="url(#bl2)"/>
<rect x="322.50" y="204.00" width="11.50" height="20.00" rx="5.75" fill="#cccccc" fill-opacity="0.8" filter="url(#bl2)"/>
<ellipse cx="311.00" cy="203.30" rx="5.75" ry="1.00" fill="#a8a8a8" fill-opacity="1" filter="url(#bl05)"/>
<ellipse cx="328.00" cy="203.20" rx="5.75" ry="1.00" fill="#b0b0b0" fill-opacity="1" filter="url(#bl05)"/>
<ellipse cx="294.00" cy="229.70" rx="7.00" ry="1.70" fill="#050505" fill-opacity="1" filter="url(#bl05)"/>
<ellipse cx="292.00" cy="229.90" rx="4.50" ry="1.80" fill="#000" fill-opacity="1" filter="url(#bl05)"/>
<ellipse cx="311.00" cy="225.50" rx="6.25" ry="1.30" fill="#101010" fill-opacity="1" filter="url(#bl05)"/>
<ellipse cx="311.00" cy="228.80" rx="6.25" ry="1.00" fill="#5a5a5a" fill-opacity="1" filter="url(#bl05)"/>
<ellipse cx="328.00" cy="224.30" rx="6.25" ry="1.30" fill="#2e2e2e" fill-opacity="1" filter="url(#bl05)"/>
<ellipse cx="328.00" cy="228.60" rx="6.00" ry="1.00" fill="#8a8a8a" fill-opacity="1" filter="url(#bl05)"/>
<ellipse cx="323.00" cy="230.50" rx="1.25" ry="1.00" fill="#f2f2f2" fill-opacity="1" filter="url(#bl05)"/>
</g>
<rect x="266.60" y="195.20" width="71.80" height="40.80" fill="none" stroke="#2a2a2a" stroke-width="1.1" rx="0.8"/>
<rect x="266.60" y="241.80" width="71.80" height="18.60" fill="#c8c8c8"/>
<g clip-path="url(#cb2)">
<rect x="266.60" y="241.80" width="71.80" height="2.20" fill="#bdbdbd"/>
<rect x="269.00" y="244.0" width="14.00" height="14.8" fill="#2e2e2e" filter="url(#bl1)"/>
<rect x="269.80" y="245.60" width="12.40" height="2.40" fill="#1a1a1a" filter="url(#bl1)"/>
<rect x="269.80" y="250.25" width="12.40" height="4.50" fill="#050505" filter="url(#bl1)"/>
<rect x="269.80" y="255.90" width="12.40" height="1.80" fill="#101010" filter="url(#bl1)"/>
<rect x="287.00" y="244.0" width="14.00" height="14.8" fill="#7e7e7e" filter="url(#bl1)"/>
<rect x="287.80" y="245.90" width="12.40" height="1.80" fill="#505050" filter="url(#bl1)"/>
<rect x="287.80" y="250.30" width="12.40" height="1.40" fill="#6a6a6a" filter="url(#bl1)"/>
<rect x="287.80" y="255.60" width="12.40" height="2.00" fill="#3a3a3a" filter="url(#bl1)"/>
<rect x="304.40" y="244.0" width="13.80" height="14.8" fill="#9a9a9a" filter="url(#bl1)"/>
<rect x="305.20" y="246.00" width="12.20" height="1.60" fill="#7a7a7a" filter="url(#bl1)"/>
<rect x="305.20" y="250.80" width="12.20" height="1.40" fill="#888" filter="url(#bl1)"/>
<rect x="305.20" y="255.70" width="12.20" height="1.80" fill="#6a6a6a" filter="url(#bl1)"/>
<rect x="321.50" y="244.0" width="13.30" height="14.8" fill="#6a6a6a" filter="url(#bl1)"/>
<rect x="322.30" y="245.00" width="11.70" height="2.40" fill="#2a2a2a" filter="url(#bl1)"/>
<rect x="322.30" y="250.30" width="11.70" height="1.40" fill="#505050" filter="url(#bl1)"/>
<rect x="322.30" y="255.60" width="11.70" height="2.00" fill="#2a2a2a" filter="url(#bl1)"/>
<ellipse cx="273.50" cy="252.00" rx="4.50" ry="3.00" fill="#000" fill-opacity="1" filter="url(#bl2)"/>
<ellipse cx="330.50" cy="246.00" rx="3.00" ry="1.30" fill="#000" fill-opacity="1" filter="url(#bl1)"/>
</g>
<rect x="266.60" y="241.80" width="71.80" height="18.60" fill="none" stroke="#2a2a2a" stroke-width="1.1" rx="0.8"/>
<rect x="266.60" y="266.40" width="71.80" height="15.80" fill="#dcdcdc"/>
<g clip-path="url(#cb3)">
<ellipse cx="275.50" cy="274.20" rx="7.00" ry="1.50" fill="#1a1a1a" fill-opacity="1" filter="url(#bl05)"/>
<ellipse cx="293.50" cy="274.20" rx="7.00" ry="1.50" fill="#1a1a1a" fill-opacity="1" filter="url(#bl05)"/>
<ellipse cx="311.20" cy="274.20" rx="7.00" ry="1.50" fill="#1a1a1a" fill-opacity="1" filter="url(#bl05)"/>
<ellipse cx="328.30" cy="274.20" rx="7.00" ry="1.50" fill="#1a1a1a" fill-opacity="1" filter="url(#bl05)"/>
</g>
<rect x="266.60" y="266.40" width="71.80" height="15.80" fill="none" stroke="#2a2a2a" stroke-width="1.1" rx="0.8"/>
<text x="237.70" y="206.20" font-size="8.25" fill="#303030" stroke="#303030" stroke-width="0.1" textLength="19.50" lengthAdjust="spacingAndGlyphs">RF1/2</text>
<line x1="258.00" y1="203.60" x2="264.50" y2="203.60" stroke="#333" stroke-width="0.8"/>
<path d="M265.8,203.6 L263.4,202.4 L263.4,204.8 Z" fill="#303030"/>
<text x="238.70" y="230.60" font-size="8.25" fill="#303030" stroke="#303030" stroke-width="0.1" textLength="17.00" lengthAdjust="spacingAndGlyphs">RF1b</text>
<line x1="258.00" y1="228.00" x2="264.50" y2="228.00" stroke="#333" stroke-width="0.8"/>
<path d="M265.8,228.0 L263.4,226.8 L263.4,229.2 Z" fill="#303030"/>
<text x="239.60" y="255.60" font-size="8.25" fill="#303030" stroke="#303030" stroke-width="0.1" textLength="17.00" lengthAdjust="spacingAndGlyphs">KLF2</text>
<line x1="258.00" y1="253.00" x2="264.50" y2="253.00" stroke="#333" stroke-width="0.8"/>
<path d="M265.8,253.0 L263.4,251.8 L263.4,254.2 Z" fill="#303030"/>
<text x="234.80" y="276.40" font-size="8.25" fill="#303030" stroke="#303030" stroke-width="0.1" textLength="23.50" lengthAdjust="spacingAndGlyphs">β-actin</text>
<line x1="258.50" y1="273.80" x2="264.50" y2="273.80" stroke="#333" stroke-width="0.8"/>
<path d="M265.8,273.8 L263.4,272.6 L263.4,275.0 Z" fill="#303030"/>
<line x1="339.00" y1="205.80" x2="342.50" y2="205.80" stroke="#333" stroke-width="0.8"/>
<text x="343.60" y="208.60" font-size="8.58" fill="#303030" stroke="#303030" stroke-width="0.1" textLength="26.80" lengthAdjust="spacingAndGlyphs">100kDa</text>
<line x1="339.00" y1="219.80" x2="342.50" y2="219.80" stroke="#333" stroke-width="0.8"/>
<text x="343.60" y="222.60" font-size="8.58" fill="#303030" stroke="#303030" stroke-width="0.1" textLength="23.00" lengthAdjust="spacingAndGlyphs">70kDa</text>
<line x1="339.00" y1="229.80" x2="342.50" y2="229.80" stroke="#333" stroke-width="0.8"/>
<text x="343.60" y="232.60" font-size="8.58" fill="#303030" stroke="#303030" stroke-width="0.1" textLength="23.00" lengthAdjust="spacingAndGlyphs">50kDa</text>
<line x1="339.00" y1="248.30" x2="342.50" y2="248.30" stroke="#333" stroke-width="0.8"/>
<text x="343.60" y="251.10" font-size="8.58" fill="#303030" stroke="#303030" stroke-width="0.1" textLength="23.00" lengthAdjust="spacingAndGlyphs">35kDa</text>
<line x1="339.00" y1="256.90" x2="342.50" y2="256.90" stroke="#333" stroke-width="0.8"/>
<text x="343.60" y="259.70" font-size="8.58" fill="#303030" stroke="#303030" stroke-width="0.1" textLength="23.00" lengthAdjust="spacingAndGlyphs">15kDa</text>
<line x1="339.00" y1="272.70" x2="342.50" y2="272.70" stroke="#333" stroke-width="0.8"/>
<text x="343.60" y="275.50" font-size="8.58" fill="#303030" stroke="#303030" stroke-width="0.1" textLength="23.00" lengthAdjust="spacingAndGlyphs">45kDa</text>
<text x="411.00" y="173.60" font-size="11.5" fill="#111" font-weight="bold">F</text>
<text x="418.20" y="182.50" font-size="8.36" fill="#303030" stroke="#303030" stroke-width="0.1" textLength="73.50" lengthAdjust="spacingAndGlyphs">Hut78/NF-kB activity</text>
<line x1="441.50" y1="197.10" x2="441.50" y2="271.80" stroke="#2a2a2a" stroke-width="1"/>
<line x1="438.50" y1="197.10" x2="441.50" y2="197.10" stroke="#2a2a2a" stroke-width="0.9"/>
<text x="435.60" y="200.31" font-size="8.91" text-anchor="end" fill="#303030" stroke="#303030" stroke-width="0.1" textLength="11.26" lengthAdjust="spacingAndGlyphs">2.0</text>
<line x1="438.50" y1="215.78" x2="441.50" y2="215.78" stroke="#2a2a2a" stroke-width="0.9"/>
<text x="435.60" y="218.98" font-size="8.91" text-anchor="end" fill="#303030" stroke="#303030" stroke-width="0.1" textLength="11.26" lengthAdjust="spacingAndGlyphs">1.5</text>
<line x1="438.50" y1="234.45" x2="441.50" y2="234.45" stroke="#2a2a2a" stroke-width="0.9"/>
<text x="435.60" y="237.66" font-size="8.91" text-anchor="end" fill="#303030" stroke="#303030" stroke-width="0.1" textLength="11.26" lengthAdjust="spacingAndGlyphs">1.0</text>
<line x1="438.50" y1="253.12" x2="441.50" y2="253.12" stroke="#2a2a2a" stroke-width="0.9"/>
<text x="435.60" y="256.33" font-size="8.91" text-anchor="end" fill="#303030" stroke="#303030" stroke-width="0.1" textLength="11.26" lengthAdjust="spacingAndGlyphs">0.5</text>
<line x1="438.50" y1="271.80" x2="441.50" y2="271.80" stroke="#2a2a2a" stroke-width="0.9"/>
<text x="435.60" y="275.01" font-size="8.91" text-anchor="end" fill="#303030" stroke="#303030" stroke-width="0.1" textLength="11.26" lengthAdjust="spacingAndGlyphs">0.0</text>
<rect x="450.90" y="234.45" width="13.90" height="37.35" fill="#c52034"/>
<line x1="457.85" y1="234.45" x2="457.85" y2="232.58" stroke="#c52034" stroke-width="1"/>
<line x1="453.85" y1="232.58" x2="461.85" y2="232.58" stroke="#c52034" stroke-width="1"/>
<rect x="472.90" y="216.52" width="14.80" height="55.28" fill="#0c5283"/>
<line x1="480.30" y1="216.52" x2="480.30" y2="208.31" stroke="#0c5283" stroke-width="1"/>
<line x1="476.30" y1="208.31" x2="484.30" y2="208.31" stroke="#0c5283" stroke-width="1"/>
<line x1="441.50" y1="271.80" x2="497.70" y2="271.80" stroke="#2a2a2a" stroke-width="1"/>
<line x1="457.85" y1="271.80" x2="457.85" y2="274.60" stroke="#2a2a2a" stroke-width="0.9"/>
<line x1="480.30" y1="271.80" x2="480.30" y2="274.60" stroke="#2a2a2a" stroke-width="0.9"/>
<path d="M458.00,225.50 V198.00 H480.20 V202.00" fill="none" stroke="#8a8a8a" stroke-width="1.0"/>
<text x="469.70" y="198.60" font-size="9.13" text-anchor="middle" fill="#303030" stroke="#303030" stroke-width="0.1" textLength="3.23" lengthAdjust="spacingAndGlyphs">*</text>
<text x="456.60" y="283.60" font-size="8.25" text-anchor="middle" fill="#303030" stroke="#303030" stroke-width="0.1" textLength="22.80" lengthAdjust="spacingAndGlyphs">Vector</text>
<text x="481.60" y="283.60" font-size="8.25" text-anchor="middle" fill="#303030" stroke="#303030" stroke-width="0.1" textLength="17.80" lengthAdjust="spacingAndGlyphs">RF1b</text>
<text x="418.60" y="235.00" font-size="9.13" text-anchor="middle" fill="#303030" stroke="#303030" stroke-width="0.1" textLength="84.80" lengthAdjust="spacingAndGlyphs" transform="rotate(-90 418.60 235.00)">Relative luciferase activity</text>
<text x="7.30" y="308.60" font-size="11.5" fill="#111" font-weight="bold">D</text>
<text x="90.25" y="314.60" font-size="8.69" text-anchor="middle" fill="#303030" stroke="#303030" stroke-width="0.1" textLength="44.10" lengthAdjust="spacingAndGlyphs">Hut78/Co-IP</text>
<text x="59.70" y="338.20" font-size="8.25" text-anchor="middle" fill="#303030" stroke="#303030" stroke-width="0.1" textLength="13.00" lengthAdjust="spacingAndGlyphs">Ctrl</text>
<line x1="35.50" y1="343.20" x2="84.80" y2="343.20" stroke="#555" stroke-width="0.8"/>
<text x="122.40" y="338.20" font-size="8.25" text-anchor="middle" fill="#303030" stroke="#303030" stroke-width="0.1" textLength="24.00" lengthAdjust="spacingAndGlyphs">shKLF2</text>
<line x1="93.50" y1="343.20" x2="141.40" y2="343.20" stroke="#555" stroke-width="0.8"/>
<text x="22.50" y="355.20" font-size="8.25" fill="#303030" stroke="#303030" stroke-width="0.1" textLength="18.70" lengthAdjust="spacingAndGlyphs">Input</text>
<text x="44.10" y="355.20" font-size="8.25" fill="#303030" stroke="#303030" stroke-width="0.1" textLength="26.90" lengthAdjust="spacingAndGlyphs">a-PCAF</text>
<text x="73.60" y="355.20" font-size="8.25" fill="#303030" stroke="#303030" stroke-width="0.1" textLength="12.90" lengthAdjust="spacingAndGlyphs">IgG</text>
<text x="88.70" y="355.20" font-size="8.25" fill="#303030" stroke="#303030" stroke-width="0.1" textLength="19.00" lengthAdjust="spacingAndGlyphs">Input</text>
<text x="109.80" y="355.20" font-size="8.25" fill="#303030" stroke="#303030" stroke-width="0.1" textLength="28.20" lengthAdjust="spacingAndGlyphs">a-PCAF</text>
<text x="138.00" y="355.20" font-size="8.25" fill="#303030" stroke="#303030" stroke-width="0.1" textLength="12.00" lengthAdjust="spacingAndGlyphs">IgG</text>
<rect x="31.10" y="362.00" width="118.50" height="14.40" fill="#d4d4d4"/>
<g clip-path="url(#db1)">
<rect x="49.50" y="362.00" width="3.00" height="14.40" fill="#e8e8e8" filter="url(#bl1)"/>
<rect x="69.30" y="362.00" width="3.00" height="14.40" fill="#e8e8e8" filter="url(#bl1)"/>
<rect x="89.00" y="362.00" width="3.00" height="14.40" fill="#e8e8e8" filter="url(#bl1)"/>
<rect x="108.70" y="362.00" width="3.00" height="14.40" fill="#e8e8e8" filter="url(#bl1)"/>
<rect x="128.40" y="362.00" width="3.00" height="14.40" fill="#e8e8e8" filter="url(#bl1)"/>
<rect x="131.00" y="362.00" width="18.60" height="14.40" fill="#e2e2e2"/>
<ellipse cx="41.00" cy="365.00" rx="7.50" ry="1.50" fill="#a0a0a0" fill-opacity="1" filter="url(#bl2)"/>
<ellipse cx="60.50" cy="367.50" rx="6.00" ry="2.00" fill="#777" fill-opacity="1" filter="url(#bl2)"/>
<ellipse cx="60.50" cy="373.00" rx="7.00" ry="2.75" fill="#111" fill-opacity="1" filter="url(#bl1)"/>
<ellipse cx="64.50" cy="372.00" rx="3.00" ry="2.00" fill="#000" fill-opacity="1" filter="url(#bl1)"/>
<ellipse cx="80.50" cy="369.00" rx="7.00" ry="3.00" fill="#c4c4c4" fill-opacity="1" filter="url(#bl2)"/>
<ellipse cx="100.00" cy="365.20" rx="7.00" ry="1.60" fill="#8a8a8a" fill-opacity="1" filter="url(#bl1)"/>
<ellipse cx="100.00" cy="371.50" rx="7.00" ry="1.70" fill="#666" fill-opacity="1" filter="url(#bl1)"/>
<ellipse cx="118.50" cy="370.60" rx="7.00" ry="1.70" fill="#181818" fill-opacity="1" filter="url(#bl1)"/>
<ellipse cx="121.50" cy="370.20" rx="3.00" ry="1.25" fill="#000" fill-opacity="1" filter="url(#bl05)"/>
</g>
<rect x="31.10" y="362.00" width="118.50" height="14.40" fill="none" stroke="#2a2a2a" stroke-width="1.1" rx="0.8"/>
<rect x="31.10" y="381.40" width="118.50" height="13.40" fill="#cdcdcd"/>
<g clip-path="url(#db2)">
<rect x="49.50" y="381.40" width="3.00" height="13.40" fill="#e2e2e2" filter="url(#bl1)"/>
<rect x="69.30" y="381.40" width="3.00" height="13.40" fill="#e2e2e2" filter="url(#bl1)"/>
<rect x="89.00" y="381.40" width="3.00" height="13.40" fill="#e2e2e2" filter="url(#bl1)"/>
<rect x="108.70" y="381.40" width="3.00" height="13.40" fill="#e2e2e2" filter="url(#bl1)"/>
<rect x="128.40" y="381.40" width="3.00" height="13.40" fill="#e2e2e2" filter="url(#bl1)"/>
<rect x="131.00" y="381.40" width="18.60" height="13.40" fill="#e0e0e0"/>
<ellipse cx="41.50" cy="387.40" rx="7.50" ry="4.00" fill="#000" fill-opacity="1" filter="url(#bl1)"/>
<ellipse cx="61.00" cy="388.00" rx="6.50" ry="2.25" fill="#a0a0a0" fill-opacity="1" filter="url(#bl2)"/>
<ellipse cx="80.50" cy="388.00" rx="7.00" ry="3.00" fill="#b8b8b8" fill-opacity="1" filter="url(#bl2)"/>
<rect x="92.20" y="383.20" width="15.00" height="9.80" rx="4.90" fill="#484848" fill-opacity="1" filter="url(#bl1)"/>
<ellipse cx="100.00" cy="390.00" rx="6.00" ry="2.00" fill="#333" fill-opacity="1" filter="url(#bl1)"/>
<ellipse cx="118.50" cy="388.00" rx="7.00" ry="3.00" fill="#a0a0a0" fill-opacity="1" filter="url(#bl2)"/>
</g>
<rect x="31.10" y="381.40" width="118.50" height="13.40" fill="none" stroke="#2a2a2a" stroke-width="1.1" rx="0.8"/>
<rect x="31.10" y="399.60" width="118.50" height="13.80" fill="#c4c4c4"/>
<g clip-path="url(#db3)">
<rect x="49.50" y="399.60" width="3.00" height="13.80" fill="#e4e4e4" filter="url(#bl1)"/>
<rect x="69.30" y="399.60" width="3.00" height="13.80" fill="#e4e4e4" filter="url(#bl1)"/>
<rect x="89.00" y="399.60" width="3.00" height="13.80" fill="#e4e4e4" filter="url(#bl1)"/>
<rect x="108.70" y="399.60" width="3.00" height="13.80" fill="#e4e4e4" filter="url(#bl1)"/>
<rect x="128.40" y="399.60" width="3.00" height="13.80" fill="#e4e4e4" filter="url(#bl1)"/>
<rect x="131.00" y="399.60" width="18.60" height="13.80" fill="#ececec"/>
<ellipse cx="41.20" cy="407.00" rx="7.00" ry="2.50" fill="#3a3a3a" fill-opacity="1" filter="url(#bl1)"/>
<ellipse cx="61.00" cy="404.00" rx="6.00" ry="2.00" fill="#333" fill-opacity="1" filter="url(#bl1)"/>
<ellipse cx="61.00" cy="407.30" rx="7.00" ry="3.25" fill="#050505" fill-opacity="1" filter="url(#bl1)"/>
<ellipse cx="80.50" cy="406.80" rx="7.00" ry="3.00" fill="#8e8e8e" fill-opacity="1" filter="url(#bl2)"/>
<ellipse cx="100.50" cy="406.60" rx="7.50" ry="2.50" fill="#222" fill-opacity="1" filter="url(#bl1)"/>
<ellipse cx="119.50" cy="406.80" rx="7.00" ry="2.75" fill="#555" fill-opacity="1" filter="url(#bl1)"/>
</g>
<rect x="31.10" y="399.60" width="118.50" height="13.80" fill="none" stroke="#2a2a2a" stroke-width="1.1" rx="0.8"/>
<text x="8.50" y="371.90" font-size="8.36" fill="#303030" stroke="#303030" stroke-width="0.1" textLength="20.00" lengthAdjust="spacingAndGlyphs">PCAF</text>
<text x="14.60" y="390.80" font-size="8.36" fill="#303030" stroke="#303030" stroke-width="0.1" textLength="13.90" lengthAdjust="spacingAndGlyphs">p65</text>
<text x="10.80" y="410.80" font-size="8.36" fill="#303030" stroke="#303030" stroke-width="0.1" textLength="17.70" lengthAdjust="spacingAndGlyphs">KLF2</text>
<text x="152.70" y="372.70" font-size="8.36" fill="#303030" stroke="#303030" stroke-width="0.1" textLength="23.50" lengthAdjust="spacingAndGlyphs">93kDa</text>
<text x="152.70" y="389.80" font-size="8.36" fill="#303030" stroke="#303030" stroke-width="0.1" textLength="23.50" lengthAdjust="spacingAndGlyphs">65kDa</text>
<text x="152.70" y="409.10" font-size="8.36" fill="#303030" stroke="#303030" stroke-width="0.1" textLength="23.50" lengthAdjust="spacingAndGlyphs">37kDa</text>
<text x="173.70" y="314.50" font-size="8.69" fill="#303030" stroke="#303030" stroke-width="0.1" textLength="140.90" lengthAdjust="spacingAndGlyphs">KLF2-mediated NF-kB activity inhibition</text>
<path d="M200.6,319.5 H303.5 A18,18 0 0 1 321.5,337.5 V410.8 A18,18 0 0 1 303.5,428.8 H200.6 A18,18 0 0 1 182.6,410.8 V337.5 A18,18 0 0 1 200.6,319.5 Z" fill="#deebf4" stroke="#555" stroke-width="0.9"/>
<line x1="252.10" y1="319.50" x2="252.10" y2="428.80" stroke="#333" stroke-width="1" stroke-dasharray="1.3,1.2"/>
<ellipse cx="201.50" cy="375.30" rx="5.50" ry="6.00" fill="#9a9a9a" stroke="#666" stroke-width="0.4"/>
<path d="M199.00,380.80 Q197.50,375.30 200.50,369.60" fill="none" stroke="#555" stroke-width="0.7"/>
<path d="M202.00,381.00 Q200.50,375.30 203.70,369.90" fill="none" stroke="#555" stroke-width="0.7"/>
<ellipse cx="230.00" cy="375.30" rx="5.50" ry="6.00" fill="#9a9a9a" stroke="#666" stroke-width="0.4"/>
<path d="M227.50,380.80 Q226.00,375.30 229.00,369.60" fill="none" stroke="#555" stroke-width="0.7"/>
<path d="M230.50,381.00 Q229.00,375.30 232.20,369.90" fill="none" stroke="#555" stroke-width="0.7"/>
<path d="M188.6,380 Q200,378.5 212,380.5 T242.5,380" fill="none" stroke="#555" stroke-width="0.6"/>
<rect x="206.20" y="371.20" width="17.80" height="8.40" fill="#c8e3b8" stroke="#9fc48c" stroke-width="0.6" rx="4.20"/>
<text x="215.10" y="377.99" font-size="7.92" text-anchor="middle" fill="#333" stroke="#333" stroke-width="0.1" textLength="12.00" lengthAdjust="spacingAndGlyphs">p65</text>
<rect x="195.00" y="361.30" width="20.30" height="8.30" fill="#fbe08c" stroke="#e3c35f" stroke-width="0.6" rx="4.15"/>
<text x="205.15" y="368.04" font-size="7.92" text-anchor="middle" fill="#333" stroke="#333" stroke-width="0.1" textLength="16.50" lengthAdjust="spacingAndGlyphs">PCAF</text>
<rect x="214.00" y="361.30" width="20.20" height="8.30" fill="#fbe08c" stroke="#e3c35f" stroke-width="0.6" rx="4.15"/>
<text x="224.10" y="368.04" font-size="7.92" text-anchor="middle" fill="#333" stroke="#333" stroke-width="0.1" textLength="16.50" lengthAdjust="spacingAndGlyphs">p300</text>
<path d="M237.6,380 V365.2 H246" fill="none" stroke="#111" stroke-width="1.1"/>
<path d="M249,365.2 L245.2,363.2 L245.2,367.2 Z" fill="#111"/>
<line x1="215.80" y1="385.70" x2="215.80" y2="395.50" stroke="#111" stroke-width="0.9"/>
<path d="M215.8,398 L213.8,394.4 L217.8,394.4 Z" fill="#111"/>
<rect x="192.80" y="400.30" width="47.50" height="10.80" fill="#f6b98f" stroke="#c9885a" stroke-width="0.6"/>
<text x="216.50" y="408.40" font-size="7.92" text-anchor="middle" fill="#303030" stroke="#303030" stroke-width="0.1" textLength="44.00" lengthAdjust="spacingAndGlyphs">NF-kB activity</text>
<path d="M243,412 V404.5 H241 L244.3,399.6 L247.6,404.5 H245.6 V412 Z" fill="#ef8a2a"/>
<ellipse cx="263.00" cy="374.30" rx="5.60" ry="6.60" fill="#9a9a9a" stroke="#666" stroke-width="0.4"/>
<path d="M260.50,380.40 Q259.00,374.30 262.00,368.00" fill="none" stroke="#555" stroke-width="0.7"/>
<path d="M263.50,380.60 Q262.00,374.30 265.20,368.30" fill="none" stroke="#555" stroke-width="0.7"/>
<ellipse cx="274.50" cy="374.30" rx="5.60" ry="6.60" fill="#9a9a9a" stroke="#666" stroke-width="0.4"/>
<path d="M272.00,380.40 Q270.50,374.30 273.50,368.00" fill="none" stroke="#555" stroke-width="0.7"/>
<path d="M275.00,380.60 Q273.50,374.30 276.70,368.30" fill="none" stroke="#555" stroke-width="0.7"/>
<ellipse cx="286.00" cy="374.30" rx="5.60" ry="6.60" fill="#9a9a9a" stroke="#666" stroke-width="0.4"/>
<path d="M283.50,380.40 Q282.00,374.30 285.00,368.00" fill="none" stroke="#555" stroke-width="0.7"/>
<path d="M286.50,380.60 Q285.00,374.30 288.20,368.30" fill="none" stroke="#555" stroke-width="0.7"/>
<ellipse cx="297.50" cy="374.30" rx="5.60" ry="6.60" fill="#9a9a9a" stroke="#666" stroke-width="0.4"/>
<path d="M295.00,380.40 Q293.50,374.30 296.50,368.00" fill="none" stroke="#555" stroke-width="0.7"/>
<path d="M298.00,380.60 Q296.50,374.30 299.70,368.30" fill="none" stroke="#555" stroke-width="0.7"/>
<path d="M256,381 Q270,379 283,381.2 T301,380.5" fill="none" stroke="#555" stroke-width="0.6"/>
<rect x="270.00" y="333.10" width="22.60" height="7.50" fill="#5a97d2" stroke="#3f73a8" stroke-width="0.6" rx="3.75"/>
<text x="281.30" y="339.44" font-size="7.92" text-anchor="middle" fill="#1a2a3a" stroke="#1a2a3a" stroke-width="0.1" textLength="17.00" lengthAdjust="spacingAndGlyphs">KLF2</text>
<rect x="261.20" y="341.50" width="19.90" height="8.80" fill="#fbe08c" stroke="#e3c35f" stroke-width="0.6" rx="4.40"/>
<text x="271.15" y="348.49" font-size="7.92" text-anchor="middle" fill="#333" stroke="#333" stroke-width="0.1" textLength="16.50" lengthAdjust="spacingAndGlyphs">PCAF</text>
<rect x="280.40" y="341.50" width="18.90" height="8.80" fill="#fbe08c" stroke="#e3c35f" stroke-width="0.6" rx="4.40"/>
<text x="289.85" y="348.49" font-size="7.92" text-anchor="middle" fill="#333" stroke="#333" stroke-width="0.1" textLength="16.50" lengthAdjust="spacingAndGlyphs">p300</text>
<rect x="271.40" y="356.30" width="17.00" height="8.00" fill="#c8e3b8" stroke="#9fc48c" stroke-width="0.6" rx="4.00"/>
<text x="279.90" y="362.89" font-size="7.92" text-anchor="middle" fill="#333" stroke="#333" stroke-width="0.1" textLength="12.00" lengthAdjust="spacingAndGlyphs">p65</text>
<path d="M302.2,376 V365.8 H310" fill="none" stroke="#111" stroke-width="1.1"/>
<path d="M313,365.8 L309.2,363.8 L309.2,367.8 Z" fill="#111"/>
<path d="M302.8,358 L308.6,363.6 M308.6,358 L302.8,363.6" fill="none" stroke="#e8202a" stroke-width="1.6"/>
<line x1="282.20" y1="385.70" x2="282.20" y2="395.50" stroke="#111" stroke-width="0.9"/>
<path d="M282.2,398 L280.2,394.4 L284.2,394.4 Z" fill="#111"/>
<rect x="260.00" y="400.50" width="47.60" height="10.20" fill="#a7d08c" stroke="#6f9c57" stroke-width="0.6"/>
<text x="283.80" y="408.40" font-size="7.92" text-anchor="middle" fill="#303030" stroke="#303030" stroke-width="0.1" textLength="44.00" lengthAdjust="spacingAndGlyphs">NF-kB activity</text>
<path d="M310.5,400 V407 H308.6 L311.8,412 L315,407 H313.1 V400 Z" fill="#3f8a3a"/>
<text x="337.60" y="308.60" font-size="11.5" fill="#111" font-weight="bold">G</text>
<text x="399.40" y="314.20" font-size="8.36" fill="#303030" stroke="#303030" stroke-width="0.1" textLength="68.70" lengthAdjust="spacingAndGlyphs">HH/mice xenograft</text>
<line x1="374.60" y1="328.10" x2="374.60" y2="411.50" stroke="#2a2a2a" stroke-width="1"/>
<line x1="371.60" y1="328.30" x2="374.60" y2="328.30" stroke="#2a2a2a" stroke-width="0.9"/>
<text x="369.90" y="331.43" font-size="8.69" text-anchor="end" fill="#303030" stroke="#303030" stroke-width="0.1" textLength="17.57" lengthAdjust="spacingAndGlyphs">2000</text>
<line x1="371.60" y1="349.10" x2="374.60" y2="349.10" stroke="#2a2a2a" stroke-width="0.9"/>
<text x="369.90" y="352.23" font-size="8.69" text-anchor="end" fill="#303030" stroke="#303030" stroke-width="0.1" textLength="17.57" lengthAdjust="spacingAndGlyphs">1500</text>
<line x1="371.60" y1="369.90" x2="374.60" y2="369.90" stroke="#2a2a2a" stroke-width="0.9"/>
<text x="369.90" y="373.03" font-size="8.69" text-anchor="end" fill="#303030" stroke="#303030" stroke-width="0.1" textLength="17.57" lengthAdjust="spacingAndGlyphs">1000</text>
<line x1="371.60" y1="390.70" x2="374.60" y2="390.70" stroke="#2a2a2a" stroke-width="0.9"/>
<text x="369.90" y="393.83" font-size="8.69" text-anchor="end" fill="#303030" stroke="#303030" stroke-width="0.1" textLength="13.18" lengthAdjust="spacingAndGlyphs">500</text>
<line x1="371.60" y1="411.50" x2="374.60" y2="411.50" stroke="#2a2a2a" stroke-width="0.9"/>
<text x="369.90" y="414.63" font-size="8.69" text-anchor="end" fill="#303030" stroke="#303030" stroke-width="0.1" textLength="4.39" lengthAdjust="spacingAndGlyphs">0</text>
<line x1="374.60" y1="411.50" x2="500.80" y2="411.50" stroke="#2a2a2a" stroke-width="1"/>
<line x1="374.60" y1="411.50" x2="374.60" y2="414.30" stroke="#2a2a2a" stroke-width="0.9"/>
<text x="374.60" y="422.60" font-size="9.02" text-anchor="middle" fill="#303030" stroke="#303030" stroke-width="0.1" textLength="9.12" lengthAdjust="spacingAndGlyphs">20</text>
<line x1="406.00" y1="411.50" x2="406.00" y2="414.30" stroke="#2a2a2a" stroke-width="0.9"/>
<text x="406.00" y="422.60" font-size="9.02" text-anchor="middle" fill="#303030" stroke="#303030" stroke-width="0.1" textLength="9.12" lengthAdjust="spacingAndGlyphs">25</text>
<line x1="437.40" y1="411.50" x2="437.40" y2="414.30" stroke="#2a2a2a" stroke-width="0.9"/>
<text x="437.40" y="422.60" font-size="9.02" text-anchor="middle" fill="#303030" stroke="#303030" stroke-width="0.1" textLength="9.12" lengthAdjust="spacingAndGlyphs">30</text>
<line x1="468.80" y1="411.50" x2="468.80" y2="414.30" stroke="#2a2a2a" stroke-width="0.9"/>
<text x="468.80" y="422.60" font-size="9.02" text-anchor="middle" fill="#303030" stroke="#303030" stroke-width="0.1" textLength="9.12" lengthAdjust="spacingAndGlyphs">35</text>
<line x1="500.20" y1="411.50" x2="500.20" y2="414.30" stroke="#2a2a2a" stroke-width="0.9"/>
<text x="500.20" y="422.60" font-size="9.02" text-anchor="middle" fill="#303030" stroke="#303030" stroke-width="0.1" textLength="9.12" lengthAdjust="spacingAndGlyphs">40</text>
<text x="437.50" y="431.80" font-size="9.02" text-anchor="middle" fill="#303030" stroke="#303030" stroke-width="0.1" textLength="71.60" lengthAdjust="spacingAndGlyphs">Days after inoculation</text>
<text x="349.20" y="369.40" font-size="8.58" text-anchor="middle" fill="#303030" stroke="#303030" stroke-width="0.1" textLength="71.50" lengthAdjust="spacingAndGlyphs" transform="rotate(-90 349.20 369.40)">Tumor volume (mm<tspan font-size="5" dy="-2.5">3</tspan><tspan dy="2.5">)</tspan></text>
<line x1="449.96" y1="408.17" x2="449.96" y2="402.35" stroke="#5a8fc0" stroke-width="0.9"/>
<line x1="447.16" y1="402.35" x2="452.76" y2="402.35" stroke="#5a8fc0" stroke-width="0.9"/>
<line x1="468.80" y1="401.10" x2="468.80" y2="392.78" stroke="#5a8fc0" stroke-width="0.9"/>
<line x1="466.00" y1="392.78" x2="471.60" y2="392.78" stroke="#5a8fc0" stroke-width="0.9"/>
<line x1="493.92" y1="371.98" x2="493.92" y2="348.27" stroke="#5a8fc0" stroke-width="0.9"/>
<line x1="491.12" y1="348.27" x2="496.72" y2="348.27" stroke="#5a8fc0" stroke-width="0.9"/>
<line x1="493.92" y1="406.51" x2="493.92" y2="400.68" stroke="#e07080" stroke-width="0.9"/>
<line x1="491.12" y1="400.68" x2="496.72" y2="400.68" stroke="#e07080" stroke-width="0.9"/>
<path d="M374.60,411.25 L424.84,410.25 L449.96,408.17 L468.80,401.10 L493.92,371.98" fill="none" stroke="#0c5283" stroke-width="1.2"/>
<path d="M374.60,411.17 L424.84,411.50 L449.96,411.50 L468.80,411.50 L493.92,406.51" fill="none" stroke="#c52034" stroke-width="1.2"/>
<rect x="422.54" y="407.95" width="4.60" height="4.60" fill="#0c5283"/>
<rect x="447.66" y="405.87" width="4.60" height="4.60" fill="#0c5283"/>
<rect x="466.50" y="398.80" width="4.60" height="4.60" fill="#0c5283"/>
<rect x="491.62" y="369.68" width="4.60" height="4.60" fill="#0c5283"/>
<circle cx="424.84" cy="411.50" r="2.40" fill="#c52034"/>
<circle cx="449.96" cy="411.50" r="2.40" fill="#c52034"/>
<circle cx="468.80" cy="411.50" r="2.40" fill="#c52034"/>
<circle cx="493.92" cy="406.51" r="2.40" fill="#c52034"/>
<path d="M500.4,370.8 H504 V407.3 H500.4" fill="none" stroke="#777" stroke-width="0.8"/>
<text x="510.20" y="393.30" font-size="9.13" text-anchor="middle" fill="#303030" stroke="#303030" stroke-width="0.1" textLength="6.46" lengthAdjust="spacingAndGlyphs">**</text>
<line x1="379.40" y1="329.40" x2="391.00" y2="329.40" stroke="#c52034" stroke-width="1.2"/>
<circle cx="385.20" cy="329.40" r="2.30" fill="#c52034"/>
<text x="393.50" y="332.10" font-size="8.36" fill="#303030" stroke="#303030" stroke-width="0.1" textLength="29.50" lengthAdjust="spacingAndGlyphs">shPEG10</text>
<line x1="379.40" y1="339.60" x2="391.00" y2="339.60" stroke="#0c5283" stroke-width="1.2"/>
<rect x="383.00" y="337.40" width="4.40" height="4.40" fill="#0c5283"/>
<text x="393.50" y="342.30" font-size="8.36" fill="#303030" stroke="#303030" stroke-width="0.1" textLength="58.00" lengthAdjust="spacingAndGlyphs">shPEG10+shKLF2</text>
<text x="7.30" y="461.30" font-size="11.5" fill="#111" font-weight="bold">H</text>
<text x="33.50" y="467.70" font-size="9.9" fill="#303030" stroke="#303030" stroke-width="0.1" textLength="64.10" lengthAdjust="spacingAndGlyphs">HH/SAHA 1μM</text>
<line x1="31.50" y1="484.80" x2="31.50" y2="557.10" stroke="#2a2a2a" stroke-width="1"/>
<line x1="28.50" y1="484.80" x2="31.50" y2="484.80" stroke="#2a2a2a" stroke-width="0.9"/>
<text x="26.40" y="487.97" font-size="8.8" text-anchor="end" fill="#303030" stroke="#303030" stroke-width="0.1" textLength="8.90" lengthAdjust="spacingAndGlyphs">50</text>
<line x1="28.50" y1="499.26" x2="31.50" y2="499.26" stroke="#2a2a2a" stroke-width="0.9"/>
<text x="26.40" y="502.43" font-size="8.8" text-anchor="end" fill="#303030" stroke="#303030" stroke-width="0.1" textLength="8.90" lengthAdjust="spacingAndGlyphs">40</text>
<line x1="28.50" y1="513.72" x2="31.50" y2="513.72" stroke="#2a2a2a" stroke-width="0.9"/>
<text x="26.40" y="516.89" font-size="8.8" text-anchor="end" fill="#303030" stroke="#303030" stroke-width="0.1" textLength="8.90" lengthAdjust="spacingAndGlyphs">30</text>
<line x1="28.50" y1="528.18" x2="31.50" y2="528.18" stroke="#2a2a2a" stroke-width="0.9"/>
<text x="26.40" y="531.35" font-size="8.8" text-anchor="end" fill="#303030" stroke="#303030" stroke-width="0.1" textLength="8.90" lengthAdjust="spacingAndGlyphs">20</text>
<line x1="28.50" y1="542.64" x2="31.50" y2="542.64" stroke="#2a2a2a" stroke-width="0.9"/>
<text x="26.40" y="545.81" font-size="8.8" text-anchor="end" fill="#303030" stroke="#303030" stroke-width="0.1" textLength="8.90" lengthAdjust="spacingAndGlyphs">10</text>
<line x1="28.50" y1="557.10" x2="31.50" y2="557.10" stroke="#2a2a2a" stroke-width="0.9"/>
<text x="26.40" y="560.27" font-size="8.8" text-anchor="end" fill="#303030" stroke="#303030" stroke-width="0.1" textLength="4.45" lengthAdjust="spacingAndGlyphs">0</text>
<rect x="35.20" y="521.10" width="15.20" height="36.00" fill="#c52034"/>
<line x1="42.80" y1="521.10" x2="42.80" y2="519.20" stroke="#c52034" stroke-width="1"/>
<line x1="39.05" y1="519.20" x2="46.55" y2="519.20" stroke="#c52034" stroke-width="1"/>
<rect x="58.00" y="507.80" width="15.00" height="49.30" fill="#0c5283"/>
<line x1="65.50" y1="507.80" x2="65.50" y2="506.80" stroke="#0c5283" stroke-width="1"/>
<line x1="61.75" y1="506.80" x2="69.25" y2="506.80" stroke="#0c5283" stroke-width="1"/>
<rect x="80.60" y="515.80" width="15.20" height="41.30" fill="#38b34c"/>
<line x1="88.20" y1="515.80" x2="88.20" y2="510.00" stroke="#38b34c" stroke-width="1"/>
<line x1="84.45" y1="510.00" x2="91.95" y2="510.00" stroke="#38b34c" stroke-width="1"/>
<line x1="31.50" y1="557.10" x2="99.00" y2="557.10" stroke="#2a2a2a" stroke-width="1"/>
<line x1="42.40" y1="557.10" x2="42.40" y2="560.00" stroke="#2a2a2a" stroke-width="0.9"/>
<line x1="65.30" y1="557.10" x2="65.30" y2="560.00" stroke="#2a2a2a" stroke-width="0.9"/>
<line x1="88.10" y1="557.10" x2="88.10" y2="560.00" stroke="#2a2a2a" stroke-width="0.9"/>
<line x1="41.70" y1="499.90" x2="64.30" y2="499.90" stroke="#555" stroke-width="1.1"/>
<text x="53.00" y="499.90" font-size="9.13" text-anchor="middle" fill="#303030" stroke="#303030" stroke-width="0.1" textLength="6.46" lengthAdjust="spacingAndGlyphs">**</text>
<line x1="41.70" y1="489.70" x2="86.00" y2="489.70" stroke="#555" stroke-width="1.1"/>
<text x="63.30" y="488.00" font-size="8.25" text-anchor="middle" fill="#303030" stroke="#303030" stroke-width="0.1" textLength="7.92" lengthAdjust="spacingAndGlyphs">ns</text>
<text x="13.70" y="520.60" font-size="9.02" text-anchor="middle" fill="#303030" stroke="#303030" stroke-width="0.1" textLength="71.90" lengthAdjust="spacingAndGlyphs" transform="rotate(-90 13.70 520.60)">Specific apoptosis (%)</text>
<text x="31.90" y="574.50" font-size="8.36" text-anchor="end" fill="#303030" stroke="#303030" stroke-width="0.1" textLength="12.70" lengthAdjust="spacingAndGlyphs">Ctrl</text>
<text x="42.90" y="574.50" font-size="8.36" text-anchor="middle" fill="#303030" stroke="#303030" stroke-width="0.1" textLength="4.44" lengthAdjust="spacingAndGlyphs">+</text>
<text x="65.40" y="574.50" font-size="8.36" text-anchor="middle" fill="#303030" stroke="#303030" stroke-width="0.1" textLength="4.44" lengthAdjust="spacingAndGlyphs">−</text>
<text x="88.00" y="574.50" font-size="8.36" text-anchor="middle" fill="#303030" stroke="#303030" stroke-width="0.1" textLength="4.44" lengthAdjust="spacingAndGlyphs">−</text>
<text x="37.50" y="586.00" font-size="8.36" text-anchor="end" fill="#303030" stroke="#303030" stroke-width="0.1" textLength="31.70" lengthAdjust="spacingAndGlyphs">shPEG10</text>
<text x="42.90" y="586.00" font-size="8.36" text-anchor="middle" fill="#303030" stroke="#303030" stroke-width="0.1" textLength="4.44" lengthAdjust="spacingAndGlyphs">−</text>
<text x="65.40" y="586.00" font-size="8.36" text-anchor="middle" fill="#303030" stroke="#303030" stroke-width="0.1" textLength="4.44" lengthAdjust="spacingAndGlyphs">+</text>
<text x="88.00" y="586.00" font-size="8.36" text-anchor="middle" fill="#303030" stroke="#303030" stroke-width="0.1" textLength="4.44" lengthAdjust="spacingAndGlyphs">+</text>
<text x="36.00" y="597.60" font-size="8.36" text-anchor="end" fill="#303030" stroke="#303030" stroke-width="0.1" textLength="25.20" lengthAdjust="spacingAndGlyphs">shKLF2</text>
<text x="42.90" y="597.60" font-size="8.36" text-anchor="middle" fill="#303030" stroke="#303030" stroke-width="0.1" textLength="4.44" lengthAdjust="spacingAndGlyphs">−</text>
<text x="65.40" y="597.60" font-size="8.36" text-anchor="middle" fill="#303030" stroke="#303030" stroke-width="0.1" textLength="4.44" lengthAdjust="spacingAndGlyphs">−</text>
<text x="88.00" y="597.60" font-size="8.36" text-anchor="middle" fill="#303030" stroke="#303030" stroke-width="0.1" textLength="4.44" lengthAdjust="spacingAndGlyphs">+</text>
<text x="109.30" y="460.90" font-size="11.5" fill="#111" font-weight="bold">I</text>
<text x="117.50" y="467.70" font-size="9.9" fill="#303030" stroke="#303030" stroke-width="0.1" textLength="98.50" lengthAdjust="spacingAndGlyphs">HH/Bortezomib12.5nM</text>
<line x1="134.40" y1="481.70" x2="134.40" y2="557.10" stroke="#2a2a2a" stroke-width="1"/>
<line x1="131.40" y1="481.70" x2="134.40" y2="481.70" stroke="#2a2a2a" stroke-width="0.9"/>
<text x="128.60" y="484.87" font-size="8.8" text-anchor="end" fill="#303030" stroke="#303030" stroke-width="0.1" textLength="8.90" lengthAdjust="spacingAndGlyphs">80</text>
<line x1="131.40" y1="500.55" x2="134.40" y2="500.55" stroke="#2a2a2a" stroke-width="0.9"/>
<text x="128.60" y="503.72" font-size="8.8" text-anchor="end" fill="#303030" stroke="#303030" stroke-width="0.1" textLength="8.90" lengthAdjust="spacingAndGlyphs">60</text>
<line x1="131.40" y1="519.40" x2="134.40" y2="519.40" stroke="#2a2a2a" stroke-width="0.9"/>
<text x="128.60" y="522.57" font-size="8.8" text-anchor="end" fill="#303030" stroke="#303030" stroke-width="0.1" textLength="8.90" lengthAdjust="spacingAndGlyphs">40</text>
<line x1="131.40" y1="538.25" x2="134.40" y2="538.25" stroke="#2a2a2a" stroke-width="0.9"/>
<text x="128.60" y="541.42" font-size="8.8" text-anchor="end" fill="#303030" stroke="#303030" stroke-width="0.1" textLength="8.90" lengthAdjust="spacingAndGlyphs">20</text>
<line x1="131.40" y1="557.10" x2="134.40" y2="557.10" stroke="#2a2a2a" stroke-width="0.9"/>
<text x="128.60" y="560.27" font-size="8.8" text-anchor="end" fill="#303030" stroke="#303030" stroke-width="0.1" textLength="4.45" lengthAdjust="spacingAndGlyphs">0</text>
<rect x="138.20" y="533.10" width="14.00" height="24.00" fill="#c52034"/>
<line x1="145.20" y1="533.10" x2="145.20" y2="531.30" stroke="#c52034" stroke-width="1"/>
<line x1="141.45" y1="531.30" x2="148.95" y2="531.30" stroke="#c52034" stroke-width="1"/>
<rect x="160.10" y="508.30" width="14.40" height="48.80" fill="#0c5283"/>
<line x1="167.30" y1="508.30" x2="167.30" y2="501.70" stroke="#0c5283" stroke-width="1"/>
<line x1="163.55" y1="501.70" x2="171.05" y2="501.70" stroke="#0c5283" stroke-width="1"/>
<rect x="181.90" y="514.30" width="14.10" height="42.80" fill="#38b34c"/>
<line x1="188.95" y1="514.30" x2="188.95" y2="507.30" stroke="#38b34c" stroke-width="1"/>
<line x1="185.20" y1="507.30" x2="192.70" y2="507.30" stroke="#38b34c" stroke-width="1"/>
<line x1="134.40" y1="557.10" x2="199.50" y2="557.10" stroke="#2a2a2a" stroke-width="1"/>
<line x1="145.20" y1="557.10" x2="145.20" y2="560.00" stroke="#2a2a2a" stroke-width="0.9"/>
<line x1="167.30" y1="557.10" x2="167.30" y2="560.00" stroke="#2a2a2a" stroke-width="0.9"/>
<line x1="189.00" y1="557.10" x2="189.00" y2="560.00" stroke="#2a2a2a" stroke-width="0.9"/>
<line x1="144.40" y1="497.50" x2="167.10" y2="497.50" stroke="#555" stroke-width="1.1"/>
<text x="156.70" y="497.80" font-size="9.13" text-anchor="middle" fill="#303030" stroke="#303030" stroke-width="0.1" textLength="6.46" lengthAdjust="spacingAndGlyphs">**</text>
<line x1="144.40" y1="486.30" x2="187.80" y2="486.30" stroke="#555" stroke-width="1.1"/>
<text x="167.00" y="486.70" font-size="9.13" text-anchor="middle" fill="#303030" stroke="#303030" stroke-width="0.1" textLength="6.46" lengthAdjust="spacingAndGlyphs">**</text>
<text x="114.80" y="518.40" font-size="9.02" text-anchor="middle" fill="#303030" stroke="#303030" stroke-width="0.1" textLength="68.70" lengthAdjust="spacingAndGlyphs" transform="rotate(-90 114.80 518.40)">Specific apoptosis (%)</text>
<text x="134.20" y="575.70" font-size="8.36" text-anchor="end" fill="#303030" stroke="#303030" stroke-width="0.1" textLength="13.00" lengthAdjust="spacingAndGlyphs">Ctrl</text>
<text x="145.20" y="575.70" font-size="8.36" text-anchor="middle" fill="#303030" stroke="#303030" stroke-width="0.1" textLength="4.44" lengthAdjust="spacingAndGlyphs">+</text>
<text x="167.30" y="575.70" font-size="8.36" text-anchor="middle" fill="#303030" stroke="#303030" stroke-width="0.1" textLength="4.44" lengthAdjust="spacingAndGlyphs">−</text>
<text x="189.40" y="575.70" font-size="8.36" text-anchor="middle" fill="#303030" stroke="#303030" stroke-width="0.1" textLength="4.44" lengthAdjust="spacingAndGlyphs">−</text>
<text x="140.00" y="586.60" font-size="8.36" text-anchor="end" fill="#303030" stroke="#303030" stroke-width="0.1" textLength="32.00" lengthAdjust="spacingAndGlyphs">shPEG10</text>
<text x="145.20" y="586.60" font-size="8.36" text-anchor="middle" fill="#303030" stroke="#303030" stroke-width="0.1" textLength="4.44" lengthAdjust="spacingAndGlyphs">−</text>
<text x="167.30" y="586.60" font-size="8.36" text-anchor="middle" fill="#303030" stroke="#303030" stroke-width="0.1" textLength="4.44" lengthAdjust="spacingAndGlyphs">+</text>
<text x="189.40" y="586.60" font-size="8.36" text-anchor="middle" fill="#303030" stroke="#303030" stroke-width="0.1" textLength="4.44" lengthAdjust="spacingAndGlyphs">+</text>
<text x="137.50" y="598.60" font-size="8.36" text-anchor="end" fill="#303030" stroke="#303030" stroke-width="0.1" textLength="25.00" lengthAdjust="spacingAndGlyphs">shKLF2</text>
<text x="145.20" y="598.60" font-size="8.36" text-anchor="middle" fill="#303030" stroke="#303030" stroke-width="0.1" textLength="4.44" lengthAdjust="spacingAndGlyphs">−</text>
<text x="167.30" y="598.60" font-size="8.36" text-anchor="middle" fill="#303030" stroke="#303030" stroke-width="0.1" textLength="4.44" lengthAdjust="spacingAndGlyphs">−</text>
<text x="189.40" y="598.60" font-size="8.36" text-anchor="middle" fill="#303030" stroke="#303030" stroke-width="0.1" textLength="4.44" lengthAdjust="spacingAndGlyphs">+</text>
<text x="228.40" y="460.90" font-size="11.5" fill="#111" font-weight="bold">J</text>
<text x="271.80" y="468.00" font-size="9.9" fill="#303030" stroke="#303030" stroke-width="0.1" textLength="68.70" lengthAdjust="spacingAndGlyphs">Hut78-RF1b/RIP</text>
<rect x="235.20" y="486.50" width="59.20" height="81.10" fill="url(#gelg)"/>
<g clip-path="url(#gelc)">
<rect x="238.00" y="488.00" width="12.00" height="78.00" rx="6.00" fill="#4c4c4c" fill-opacity="0.9" filter="url(#bl2)"/>
<ellipse cx="286.00" cy="560.00" rx="18.00" ry="14.00" fill="url(#gelv)"/>
<rect x="235.20" y="486.50" width="59.20" height="81.10" fill="none" stroke="#222" stroke-width="1.6" filter="url(#bl1)"/>
<ellipse cx="244.00" cy="497.00" rx="4.25" ry="0.95" fill="#ffffff" fill-opacity="1" filter="url(#bl05)"/>
<ellipse cx="244.00" cy="506.00" rx="4.25" ry="0.95" fill="#ffffff" fill-opacity="0.95" filter="url(#bl05)"/>
<ellipse cx="244.00" cy="508.10" rx="4.25" ry="0.95" fill="#ffffff" fill-opacity="0.9" filter="url(#bl05)"/>
<ellipse cx="244.00" cy="510.20" rx="4.25" ry="0.95" fill="#ffffff" fill-opacity="0.9" filter="url(#bl05)"/>
<ellipse cx="244.00" cy="512.30" rx="4.25" ry="0.95" fill="#ffffff" fill-opacity="0.95" filter="url(#bl05)"/>
<ellipse cx="244.00" cy="514.90" rx="4.25" ry="0.95" fill="#ffffff" fill-opacity="0.95" filter="url(#bl05)"/>
<ellipse cx="244.00" cy="518.40" rx="4.25" ry="0.95" fill="#ffffff" fill-opacity="0.95" filter="url(#bl05)"/>
<ellipse cx="244.00" cy="524.10" rx="4.25" ry="0.95" fill="#ffffff" fill-opacity="1" filter="url(#bl05)"/>
<ellipse cx="244.00" cy="530.00" rx="4.25" ry="0.95" fill="#ffffff" fill-opacity="0.95" filter="url(#bl05)"/>
<ellipse cx="244.00" cy="537.50" rx="4.25" ry="0.95" fill="#ffffff" fill-opacity="0.95" filter="url(#bl05)"/>
<ellipse cx="244.00" cy="547.50" rx="4.25" ry="0.95" fill="#ffffff" fill-opacity="0.85" filter="url(#bl05)"/>
<ellipse cx="244.00" cy="561.60" rx="4.25" ry="0.95" fill="#ffffff" fill-opacity="0.45" filter="url(#bl05)"/>
<ellipse cx="256.70" cy="555.00" rx="5.00" ry="1.50" fill="#ffffff" fill-opacity="0.35" filter="url(#bl2)"/>
<ellipse cx="256.70" cy="552.40" rx="5.50" ry="2.20" fill="#ffffff" fill-opacity="1" filter="url(#glow)"/>
<ellipse cx="256.70" cy="552.40" rx="4.75" ry="1.40" fill="#ffffff" fill-opacity="1" filter="url(#bl05)"/>
<ellipse cx="269.50" cy="555.00" rx="4.50" ry="1.50" fill="#ffffff" fill-opacity="0.2" filter="url(#bl2)"/>
<ellipse cx="269.50" cy="552.40" rx="5.00" ry="1.80" fill="#dddddd" fill-opacity="0.9" filter="url(#glow)"/>
</g>
<text x="232.40" y="497.70" font-size="8.14" text-anchor="end" fill="#303030" stroke="#303030" stroke-width="0.1" textLength="26.50" lengthAdjust="spacingAndGlyphs">1500bp</text>
<text x="232.40" y="525.40" font-size="8.14" text-anchor="end" fill="#303030" stroke="#303030" stroke-width="0.1" textLength="22.30" lengthAdjust="spacingAndGlyphs">500bp</text>
<text x="232.40" y="539.10" font-size="8.14" text-anchor="end" fill="#303030" stroke="#303030" stroke-width="0.1" textLength="22.30" lengthAdjust="spacingAndGlyphs">300bp</text>
<text x="232.40" y="548.80" font-size="8.14" text-anchor="end" fill="#303030" stroke="#303030" stroke-width="0.1" textLength="22.30" lengthAdjust="spacingAndGlyphs">200bp</text>
<text x="232.40" y="562.40" font-size="8.14" text-anchor="end" fill="#303030" stroke="#303030" stroke-width="0.1" textLength="22.30" lengthAdjust="spacingAndGlyphs">100bp</text>
<text x="235.40" y="576.60" font-size="8.36" fill="#303030" stroke="#303030" stroke-width="0.1" textLength="14.60" lengthAdjust="spacingAndGlyphs">Flag</text>
<text x="235.40" y="584.70" font-size="8.36" fill="#303030" stroke="#303030" stroke-width="0.1" textLength="12.00" lengthAdjust="spacingAndGlyphs">IgG</text>
<text x="272.30" y="576.40" font-size="8.36" text-anchor="middle" fill="#303030" stroke="#303030" stroke-width="0.1" textLength="4.44" lengthAdjust="spacingAndGlyphs">+</text>
<text x="285.50" y="576.40" font-size="8.36" text-anchor="middle" fill="#303030" stroke="#303030" stroke-width="0.1" textLength="4.44" lengthAdjust="spacingAndGlyphs">−</text>
<text x="272.30" y="584.50" font-size="8.36" text-anchor="middle" fill="#303030" stroke="#303030" stroke-width="0.1" textLength="4.44" lengthAdjust="spacingAndGlyphs">−</text>
<text x="285.50" y="584.50" font-size="8.36" text-anchor="middle" fill="#303030" stroke="#303030" stroke-width="0.1" textLength="4.44" lengthAdjust="spacingAndGlyphs">+</text>
<line x1="250.50" y1="588.00" x2="261.60" y2="588.00" stroke="#333" stroke-width="0.8"/>
<line x1="265.30" y1="588.00" x2="293.00" y2="588.00" stroke="#333" stroke-width="0.8"/>
<text x="255.60" y="596.80" font-size="8.36" text-anchor="middle" fill="#303030" stroke="#303030" stroke-width="0.1" textLength="17.50" lengthAdjust="spacingAndGlyphs">Input</text>
<text x="279.80" y="596.80" font-size="8.36" text-anchor="middle" fill="#303030" stroke="#303030" stroke-width="0.1" textLength="11.50" lengthAdjust="spacingAndGlyphs">RIP</text>
<line x1="331.30" y1="494.60" x2="331.30" y2="569.40" stroke="#2a2a2a" stroke-width="1"/>
<line x1="328.30" y1="494.60" x2="331.30" y2="494.60" stroke="#2a2a2a" stroke-width="0.9"/>
<text x="326.70" y="497.85" font-size="9.02" text-anchor="end" fill="#303030" stroke="#303030" stroke-width="0.1" textLength="13.68" lengthAdjust="spacingAndGlyphs">100</text>
<line x1="328.30" y1="509.56" x2="331.30" y2="509.56" stroke="#2a2a2a" stroke-width="0.9"/>
<text x="326.70" y="512.81" font-size="9.02" text-anchor="end" fill="#303030" stroke="#303030" stroke-width="0.1" textLength="9.12" lengthAdjust="spacingAndGlyphs">80</text>
<line x1="328.30" y1="524.52" x2="331.30" y2="524.52" stroke="#2a2a2a" stroke-width="0.9"/>
<text x="326.70" y="527.77" font-size="9.02" text-anchor="end" fill="#303030" stroke="#303030" stroke-width="0.1" textLength="9.12" lengthAdjust="spacingAndGlyphs">60</text>
<line x1="328.30" y1="539.48" x2="331.30" y2="539.48" stroke="#2a2a2a" stroke-width="0.9"/>
<text x="326.70" y="542.73" font-size="9.02" text-anchor="end" fill="#303030" stroke="#303030" stroke-width="0.1" textLength="9.12" lengthAdjust="spacingAndGlyphs">40</text>
<line x1="328.30" y1="554.44" x2="331.30" y2="554.44" stroke="#2a2a2a" stroke-width="0.9"/>
<text x="326.70" y="557.69" font-size="9.02" text-anchor="end" fill="#303030" stroke="#303030" stroke-width="0.1" textLength="9.12" lengthAdjust="spacingAndGlyphs">20</text>
<line x1="328.30" y1="569.40" x2="331.30" y2="569.40" stroke="#2a2a2a" stroke-width="0.9"/>
<text x="326.70" y="572.65" font-size="9.02" text-anchor="end" fill="#303030" stroke="#303030" stroke-width="0.1" textLength="4.56" lengthAdjust="spacingAndGlyphs">0</text>
<rect x="338.60" y="568.65" width="14.50" height="0.75" fill="#c52034"/>
<line x1="345.85" y1="568.65" x2="345.85" y2="566.03" stroke="#555" stroke-width="1"/>
<line x1="341.85" y1="566.03" x2="349.85" y2="566.03" stroke="#555" stroke-width="1"/>
<rect x="360.90" y="520.03" width="14.00" height="49.37" fill="#0c5283"/>
<line x1="367.90" y1="520.03" x2="367.90" y2="503.58" stroke="#0c5283" stroke-width="1"/>
<line x1="363.90" y1="503.58" x2="371.90" y2="503.58" stroke="#0c5283" stroke-width="1"/>
<line x1="331.30" y1="569.40" x2="381.70" y2="569.40" stroke="#2a2a2a" stroke-width="1"/>
<line x1="345.80" y1="569.40" x2="345.80" y2="572.20" stroke="#2a2a2a" stroke-width="0.9"/>
<line x1="367.90" y1="569.40" x2="367.90" y2="572.20" stroke="#2a2a2a" stroke-width="0.9"/>
<path d="M345.40,565.80 V494.60 H367.60 V498.70" fill="none" stroke="#8a8a8a" stroke-width="1.0"/>
<text x="353.10" y="493.80" font-size="9.13" text-anchor="middle" fill="#303030" stroke="#303030" stroke-width="0.1" textLength="9.69" lengthAdjust="spacingAndGlyphs">***</text>
<text x="345.80" y="582.60" font-size="8.36" text-anchor="middle" fill="#303030" stroke="#303030" stroke-width="0.1" textLength="12.50" lengthAdjust="spacingAndGlyphs">IgG</text>
<text x="367.60" y="582.60" font-size="8.36" text-anchor="middle" fill="#303030" stroke="#303030" stroke-width="0.1" textLength="15.00" lengthAdjust="spacingAndGlyphs">Flag</text>
<text x="311.60" y="531.40" font-size="9.79" text-anchor="middle" fill="#303030" stroke="#303030" stroke-width="0.1" textLength="118.60" lengthAdjust="spacingAndGlyphs" transform="rotate(-90 311.60 531.40)">Relative enrichment of KLF2 RIP/IgG</text>
<text x="376.60" y="460.80" font-size="11.5" fill="#111" font-weight="bold">K</text>
<text x="404.20" y="468.30" font-size="9.9" fill="#303030" stroke="#303030" stroke-width="0.1" textLength="109.20" lengthAdjust="spacingAndGlyphs">Hut78/KLF2 RNA stability</text>
<line x1="414.90" y1="508.20" x2="414.90" y2="568.40" stroke="#2a2a2a" stroke-width="1"/>
<line x1="411.90" y1="508.20" x2="414.90" y2="508.20" stroke="#2a2a2a" stroke-width="0.9"/>
<text x="409.20" y="511.37" font-size="8.8" text-anchor="end" fill="#303030" stroke="#303030" stroke-width="0.1" textLength="13.35" lengthAdjust="spacingAndGlyphs">150</text>
<line x1="411.90" y1="528.27" x2="414.90" y2="528.27" stroke="#2a2a2a" stroke-width="0.9"/>
<text x="409.20" y="531.44" font-size="8.8" text-anchor="end" fill="#303030" stroke="#303030" stroke-width="0.1" textLength="13.35" lengthAdjust="spacingAndGlyphs">100</text>
<line x1="411.90" y1="548.34" x2="414.90" y2="548.34" stroke="#2a2a2a" stroke-width="0.9"/>
<text x="409.20" y="551.50" font-size="8.8" text-anchor="end" fill="#303030" stroke="#303030" stroke-width="0.1" textLength="8.90" lengthAdjust="spacingAndGlyphs">50</text>
<line x1="411.90" y1="568.40" x2="414.90" y2="568.40" stroke="#2a2a2a" stroke-width="0.9"/>
<text x="409.20" y="571.57" font-size="8.8" text-anchor="end" fill="#303030" stroke="#303030" stroke-width="0.1" textLength="4.45" lengthAdjust="spacingAndGlyphs">0</text>
<line x1="414.90" y1="568.40" x2="506.30" y2="568.40" stroke="#2a2a2a" stroke-width="1"/>
<line x1="414.90" y1="568.40" x2="414.90" y2="571.20" stroke="#2a2a2a" stroke-width="0.9"/>
<text x="414.90" y="580.60" font-size="9.02" text-anchor="middle" fill="#303030" stroke="#303030" stroke-width="0.1" textLength="4.56" lengthAdjust="spacingAndGlyphs">0</text>
<line x1="445.15" y1="568.40" x2="445.15" y2="571.20" stroke="#2a2a2a" stroke-width="0.9"/>
<text x="445.15" y="580.60" font-size="9.02" text-anchor="middle" fill="#303030" stroke="#303030" stroke-width="0.1" textLength="9.12" lengthAdjust="spacingAndGlyphs">20</text>
<line x1="475.40" y1="568.40" x2="475.40" y2="571.20" stroke="#2a2a2a" stroke-width="0.9"/>
<text x="475.40" y="580.60" font-size="9.02" text-anchor="middle" fill="#303030" stroke="#303030" stroke-width="0.1" textLength="9.12" lengthAdjust="spacingAndGlyphs">40</text>
<line x1="505.65" y1="568.40" x2="505.65" y2="571.20" stroke="#2a2a2a" stroke-width="0.9"/>
<text x="505.65" y="580.60" font-size="9.02" text-anchor="middle" fill="#303030" stroke="#303030" stroke-width="0.1" textLength="9.12" lengthAdjust="spacingAndGlyphs">60</text>
<text x="460.60" y="591.30" font-size="8.8" text-anchor="middle" fill="#303030" stroke="#303030" stroke-width="0.1" textLength="49.00" lengthAdjust="spacingAndGlyphs">Time (minutes)</text>
<text x="393.20" y="538.40" font-size="9.02" text-anchor="middle" fill="#303030" stroke="#303030" stroke-width="0.1" textLength="103.20" lengthAdjust="spacingAndGlyphs" transform="rotate(-90 393.20 538.40)">Percent remaining of KLF2 RNA</text>
<line x1="445.15" y1="537.10" x2="445.15" y2="529.07" stroke="#4a86c0" stroke-width="0.8"/>
<line x1="442.85" y1="537.10" x2="447.45" y2="537.10" stroke="#4a86c0" stroke-width="0.8"/>
<line x1="442.85" y1="529.07" x2="447.45" y2="529.07" stroke="#4a86c0" stroke-width="0.8"/>
<line x1="475.40" y1="530.28" x2="475.40" y2="527.87" stroke="#4a86c0" stroke-width="0.8"/>
<line x1="473.10" y1="530.28" x2="477.70" y2="530.28" stroke="#4a86c0" stroke-width="0.8"/>
<line x1="473.10" y1="527.87" x2="477.70" y2="527.87" stroke="#4a86c0" stroke-width="0.8"/>
<line x1="505.65" y1="544.32" x2="505.65" y2="531.48" stroke="#4a86c0" stroke-width="0.8"/>
<line x1="503.35" y1="544.32" x2="507.95" y2="544.32" stroke="#4a86c0" stroke-width="0.8"/>
<line x1="503.35" y1="531.48" x2="507.95" y2="531.48" stroke="#4a86c0" stroke-width="0.8"/>
<line x1="445.15" y1="544.32" x2="445.15" y2="530.68" stroke="#e05a6a" stroke-width="0.8"/>
<line x1="442.85" y1="544.32" x2="447.45" y2="544.32" stroke="#e05a6a" stroke-width="0.8"/>
<line x1="442.85" y1="530.68" x2="447.45" y2="530.68" stroke="#e05a6a" stroke-width="0.8"/>
<line x1="475.40" y1="547.93" x2="475.40" y2="535.09" stroke="#e05a6a" stroke-width="0.8"/>
<line x1="473.10" y1="547.93" x2="477.70" y2="547.93" stroke="#e05a6a" stroke-width="0.8"/>
<line x1="473.10" y1="535.09" x2="477.70" y2="535.09" stroke="#e05a6a" stroke-width="0.8"/>
<line x1="505.65" y1="549.54" x2="505.65" y2="546.33" stroke="#e05a6a" stroke-width="0.8"/>
<line x1="503.35" y1="549.54" x2="507.95" y2="549.54" stroke="#e05a6a" stroke-width="0.8"/>
<line x1="503.35" y1="546.33" x2="507.95" y2="546.33" stroke="#e05a6a" stroke-width="0.8"/>
<path d="M414.90,528.27 L445.15,537.50 L475.40,541.51 L505.65,547.93" fill="none" stroke="#c52034" stroke-width="1.1"/>
<path d="M414.90,527.87 L445.15,533.09 L475.40,529.07 L505.65,537.90" fill="none" stroke="#0c5283" stroke-width="1.1"/>
<rect x="413.00" y="526.37" width="3.80" height="3.80" fill="#c52034"/>
<rect x="443.25" y="535.60" width="3.80" height="3.80" fill="#c52034"/>
<rect x="473.50" y="539.61" width="3.80" height="3.80" fill="#c52034"/>
<rect x="503.75" y="546.03" width="3.80" height="3.80" fill="#c52034"/>
<circle cx="414.90" cy="527.87" r="1.90" fill="#0c5283"/>
<circle cx="445.15" cy="533.09" r="1.90" fill="#0c5283"/>
<circle cx="475.40" cy="529.07" r="1.90" fill="#0c5283"/>
<circle cx="505.65" cy="537.90" r="1.90" fill="#0c5283"/>
<text x="475.40" y="526.00" font-size="9.13" text-anchor="middle" fill="#303030" stroke="#303030" stroke-width="0.1" textLength="6.46" lengthAdjust="spacingAndGlyphs">**</text>
<text x="505.70" y="530.10" font-size="9.13" text-anchor="middle" fill="#303030" stroke="#303030" stroke-width="0.1" textLength="3.23" lengthAdjust="spacingAndGlyphs">*</text>
<line x1="418.00" y1="492.30" x2="425.40" y2="492.30" stroke="#c52034" stroke-width="1.1"/>
<rect x="419.90" y="490.60" width="3.40" height="3.40" fill="#c52034"/>
<text x="426.80" y="495.00" font-size="8.36" fill="#303030" stroke="#303030" stroke-width="0.1" textLength="16.50" lengthAdjust="spacingAndGlyphs">RF1b</text>
<line x1="418.00" y1="501.90" x2="425.40" y2="501.90" stroke="#0c5283" stroke-width="1.1"/>
<circle cx="421.70" cy="501.90" r="1.80" fill="#0c5283"/>
<text x="426.80" y="504.60" font-size="8.36" fill="#303030" stroke="#303030" stroke-width="0.1" textLength="23.00" lengthAdjust="spacingAndGlyphs">Vector</text>
</svg>
</body></html>
